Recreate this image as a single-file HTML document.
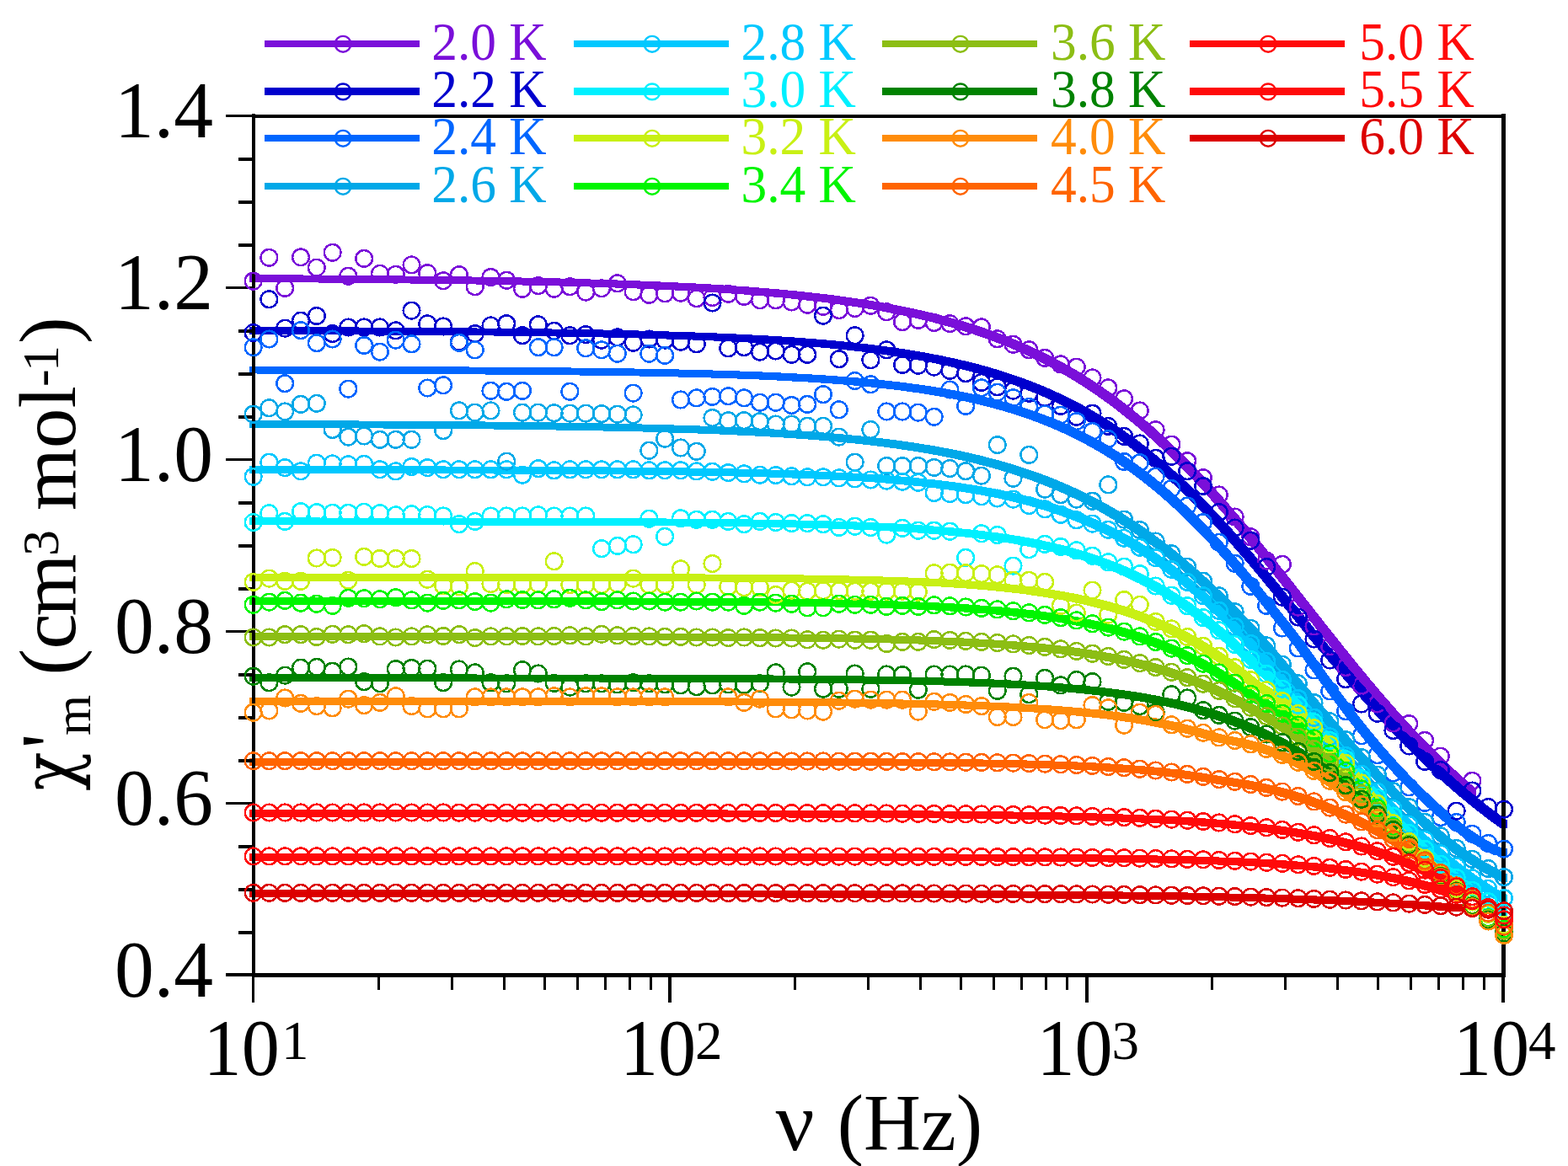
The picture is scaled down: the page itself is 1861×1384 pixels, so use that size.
<!DOCTYPE html>
<html lang="en"><head><meta charset="utf-8"><title>AC susceptibility vs frequency</title>
<style>html,body{margin:0;padding:0;background:#fff}body{width:1861px;height:1384px;overflow:hidden}svg{display:block}text{font-family:'Liberation Serif','Times New Roman',Times,serif;}</style></head><body>
<svg width="1861" height="1384" viewBox="0 0 1861 1384" role="img" aria-label="AC susceptibility versus frequency">
<rect x="0" y="0" width="1861" height="1384" fill="#ffffff"/>
<g stroke="none" shape-rendering="crispEdges">
<path d="M296.2 326.2 L305.0 326.2 L314.1 326.2 L323.2 326.3 L332.3 326.3 L341.4 326.4 L350.5 326.4 L359.6 326.5 L368.7 326.5 L377.8 326.6 L386.9 326.7 L396.0 326.7 L405.1 326.8 L414.2 326.9 L423.3 326.9 L432.4 327.0 L441.5 327.1 L450.6 327.2 L459.7 327.3 L468.8 327.4 L477.9 327.5 L487.0 327.6 L496.1 327.7 L505.2 327.8 L514.3 327.9 L523.4 328.0 L532.5 328.1 L541.6 328.2 L550.7 328.4 L559.8 328.5 L568.9 328.6 L578.0 328.8 L587.1 328.9 L596.2 329.1 L605.3 329.3 L614.4 329.4 L623.5 329.6 L632.6 329.8 L641.7 330.0 L650.8 330.2 L659.9 330.4 L669.0 330.6 L678.1 330.9 L687.2 331.1 L696.3 331.4 L705.4 331.6 L714.5 331.9 L723.6 332.2 L732.7 332.5 L741.8 332.8 L750.9 333.2 L760.0 333.5 L769.1 333.9 L778.2 334.3 L787.3 334.6 L796.4 335.1 L805.5 335.5 L814.6 335.9 L823.7 336.4 L832.8 336.9 L841.9 337.4 L851.0 338.0 L860.1 338.6 L869.2 339.2 L878.3 339.8 L887.4 340.4 L896.5 341.1 L905.6 341.9 L914.7 342.6 L923.8 343.4 L932.9 344.3 L942.0 345.1 L951.1 346.1 L960.2 347.0 L969.3 348.1 L978.4 349.1 L987.5 350.2 L996.6 351.4 L1005.7 352.7 L1014.8 354.0 L1023.9 355.3 L1033.0 356.8 L1042.1 358.3 L1051.2 359.9 L1060.3 361.6 L1069.4 363.3 L1078.5 365.2 L1087.6 367.1 L1096.7 369.2 L1105.8 371.3 L1114.9 373.6 L1124.0 376.0 L1133.1 378.5 L1142.2 381.1 L1151.3 383.8 L1160.4 386.7 L1169.5 389.8 L1178.6 393.0 L1187.7 396.3 L1196.8 399.9 L1205.9 403.5 L1215.0 407.4 L1224.1 411.5 L1233.2 415.7 L1242.3 420.2 L1251.4 424.9 L1260.5 429.8 L1269.6 434.9 L1278.7 440.2 L1287.8 445.8 L1296.9 451.6 L1306.0 457.7 L1315.1 464.0 L1324.2 470.6 L1333.3 477.4 L1342.3 484.5 L1351.4 491.9 L1360.5 499.5 L1369.6 507.4 L1378.7 515.6 L1387.8 524.1 L1396.9 532.8 L1406.0 541.8 L1415.1 551.0 L1424.2 560.5 L1433.3 570.2 L1442.4 580.2 L1451.5 590.4 L1460.6 600.8 L1469.7 611.4 L1478.8 622.2 L1487.9 633.1 L1497.0 644.2 L1506.1 655.5 L1515.2 666.8 L1524.3 678.3 L1533.4 689.8 L1542.5 701.3 L1551.6 712.9 L1560.7 724.5 L1569.8 736.1 L1578.9 747.6 L1588.0 759.1 L1597.1 770.5 L1606.2 781.8 L1615.3 792.9 L1624.4 804.0 L1633.5 814.8 L1642.6 825.5 L1651.7 836.0 L1660.8 846.3 L1669.9 856.4 L1679.0 866.2 L1688.1 875.9 L1697.2 885.2 L1706.3 894.3 L1715.4 903.2 L1724.5 911.7 L1733.6 920.1 L1742.7 928.1 L1751.8 935.9 L1751.8 944.7 L1743.0 944.7 L1733.9 936.9 L1724.8 928.9 L1715.7 920.5 L1706.6 912.0 L1697.5 903.1 L1688.4 894.0 L1679.3 884.7 L1670.2 875.0 L1661.1 865.2 L1652.0 855.1 L1642.9 844.8 L1633.8 834.3 L1624.7 823.6 L1615.6 812.8 L1606.5 801.7 L1597.4 790.6 L1588.3 779.3 L1579.2 767.9 L1570.1 756.4 L1561.0 744.9 L1551.9 733.3 L1542.8 721.7 L1533.7 710.1 L1524.6 698.6 L1515.5 687.1 L1506.4 675.6 L1497.3 664.3 L1488.2 653.0 L1479.1 641.9 L1470.0 631.0 L1460.9 620.2 L1451.8 609.6 L1442.7 599.2 L1433.6 589.0 L1424.5 579.0 L1415.4 569.3 L1406.3 559.8 L1397.2 550.6 L1388.1 541.6 L1379.0 532.9 L1369.9 524.4 L1360.8 516.2 L1351.7 508.3 L1342.6 500.7 L1333.5 493.3 L1324.5 486.2 L1315.4 479.4 L1306.3 472.8 L1297.2 466.5 L1288.1 460.4 L1279.0 454.6 L1269.9 449.0 L1260.8 443.7 L1251.7 438.6 L1242.6 433.7 L1233.5 429.0 L1224.4 424.5 L1215.3 420.3 L1206.2 416.2 L1197.1 412.3 L1188.0 408.7 L1178.9 405.1 L1169.8 401.8 L1160.7 398.6 L1151.6 395.5 L1142.5 392.6 L1133.4 389.9 L1124.3 387.3 L1115.2 384.8 L1106.1 382.4 L1097.0 380.1 L1087.9 378.0 L1078.8 375.9 L1069.7 374.0 L1060.6 372.1 L1051.5 370.4 L1042.4 368.7 L1033.3 367.1 L1024.2 365.6 L1015.1 364.1 L1006.0 362.8 L996.9 361.5 L987.8 360.2 L978.7 359.0 L969.6 357.9 L960.5 356.9 L951.4 355.8 L942.3 354.9 L933.2 353.9 L924.1 353.1 L915.0 352.2 L905.9 351.4 L896.8 350.7 L887.7 349.9 L878.6 349.2 L869.5 348.6 L860.4 348.0 L851.3 347.4 L842.2 346.8 L833.1 346.2 L824.0 345.7 L814.9 345.2 L805.8 344.7 L796.7 344.3 L787.6 343.9 L778.5 343.4 L769.4 343.1 L760.3 342.7 L751.2 342.3 L742.1 342.0 L733.0 341.6 L723.9 341.3 L714.8 341.0 L705.7 340.7 L696.6 340.4 L687.5 340.2 L678.4 339.9 L669.3 339.7 L660.2 339.4 L651.1 339.2 L642.0 339.0 L632.9 338.8 L623.8 338.6 L614.7 338.4 L605.6 338.2 L596.5 338.1 L587.4 337.9 L578.3 337.7 L569.2 337.6 L560.1 337.4 L551.0 337.3 L541.9 337.2 L532.8 337.0 L523.7 336.9 L514.6 336.8 L505.5 336.7 L496.4 336.6 L487.3 336.5 L478.2 336.4 L469.1 336.3 L460.0 336.2 L450.9 336.1 L441.8 336.0 L432.7 335.9 L423.6 335.8 L414.5 335.7 L405.4 335.7 L396.3 335.6 L387.2 335.5 L378.1 335.5 L369.0 335.4 L359.9 335.3 L350.8 335.3 L341.7 335.2 L332.6 335.2 L323.5 335.1 L314.4 335.1 L305.3 335.0 L296.2 335.0Z" fill="#7a0fd9"/>
<path d="M296.2 388.0 L305.0 388.0 L314.3 388.1 L323.7 388.1 L333.0 388.1 L342.3 388.1 L351.7 388.2 L361.0 388.2 L370.4 388.2 L379.7 388.3 L389.0 388.3 L398.4 388.4 L407.7 388.4 L417.0 388.4 L426.4 388.5 L435.7 388.5 L445.0 388.6 L454.4 388.6 L463.7 388.7 L473.0 388.7 L482.4 388.8 L491.7 388.9 L501.1 388.9 L510.4 389.0 L519.7 389.1 L529.1 389.1 L538.4 389.2 L547.7 389.3 L557.1 389.4 L566.4 389.5 L575.7 389.5 L585.1 389.6 L594.4 389.7 L603.7 389.8 L613.1 390.0 L622.4 390.1 L631.8 390.2 L641.1 390.3 L650.4 390.4 L659.8 390.6 L669.1 390.7 L678.4 390.9 L687.8 391.0 L697.1 391.2 L706.4 391.4 L715.8 391.5 L725.1 391.7 L734.5 391.9 L743.8 392.1 L753.1 392.4 L762.5 392.6 L771.8 392.8 L781.1 393.1 L790.5 393.4 L799.8 393.7 L809.1 394.0 L818.5 394.3 L827.8 394.6 L837.1 394.9 L846.5 395.3 L855.8 395.7 L865.2 396.1 L874.5 396.5 L883.8 397.0 L893.2 397.5 L902.5 398.0 L911.8 398.5 L921.2 399.1 L930.5 399.7 L939.8 400.3 L949.2 401.0 L958.5 401.7 L967.8 402.4 L977.2 403.2 L986.5 404.0 L995.9 404.9 L1005.2 405.8 L1014.5 406.8 L1023.9 407.8 L1033.2 408.9 L1042.5 410.1 L1051.9 411.3 L1061.2 412.6 L1070.5 414.0 L1079.9 415.5 L1089.2 417.0 L1098.6 418.6 L1107.9 420.4 L1117.2 422.2 L1126.6 424.2 L1135.9 426.2 L1145.2 428.4 L1154.6 430.7 L1163.9 433.1 L1173.2 435.7 L1182.6 438.5 L1191.9 441.4 L1201.2 444.4 L1210.6 447.7 L1219.9 451.1 L1229.3 454.7 L1238.6 458.5 L1247.9 462.5 L1257.3 466.8 L1266.6 471.2 L1275.9 475.9 L1285.3 480.9 L1294.6 486.1 L1303.9 491.5 L1313.3 497.3 L1322.6 503.3 L1332.0 509.6 L1341.3 516.2 L1350.6 523.0 L1360.0 530.2 L1369.3 537.7 L1378.6 545.5 L1388.0 553.6 L1397.3 561.9 L1406.6 570.6 L1416.0 579.6 L1425.3 588.9 L1434.6 598.4 L1444.0 608.3 L1453.3 618.3 L1462.7 628.7 L1472.0 639.2 L1481.3 650.0 L1490.7 660.9 L1500.0 672.0 L1509.3 683.3 L1518.7 694.7 L1528.0 706.2 L1537.3 717.7 L1546.7 729.3 L1556.0 740.9 L1565.3 752.5 L1574.7 763.4 L1584.0 774.3 L1593.4 785.2 L1602.7 796.1 L1612.0 806.8 L1621.4 817.5 L1630.7 828.0 L1640.0 838.4 L1649.4 848.5 L1658.7 858.5 L1668.0 868.3 L1677.4 877.8 L1686.7 887.1 L1696.1 896.1 L1705.4 904.9 L1714.7 913.5 L1724.1 921.9 L1733.4 930.0 L1742.7 937.9 L1752.1 945.6 L1761.4 953.1 L1770.7 960.3 L1780.1 967.3 L1789.4 973.9 L1789.4 982.7 L1780.6 982.7 L1771.3 976.1 L1761.9 969.1 L1752.6 961.9 L1743.3 954.4 L1733.9 946.7 L1724.6 938.8 L1715.3 930.7 L1705.9 922.3 L1696.6 913.7 L1687.3 904.9 L1677.9 895.9 L1668.6 886.6 L1659.2 877.1 L1649.9 867.3 L1640.6 857.3 L1631.2 847.2 L1621.9 836.8 L1612.6 826.3 L1603.2 815.6 L1593.9 804.9 L1584.6 794.0 L1575.2 783.1 L1565.9 772.2 L1556.5 761.3 L1547.2 749.7 L1537.9 738.1 L1528.5 726.5 L1519.2 715.0 L1509.9 703.5 L1500.5 692.1 L1491.2 680.8 L1481.9 669.7 L1472.5 658.8 L1463.2 648.0 L1453.9 637.5 L1444.5 627.1 L1435.2 617.1 L1425.8 607.2 L1416.5 597.7 L1407.2 588.4 L1397.8 579.4 L1388.5 570.7 L1379.2 562.4 L1369.8 554.3 L1360.5 546.5 L1351.2 539.0 L1341.8 531.8 L1332.5 525.0 L1323.2 518.4 L1313.8 512.1 L1304.5 506.1 L1295.1 500.3 L1285.8 494.9 L1276.5 489.7 L1267.1 484.7 L1257.8 480.0 L1248.5 475.6 L1239.1 471.3 L1229.8 467.3 L1220.5 463.5 L1211.1 459.9 L1201.8 456.5 L1192.4 453.2 L1183.1 450.2 L1173.8 447.3 L1164.4 444.5 L1155.1 441.9 L1145.8 439.5 L1136.4 437.2 L1127.1 435.0 L1117.8 433.0 L1108.4 431.0 L1099.1 429.2 L1089.8 427.4 L1080.4 425.8 L1071.1 424.3 L1061.7 422.8 L1052.4 421.4 L1043.1 420.1 L1033.7 418.9 L1024.4 417.7 L1015.1 416.6 L1005.7 415.6 L996.4 414.6 L987.1 413.7 L977.7 412.8 L968.4 412.0 L959.0 411.2 L949.7 410.5 L940.4 409.8 L931.0 409.1 L921.7 408.5 L912.4 407.9 L903.0 407.3 L893.7 406.8 L884.4 406.3 L875.0 405.8 L865.7 405.3 L856.4 404.9 L847.0 404.5 L837.7 404.1 L828.3 403.7 L819.0 403.4 L809.7 403.1 L800.3 402.8 L791.0 402.5 L781.7 402.2 L772.3 401.9 L763.0 401.6 L753.7 401.4 L744.3 401.2 L735.0 400.9 L725.7 400.7 L716.3 400.5 L707.0 400.3 L697.6 400.2 L688.3 400.0 L679.0 399.8 L669.6 399.7 L660.3 399.5 L651.0 399.4 L641.6 399.2 L632.3 399.1 L623.0 399.0 L613.6 398.9 L604.3 398.8 L594.9 398.6 L585.6 398.5 L576.3 398.4 L566.9 398.3 L557.6 398.3 L548.3 398.2 L538.9 398.1 L529.6 398.0 L520.3 397.9 L510.9 397.9 L501.6 397.8 L492.3 397.7 L482.9 397.7 L473.6 397.6 L464.2 397.5 L454.9 397.5 L445.6 397.4 L436.2 397.4 L426.9 397.3 L417.6 397.3 L408.2 397.2 L398.9 397.2 L389.6 397.2 L380.2 397.1 L370.9 397.1 L361.6 397.0 L352.2 397.0 L342.9 397.0 L333.5 396.9 L324.2 396.9 L314.9 396.9 L305.5 396.9 L296.2 396.8Z" fill="#0000cd"/>
<path d="M296.2 434.6 L305.0 434.6 L314.3 434.7 L323.7 434.7 L333.0 434.7 L342.3 434.7 L351.7 434.7 L361.0 434.8 L370.4 434.8 L379.7 434.8 L389.0 434.8 L398.4 434.8 L407.7 434.9 L417.0 434.9 L426.4 434.9 L435.7 435.0 L445.0 435.0 L454.4 435.0 L463.7 435.1 L473.0 435.1 L482.4 435.1 L491.7 435.2 L501.1 435.2 L510.4 435.2 L519.7 435.3 L529.1 435.3 L538.4 435.4 L547.7 435.4 L557.1 435.5 L566.4 435.5 L575.7 435.6 L585.1 435.7 L594.4 435.7 L603.7 435.8 L613.1 435.9 L622.4 435.9 L631.8 436.0 L641.1 436.1 L650.4 436.2 L659.8 436.3 L669.1 436.4 L678.4 436.5 L687.8 436.6 L697.1 436.7 L706.4 436.8 L715.8 436.9 L725.1 437.0 L734.5 437.2 L743.8 437.3 L753.1 437.5 L762.5 437.6 L771.8 437.8 L781.1 438.0 L790.5 438.2 L799.8 438.3 L809.1 438.6 L818.5 438.8 L827.8 439.0 L837.1 439.3 L846.5 439.5 L855.8 439.8 L865.2 440.1 L874.5 440.4 L883.8 440.7 L893.2 441.1 L902.5 441.4 L911.8 441.8 L921.2 442.2 L930.5 442.7 L939.8 443.2 L949.2 443.7 L958.5 444.2 L967.8 444.7 L977.2 445.3 L986.5 446.0 L995.9 446.6 L1005.2 447.4 L1014.5 448.1 L1023.9 448.9 L1033.2 449.8 L1042.5 450.7 L1051.9 451.7 L1061.2 452.7 L1070.5 453.8 L1079.9 455.0 L1089.2 456.3 L1098.6 457.6 L1107.9 459.0 L1117.2 460.6 L1126.6 462.2 L1135.9 463.9 L1145.2 465.7 L1154.6 467.7 L1163.9 469.8 L1173.2 472.0 L1182.6 474.4 L1191.9 476.9 L1201.2 479.5 L1210.6 482.4 L1219.9 485.4 L1229.3 488.6 L1238.6 492.0 L1247.9 495.6 L1257.3 499.4 L1266.6 503.5 L1275.9 507.8 L1285.3 512.4 L1294.6 517.2 L1303.9 522.3 L1313.3 527.6 L1322.6 533.3 L1332.0 539.3 L1341.3 545.6 L1350.6 552.1 L1360.0 559.1 L1369.3 566.3 L1378.6 573.9 L1388.0 581.8 L1397.3 590.1 L1406.6 598.6 L1416.0 607.6 L1425.3 616.8 L1434.6 626.4 L1444.0 636.3 L1453.3 646.4 L1462.7 656.9 L1472.0 667.6 L1481.3 678.6 L1490.7 689.8 L1500.0 701.2 L1509.3 712.8 L1518.7 724.5 L1528.0 736.3 L1537.3 748.2 L1546.7 760.5 L1556.0 773.5 L1565.3 786.5 L1574.7 799.5 L1584.0 812.3 L1593.4 824.9 L1602.7 837.3 L1612.0 849.4 L1621.4 861.2 L1630.7 872.7 L1640.0 883.9 L1649.4 894.6 L1658.7 904.9 L1668.0 914.9 L1677.4 924.6 L1686.7 934.0 L1696.1 943.0 L1705.4 951.7 L1714.7 960.1 L1724.1 968.1 L1733.4 975.9 L1742.7 983.0 L1752.1 989.5 L1761.4 995.4 L1770.7 1000.7 L1780.1 1005.6 L1789.4 1007.2 L1789.4 1016.0 L1780.6 1016.0 L1771.3 1014.4 L1761.9 1009.5 L1752.6 1004.2 L1743.3 998.3 L1733.9 991.8 L1724.6 984.7 L1715.3 976.9 L1705.9 968.9 L1696.6 960.5 L1687.3 951.8 L1677.9 942.8 L1668.6 933.4 L1659.2 923.7 L1649.9 913.7 L1640.6 903.4 L1631.2 892.7 L1621.9 881.5 L1612.6 870.0 L1603.2 858.2 L1593.9 846.1 L1584.6 833.7 L1575.2 821.1 L1565.9 808.3 L1556.5 795.3 L1547.2 782.3 L1537.9 769.3 L1528.5 757.0 L1519.2 745.1 L1509.9 733.3 L1500.5 721.6 L1491.2 710.0 L1481.9 698.6 L1472.5 687.4 L1463.2 676.4 L1453.9 665.7 L1444.5 655.2 L1435.2 645.1 L1425.8 635.2 L1416.5 625.6 L1407.2 616.4 L1397.8 607.4 L1388.5 598.9 L1379.2 590.6 L1369.8 582.7 L1360.5 575.1 L1351.2 567.9 L1341.8 560.9 L1332.5 554.4 L1323.2 548.1 L1313.8 542.1 L1304.5 536.4 L1295.1 531.1 L1285.8 526.0 L1276.5 521.2 L1267.1 516.6 L1257.8 512.3 L1248.5 508.2 L1239.1 504.4 L1229.8 500.8 L1220.5 497.4 L1211.1 494.2 L1201.8 491.2 L1192.4 488.3 L1183.1 485.7 L1173.8 483.2 L1164.4 480.8 L1155.1 478.6 L1145.8 476.5 L1136.4 474.5 L1127.1 472.7 L1117.8 471.0 L1108.4 469.4 L1099.1 467.8 L1089.8 466.4 L1080.4 465.1 L1071.1 463.8 L1061.7 462.6 L1052.4 461.5 L1043.1 460.5 L1033.7 459.5 L1024.4 458.6 L1015.1 457.7 L1005.7 456.9 L996.4 456.2 L987.1 455.4 L977.7 454.8 L968.4 454.1 L959.0 453.5 L949.7 453.0 L940.4 452.5 L931.0 452.0 L921.7 451.5 L912.4 451.0 L903.0 450.6 L893.7 450.2 L884.4 449.9 L875.0 449.5 L865.7 449.2 L856.4 448.9 L847.0 448.6 L837.7 448.3 L828.3 448.1 L819.0 447.8 L809.7 447.6 L800.3 447.4 L791.0 447.1 L781.7 447.0 L772.3 446.8 L763.0 446.6 L753.7 446.4 L744.3 446.3 L735.0 446.1 L725.7 446.0 L716.3 445.8 L707.0 445.7 L697.6 445.6 L688.3 445.5 L679.0 445.4 L669.6 445.3 L660.3 445.2 L651.0 445.1 L641.6 445.0 L632.3 444.9 L623.0 444.8 L613.6 444.7 L604.3 444.7 L594.9 444.6 L585.6 444.5 L576.3 444.5 L566.9 444.4 L557.6 444.3 L548.3 444.3 L538.9 444.2 L529.6 444.2 L520.3 444.1 L510.9 444.1 L501.6 444.0 L492.3 444.0 L482.9 444.0 L473.6 443.9 L464.2 443.9 L454.9 443.9 L445.6 443.8 L436.2 443.8 L426.9 443.8 L417.6 443.7 L408.2 443.7 L398.9 443.7 L389.6 443.6 L380.2 443.6 L370.9 443.6 L361.6 443.6 L352.2 443.6 L342.9 443.5 L333.5 443.5 L324.2 443.5 L314.9 443.5 L305.5 443.5 L296.2 443.4Z" fill="#0066ff"/>
<path d="M296.2 499.0 L305.0 499.0 L314.3 499.0 L323.7 499.1 L333.0 499.1 L342.3 499.1 L351.7 499.2 L361.0 499.2 L370.4 499.2 L379.7 499.3 L389.0 499.3 L398.4 499.3 L407.7 499.4 L417.0 499.4 L426.4 499.5 L435.7 499.5 L445.0 499.6 L454.4 499.6 L463.7 499.7 L473.0 499.7 L482.4 499.8 L491.7 499.8 L501.1 499.9 L510.4 500.0 L519.7 500.0 L529.1 500.1 L538.4 500.2 L547.7 500.3 L557.1 500.4 L566.4 500.4 L575.7 500.5 L585.1 500.6 L594.4 500.7 L603.7 500.8 L613.1 500.9 L622.4 501.0 L631.8 501.1 L641.1 501.3 L650.4 501.4 L659.8 501.5 L669.1 501.7 L678.4 501.8 L687.8 502.0 L697.1 502.1 L706.4 502.3 L715.8 502.5 L725.1 502.7 L734.5 502.8 L743.8 503.0 L753.1 503.3 L762.5 503.5 L771.8 503.7 L781.1 504.0 L790.5 504.2 L799.8 504.5 L809.1 504.8 L818.5 505.1 L827.8 505.4 L837.1 505.7 L846.5 506.1 L855.8 506.4 L865.2 506.8 L874.5 507.2 L883.8 507.7 L893.2 508.1 L902.5 508.6 L911.8 509.1 L921.2 509.6 L930.5 510.2 L939.8 510.8 L949.2 511.4 L958.5 512.0 L967.8 512.7 L977.2 513.4 L986.5 514.2 L995.9 515.0 L1005.2 515.9 L1014.5 516.8 L1023.9 517.7 L1033.2 518.8 L1042.5 519.8 L1051.9 521.0 L1061.2 522.2 L1070.5 523.4 L1079.9 524.8 L1089.2 526.2 L1098.6 527.7 L1107.9 529.2 L1117.2 530.9 L1126.6 532.7 L1135.9 534.5 L1145.2 536.5 L1154.6 538.6 L1163.9 540.8 L1173.2 543.2 L1182.6 545.6 L1191.9 548.2 L1201.2 551.0 L1210.6 553.9 L1219.9 557.0 L1229.3 560.2 L1238.6 563.6 L1247.9 567.2 L1257.3 571.0 L1266.6 575.0 L1275.9 579.2 L1285.3 583.6 L1294.6 588.2 L1303.9 593.1 L1313.3 598.2 L1322.6 603.5 L1332.0 609.1 L1341.3 615.0 L1350.6 621.1 L1360.0 627.5 L1369.3 634.1 L1378.6 641.1 L1388.0 648.3 L1397.3 655.7 L1406.6 663.5 L1416.0 671.5 L1425.3 679.8 L1434.6 688.3 L1444.0 697.1 L1453.3 706.1 L1462.7 715.4 L1472.0 724.9 L1481.3 734.5 L1490.7 744.4 L1500.0 754.4 L1509.3 765.0 L1518.7 776.1 L1528.0 787.3 L1537.3 798.6 L1546.7 809.8 L1556.0 821.1 L1565.3 832.3 L1574.7 843.4 L1584.0 854.4 L1593.4 865.3 L1602.7 876.0 L1612.0 886.5 L1621.4 896.9 L1630.7 907.2 L1640.0 917.2 L1649.4 927.1 L1658.7 936.8 L1668.0 946.2 L1677.4 955.4 L1686.7 964.3 L1696.1 973.0 L1705.4 981.4 L1714.7 989.3 L1724.1 996.8 L1733.4 1003.8 L1742.7 1010.4 L1752.1 1016.5 L1761.4 1022.3 L1770.7 1027.7 L1780.1 1032.8 L1789.4 1037.7 L1789.4 1046.5 L1780.6 1046.5 L1771.3 1041.6 L1761.9 1036.5 L1752.6 1031.1 L1743.3 1025.3 L1733.9 1019.2 L1724.6 1012.6 L1715.3 1005.6 L1705.9 998.1 L1696.6 990.2 L1687.3 981.8 L1677.9 973.1 L1668.6 964.2 L1659.2 955.0 L1649.9 945.6 L1640.6 935.9 L1631.2 926.0 L1621.9 916.0 L1612.6 905.7 L1603.2 895.3 L1593.9 884.8 L1584.6 874.1 L1575.2 863.2 L1565.9 852.2 L1556.5 841.1 L1547.2 829.9 L1537.9 818.6 L1528.5 807.4 L1519.2 796.1 L1509.9 784.9 L1500.5 773.8 L1491.2 763.2 L1481.9 753.2 L1472.5 743.3 L1463.2 733.7 L1453.9 724.2 L1444.5 714.9 L1435.2 705.9 L1425.8 697.1 L1416.5 688.6 L1407.2 680.3 L1397.8 672.3 L1388.5 664.5 L1379.2 657.1 L1369.8 649.9 L1360.5 642.9 L1351.2 636.3 L1341.8 629.9 L1332.5 623.8 L1323.2 617.9 L1313.8 612.3 L1304.5 607.0 L1295.1 601.9 L1285.8 597.0 L1276.5 592.4 L1267.1 588.0 L1257.8 583.8 L1248.5 579.8 L1239.1 576.0 L1229.8 572.4 L1220.5 569.0 L1211.1 565.8 L1201.8 562.7 L1192.4 559.8 L1183.1 557.0 L1173.8 554.4 L1164.4 552.0 L1155.1 549.6 L1145.8 547.4 L1136.4 545.3 L1127.1 543.3 L1117.8 541.5 L1108.4 539.7 L1099.1 538.0 L1089.8 536.5 L1080.4 535.0 L1071.1 533.6 L1061.7 532.2 L1052.4 531.0 L1043.1 529.8 L1033.7 528.6 L1024.4 527.6 L1015.1 526.5 L1005.7 525.6 L996.4 524.7 L987.1 523.8 L977.7 523.0 L968.4 522.2 L959.0 521.5 L949.7 520.8 L940.4 520.2 L931.0 519.6 L921.7 519.0 L912.4 518.4 L903.0 517.9 L893.7 517.4 L884.4 516.9 L875.0 516.5 L865.7 516.0 L856.4 515.6 L847.0 515.2 L837.7 514.9 L828.3 514.5 L819.0 514.2 L809.7 513.9 L800.3 513.6 L791.0 513.3 L781.7 513.0 L772.3 512.8 L763.0 512.5 L753.7 512.3 L744.3 512.1 L735.0 511.8 L725.7 511.6 L716.3 511.5 L707.0 511.3 L697.6 511.1 L688.3 510.9 L679.0 510.8 L669.6 510.6 L660.3 510.5 L651.0 510.3 L641.6 510.2 L632.3 510.1 L623.0 509.9 L613.6 509.8 L604.3 509.7 L594.9 509.6 L585.6 509.5 L576.3 509.4 L566.9 509.3 L557.6 509.2 L548.3 509.2 L538.9 509.1 L529.6 509.0 L520.3 508.9 L510.9 508.8 L501.6 508.8 L492.3 508.7 L482.9 508.6 L473.6 508.6 L464.2 508.5 L454.9 508.5 L445.6 508.4 L436.2 508.4 L426.9 508.3 L417.6 508.3 L408.2 508.2 L398.9 508.2 L389.6 508.1 L380.2 508.1 L370.9 508.1 L361.6 508.0 L352.2 508.0 L342.9 508.0 L333.5 507.9 L324.2 507.9 L314.9 507.9 L305.5 507.8 L296.2 507.8Z" fill="#00a8e8"/>
<path d="M296.2 553.1 L305.0 553.1 L314.3 553.1 L323.7 553.1 L333.0 553.1 L342.3 553.1 L351.7 553.1 L361.0 553.2 L370.4 553.2 L379.7 553.2 L389.0 553.2 L398.4 553.2 L407.7 553.2 L417.0 553.2 L426.4 553.2 L435.7 553.3 L445.0 553.3 L454.4 553.3 L463.7 553.3 L473.0 553.3 L482.4 553.4 L491.7 553.4 L501.1 553.4 L510.4 553.4 L519.7 553.4 L529.1 553.5 L538.4 553.5 L547.7 553.5 L557.1 553.6 L566.4 553.6 L575.7 553.6 L585.1 553.6 L594.4 553.7 L603.7 553.7 L613.1 553.8 L622.4 553.8 L631.8 553.9 L641.1 553.9 L650.4 553.9 L659.8 554.0 L669.1 554.1 L678.4 554.1 L687.8 554.2 L697.1 554.2 L706.4 554.3 L715.8 554.4 L725.1 554.5 L734.5 554.5 L743.8 554.6 L753.1 554.7 L762.5 554.8 L771.8 554.9 L781.1 555.0 L790.5 555.1 L799.8 555.3 L809.1 555.4 L818.5 555.5 L827.8 555.7 L837.1 555.8 L846.5 556.0 L855.8 556.2 L865.2 556.3 L874.5 556.5 L883.8 556.8 L893.2 557.0 L902.5 557.2 L911.8 557.5 L921.2 557.7 L930.5 558.0 L939.8 558.3 L949.2 558.7 L958.5 559.0 L967.8 559.4 L977.2 559.8 L986.5 560.2 L995.9 560.7 L1005.2 561.1 L1014.5 561.7 L1023.9 562.2 L1033.2 562.8 L1042.5 563.4 L1051.9 564.1 L1061.2 564.8 L1070.5 565.6 L1079.9 566.5 L1089.2 567.3 L1098.6 568.3 L1107.9 569.3 L1117.2 570.4 L1126.6 571.6 L1135.9 572.8 L1145.2 574.2 L1154.6 575.6 L1163.9 577.2 L1173.2 578.8 L1182.6 580.6 L1191.9 582.4 L1201.2 584.4 L1210.6 586.6 L1219.9 588.9 L1229.3 591.4 L1238.6 594.0 L1247.9 596.8 L1257.3 599.8 L1266.6 603.0 L1275.9 606.4 L1285.3 610.0 L1294.6 613.8 L1303.9 617.9 L1313.3 622.2 L1322.6 626.8 L1332.0 631.7 L1341.3 636.9 L1350.6 642.3 L1360.0 648.1 L1369.3 654.2 L1378.6 660.6 L1388.0 667.3 L1397.3 674.3 L1406.6 681.7 L1416.0 689.4 L1425.3 697.5 L1434.6 705.9 L1444.0 714.6 L1453.3 723.6 L1462.7 732.9 L1472.0 742.5 L1481.3 752.4 L1490.7 762.6 L1500.0 772.9 L1509.3 783.5 L1518.7 794.3 L1528.0 805.3 L1537.3 816.4 L1546.7 827.5 L1556.0 838.8 L1565.3 850.0 L1574.7 861.3 L1584.0 872.6 L1593.4 883.7 L1602.7 894.8 L1612.0 905.7 L1621.4 916.5 L1630.7 927.1 L1640.0 937.4 L1649.4 947.6 L1658.7 957.4 L1668.0 967.0 L1677.4 976.3 L1686.7 985.3 L1696.1 994.0 L1705.4 1002.3 L1714.7 1010.3 L1724.1 1018.0 L1733.4 1025.3 L1742.7 1032.4 L1752.1 1039.0 L1761.4 1045.4 L1770.7 1051.4 L1780.1 1057.2 L1789.4 1062.6 L1789.4 1071.4 L1780.6 1071.4 L1771.3 1066.0 L1761.9 1060.2 L1752.6 1054.2 L1743.3 1047.8 L1733.9 1041.2 L1724.6 1034.1 L1715.3 1026.8 L1705.9 1019.1 L1696.6 1011.1 L1687.3 1002.8 L1677.9 994.1 L1668.6 985.1 L1659.2 975.8 L1649.9 966.2 L1640.6 956.4 L1631.2 946.2 L1621.9 935.9 L1612.6 925.3 L1603.2 914.5 L1593.9 903.6 L1584.6 892.5 L1575.2 881.4 L1565.9 870.1 L1556.5 858.8 L1547.2 847.6 L1537.9 836.3 L1528.5 825.2 L1519.2 814.1 L1509.9 803.1 L1500.5 792.3 L1491.2 781.7 L1481.9 771.4 L1472.5 761.2 L1463.2 751.3 L1453.9 741.7 L1444.5 732.4 L1435.2 723.4 L1425.8 714.7 L1416.5 706.3 L1407.2 698.2 L1397.8 690.5 L1388.5 683.1 L1379.2 676.1 L1369.8 669.4 L1360.5 663.0 L1351.2 656.9 L1341.8 651.1 L1332.5 645.7 L1323.2 640.5 L1313.8 635.6 L1304.5 631.0 L1295.1 626.7 L1285.8 622.6 L1276.5 618.8 L1267.1 615.2 L1257.8 611.8 L1248.5 608.6 L1239.1 605.6 L1229.8 602.8 L1220.5 600.2 L1211.1 597.7 L1201.8 595.4 L1192.4 593.2 L1183.1 591.2 L1173.8 589.4 L1164.4 587.6 L1155.1 586.0 L1145.8 584.4 L1136.4 583.0 L1127.1 581.6 L1117.8 580.4 L1108.4 579.2 L1099.1 578.1 L1089.8 577.1 L1080.4 576.1 L1071.1 575.3 L1061.7 574.4 L1052.4 573.6 L1043.1 572.9 L1033.7 572.2 L1024.4 571.6 L1015.1 571.0 L1005.7 570.5 L996.4 569.9 L987.1 569.5 L977.7 569.0 L968.4 568.6 L959.0 568.2 L949.7 567.8 L940.4 567.5 L931.0 567.1 L921.7 566.8 L912.4 566.5 L903.0 566.3 L893.7 566.0 L884.4 565.8 L875.0 565.6 L865.7 565.3 L856.4 565.1 L847.0 565.0 L837.7 564.8 L828.3 564.6 L819.0 564.5 L809.7 564.3 L800.3 564.2 L791.0 564.1 L781.7 563.9 L772.3 563.8 L763.0 563.7 L753.7 563.6 L744.3 563.5 L735.0 563.4 L725.7 563.3 L716.3 563.3 L707.0 563.2 L697.6 563.1 L688.3 563.0 L679.0 563.0 L669.6 562.9 L660.3 562.9 L651.0 562.8 L641.6 562.7 L632.3 562.7 L623.0 562.7 L613.6 562.6 L604.3 562.6 L594.9 562.5 L585.6 562.5 L576.3 562.4 L566.9 562.4 L557.6 562.4 L548.3 562.4 L538.9 562.3 L529.6 562.3 L520.3 562.3 L510.9 562.2 L501.6 562.2 L492.3 562.2 L482.9 562.2 L473.6 562.2 L464.2 562.1 L454.9 562.1 L445.6 562.1 L436.2 562.1 L426.9 562.1 L417.6 562.0 L408.2 562.0 L398.9 562.0 L389.6 562.0 L380.2 562.0 L370.9 562.0 L361.6 562.0 L352.2 562.0 L342.9 561.9 L333.5 561.9 L324.2 561.9 L314.9 561.9 L305.5 561.9 L296.2 561.9Z" fill="#00c8ff"/>
<path d="M296.2 614.4 L305.0 614.4 L314.3 614.4 L323.7 614.4 L333.0 614.4 L342.3 614.4 L351.7 614.4 L361.0 614.4 L370.4 614.4 L379.7 614.5 L389.0 614.5 L398.4 614.5 L407.7 614.5 L417.0 614.5 L426.4 614.5 L435.7 614.5 L445.0 614.5 L454.4 614.5 L463.7 614.5 L473.0 614.5 L482.4 614.5 L491.7 614.5 L501.1 614.6 L510.4 614.6 L519.7 614.6 L529.1 614.6 L538.4 614.6 L547.7 614.6 L557.1 614.6 L566.4 614.7 L575.7 614.7 L585.1 614.7 L594.4 614.7 L603.7 614.7 L613.1 614.7 L622.4 614.8 L631.8 614.8 L641.1 614.8 L650.4 614.8 L659.8 614.9 L669.1 614.9 L678.4 614.9 L687.8 615.0 L697.1 615.0 L706.4 615.0 L715.8 615.1 L725.1 615.1 L734.5 615.2 L743.8 615.2 L753.1 615.2 L762.5 615.3 L771.8 615.4 L781.1 615.4 L790.5 615.5 L799.8 615.5 L809.1 615.6 L818.5 615.7 L827.8 615.8 L837.1 615.9 L846.5 616.0 L855.8 616.1 L865.2 616.2 L874.5 616.3 L883.8 616.4 L893.2 616.5 L902.5 616.7 L911.8 616.8 L921.2 617.0 L930.5 617.2 L939.8 617.4 L949.2 617.6 L958.5 617.8 L967.8 618.0 L977.2 618.2 L986.5 618.5 L995.9 618.8 L1005.2 619.1 L1014.5 619.4 L1023.9 619.8 L1033.2 620.2 L1042.5 620.6 L1051.9 621.0 L1061.2 621.5 L1070.5 622.0 L1079.9 622.6 L1089.2 623.1 L1098.6 623.8 L1107.9 624.5 L1117.2 625.2 L1126.6 626.0 L1135.9 626.9 L1145.2 627.8 L1154.6 628.8 L1163.9 629.8 L1173.2 631.0 L1182.6 632.2 L1191.9 633.6 L1201.2 635.0 L1210.6 636.5 L1219.9 638.2 L1229.3 640.0 L1238.6 641.9 L1247.9 643.9 L1257.3 646.2 L1266.6 648.5 L1275.9 651.1 L1285.3 653.8 L1294.6 656.7 L1303.9 659.8 L1313.3 663.2 L1322.6 666.7 L1332.0 670.5 L1341.3 674.6 L1350.6 678.9 L1360.0 683.5 L1369.3 688.4 L1378.6 693.6 L1388.0 699.1 L1397.3 704.9 L1406.6 711.0 L1416.0 717.5 L1425.3 724.3 L1434.6 731.5 L1444.0 738.9 L1453.3 746.8 L1462.7 754.9 L1472.0 763.4 L1481.3 772.2 L1490.7 781.3 L1500.0 789.9 L1509.3 798.2 L1518.7 806.9 L1528.0 815.9 L1537.3 825.3 L1546.7 835.0 L1556.0 845.1 L1565.3 855.4 L1574.7 866.1 L1584.0 876.9 L1593.4 888.0 L1602.7 899.3 L1612.0 910.7 L1621.4 922.0 L1630.7 933.3 L1640.0 944.4 L1649.4 955.4 L1658.7 966.1 L1668.0 976.4 L1677.4 986.3 L1686.7 995.9 L1696.1 1005.1 L1705.4 1014.1 L1714.7 1022.7 L1724.1 1030.9 L1733.4 1038.8 L1742.7 1046.4 L1752.1 1053.5 L1761.4 1060.4 L1770.7 1066.8 L1780.1 1072.9 L1789.4 1078.7 L1789.4 1087.5 L1780.6 1087.5 L1771.3 1081.7 L1761.9 1075.6 L1752.6 1069.2 L1743.3 1062.3 L1733.9 1055.2 L1724.6 1047.6 L1715.3 1039.7 L1705.9 1031.5 L1696.6 1022.9 L1687.3 1013.9 L1677.9 1004.7 L1668.6 995.1 L1659.2 985.2 L1649.9 974.9 L1640.6 964.2 L1631.2 953.2 L1621.9 942.1 L1612.6 930.8 L1603.2 919.5 L1593.9 908.1 L1584.6 896.8 L1575.2 885.7 L1565.9 874.9 L1556.5 864.2 L1547.2 853.9 L1537.9 843.8 L1528.5 834.1 L1519.2 824.7 L1509.9 815.7 L1500.5 807.0 L1491.2 798.7 L1481.9 790.1 L1472.5 781.0 L1463.2 772.2 L1453.9 763.7 L1444.5 755.6 L1435.2 747.7 L1425.8 740.3 L1416.5 733.1 L1407.2 726.3 L1397.8 719.8 L1388.5 713.7 L1379.2 707.9 L1369.8 702.4 L1360.5 697.2 L1351.2 692.3 L1341.8 687.7 L1332.5 683.4 L1323.2 679.3 L1313.8 675.5 L1304.5 672.0 L1295.1 668.6 L1285.8 665.5 L1276.5 662.6 L1267.1 659.9 L1257.8 657.3 L1248.5 655.0 L1239.1 652.7 L1229.8 650.7 L1220.5 648.8 L1211.1 647.0 L1201.8 645.3 L1192.4 643.8 L1183.1 642.4 L1173.8 641.0 L1164.4 639.8 L1155.1 638.6 L1145.8 637.6 L1136.4 636.6 L1127.1 635.7 L1117.8 634.8 L1108.4 634.0 L1099.1 633.3 L1089.8 632.6 L1080.4 631.9 L1071.1 631.4 L1061.7 630.8 L1052.4 630.3 L1043.1 629.8 L1033.7 629.4 L1024.4 629.0 L1015.1 628.6 L1005.7 628.2 L996.4 627.9 L987.1 627.6 L977.7 627.3 L968.4 627.0 L959.0 626.8 L949.7 626.6 L940.4 626.4 L931.0 626.2 L921.7 626.0 L912.4 625.8 L903.0 625.6 L893.7 625.5 L884.4 625.3 L875.0 625.2 L865.7 625.1 L856.4 625.0 L847.0 624.9 L837.7 624.8 L828.3 624.7 L819.0 624.6 L809.7 624.5 L800.3 624.4 L791.0 624.3 L781.7 624.3 L772.3 624.2 L763.0 624.2 L753.7 624.1 L744.3 624.0 L735.0 624.0 L725.7 624.0 L716.3 623.9 L707.0 623.9 L697.6 623.8 L688.3 623.8 L679.0 623.8 L669.6 623.7 L660.3 623.7 L651.0 623.7 L641.6 623.6 L632.3 623.6 L623.0 623.6 L613.6 623.6 L604.3 623.5 L594.9 623.5 L585.6 623.5 L576.3 623.5 L566.9 623.5 L557.6 623.5 L548.3 623.4 L538.9 623.4 L529.6 623.4 L520.3 623.4 L510.9 623.4 L501.6 623.4 L492.3 623.4 L482.9 623.3 L473.6 623.3 L464.2 623.3 L454.9 623.3 L445.6 623.3 L436.2 623.3 L426.9 623.3 L417.6 623.3 L408.2 623.3 L398.9 623.3 L389.6 623.3 L380.2 623.3 L370.9 623.3 L361.6 623.2 L352.2 623.2 L342.9 623.2 L333.5 623.2 L324.2 623.2 L314.9 623.2 L305.5 623.2 L296.2 623.2Z" fill="#00f0ff"/>
<path d="M296.2 680.7 L305.0 680.7 L314.0 680.7 L323.0 680.7 L332.1 680.7 L341.1 680.7 L350.1 680.7 L359.1 680.7 L368.1 680.7 L377.1 680.7 L386.2 680.7 L395.2 680.7 L404.2 680.7 L413.2 680.7 L422.2 680.8 L431.3 680.8 L440.3 680.8 L449.3 680.8 L458.3 680.8 L467.3 680.8 L476.3 680.8 L485.4 680.8 L494.4 680.8 L503.4 680.8 L512.4 680.8 L521.4 680.8 L530.5 680.8 L539.5 680.8 L548.5 680.8 L557.5 680.8 L566.5 680.8 L575.5 680.8 L584.6 680.8 L593.6 680.9 L602.6 680.9 L611.6 680.9 L620.6 680.9 L629.7 680.9 L638.7 680.9 L647.7 680.9 L656.7 680.9 L665.7 680.9 L674.7 681.0 L683.8 681.0 L692.8 681.0 L701.8 681.0 L710.8 681.0 L719.8 681.1 L728.9 681.1 L737.9 681.1 L746.9 681.1 L755.9 681.1 L764.9 681.2 L774.0 681.2 L783.0 681.2 L792.0 681.3 L801.0 681.3 L810.0 681.3 L819.0 681.4 L828.1 681.4 L837.1 681.5 L846.1 681.5 L855.1 681.6 L864.1 681.7 L873.2 681.7 L882.2 681.8 L891.2 681.9 L900.2 681.9 L909.2 682.0 L918.2 682.1 L927.3 682.2 L936.3 682.3 L945.3 682.4 L954.3 682.5 L963.3 682.7 L972.4 682.8 L981.4 683.0 L990.4 683.1 L999.4 683.3 L1008.4 683.5 L1017.4 683.7 L1026.5 683.9 L1035.5 684.1 L1044.5 684.4 L1053.5 684.7 L1062.5 684.9 L1071.6 685.3 L1080.6 685.6 L1089.6 686.0 L1098.6 686.4 L1107.6 686.8 L1116.6 687.2 L1125.7 687.7 L1134.7 688.3 L1143.7 688.9 L1152.7 689.5 L1161.7 690.1 L1170.8 690.9 L1179.8 691.6 L1188.8 692.5 L1197.8 693.4 L1206.8 694.4 L1215.8 695.4 L1224.9 696.5 L1233.9 697.8 L1242.9 699.1 L1251.9 700.5 L1260.9 702.0 L1270.0 703.6 L1279.0 705.4 L1288.0 707.3 L1297.0 709.3 L1306.0 711.5 L1315.0 713.8 L1324.1 716.3 L1333.1 719.0 L1342.1 721.9 L1351.1 724.9 L1360.1 728.2 L1369.2 731.7 L1378.2 735.5 L1387.2 739.4 L1396.2 743.7 L1405.2 748.2 L1414.2 752.9 L1423.3 758.0 L1432.3 763.3 L1441.3 768.9 L1450.3 774.9 L1459.3 781.1 L1468.4 787.7 L1477.4 794.6 L1486.4 801.8 L1495.4 808.9 L1504.4 814.0 L1513.4 819.6 L1522.5 825.8 L1531.5 832.5 L1540.5 839.7 L1549.5 847.5 L1558.5 855.7 L1567.6 864.5 L1576.6 873.8 L1585.6 883.6 L1594.6 894.0 L1603.6 905.0 L1612.6 916.3 L1621.7 927.9 L1630.7 939.5 L1639.7 951.2 L1648.7 962.6 L1657.7 973.7 L1666.8 984.4 L1675.8 994.5 L1684.8 1004.2 L1693.8 1013.6 L1702.8 1022.8 L1711.9 1031.6 L1720.9 1040.2 L1729.9 1048.5 L1738.9 1056.4 L1738.9 1065.2 L1730.1 1065.2 L1721.1 1057.3 L1712.1 1049.0 L1703.1 1040.4 L1694.0 1031.6 L1685.0 1022.4 L1676.0 1013.0 L1667.0 1003.3 L1658.0 993.2 L1648.9 982.5 L1639.9 971.4 L1630.9 960.0 L1621.9 948.3 L1612.9 936.7 L1603.8 925.1 L1594.8 913.8 L1585.8 902.8 L1576.8 892.4 L1567.8 882.6 L1558.8 873.3 L1549.7 864.5 L1540.7 856.3 L1531.7 848.5 L1522.7 841.3 L1513.7 834.6 L1504.6 828.4 L1495.6 822.8 L1486.6 817.7 L1477.6 810.6 L1468.6 803.4 L1459.6 796.5 L1450.5 789.9 L1441.5 783.7 L1432.5 777.7 L1423.5 772.1 L1414.5 766.8 L1405.4 761.7 L1396.4 757.0 L1387.4 752.5 L1378.4 748.2 L1369.4 744.3 L1360.4 740.5 L1351.3 737.0 L1342.3 733.7 L1333.3 730.7 L1324.3 727.8 L1315.3 725.1 L1306.2 722.6 L1297.2 720.3 L1288.2 718.1 L1279.2 716.1 L1270.2 714.2 L1261.2 712.4 L1252.1 710.8 L1243.1 709.3 L1234.1 707.9 L1225.1 706.6 L1216.1 705.3 L1207.0 704.2 L1198.0 703.2 L1189.0 702.2 L1180.0 701.3 L1171.0 700.4 L1162.0 699.7 L1152.9 698.9 L1143.9 698.3 L1134.9 697.7 L1125.9 697.1 L1116.9 696.5 L1107.8 696.0 L1098.8 695.6 L1089.8 695.2 L1080.8 694.8 L1071.8 694.4 L1062.8 694.1 L1053.7 693.7 L1044.7 693.5 L1035.7 693.2 L1026.7 692.9 L1017.7 692.7 L1008.6 692.5 L999.6 692.3 L990.6 692.1 L981.6 691.9 L972.6 691.8 L963.6 691.6 L954.5 691.5 L945.5 691.3 L936.5 691.2 L927.5 691.1 L918.5 691.0 L909.4 690.9 L900.4 690.8 L891.4 690.7 L882.4 690.7 L873.4 690.6 L864.4 690.5 L855.3 690.5 L846.3 690.4 L837.3 690.3 L828.3 690.3 L819.3 690.2 L810.2 690.2 L801.2 690.1 L792.2 690.1 L783.2 690.1 L774.2 690.0 L765.2 690.0 L756.1 690.0 L747.1 689.9 L738.1 689.9 L729.1 689.9 L720.1 689.9 L711.0 689.9 L702.0 689.8 L693.0 689.8 L684.0 689.8 L675.0 689.8 L665.9 689.8 L656.9 689.7 L647.9 689.7 L638.9 689.7 L629.9 689.7 L620.9 689.7 L611.8 689.7 L602.8 689.7 L593.8 689.7 L584.8 689.7 L575.8 689.6 L566.7 689.6 L557.7 689.6 L548.7 689.6 L539.7 689.6 L530.7 689.6 L521.7 689.6 L512.6 689.6 L503.6 689.6 L494.6 689.6 L485.6 689.6 L476.6 689.6 L467.5 689.6 L458.5 689.6 L449.5 689.6 L440.5 689.6 L431.5 689.6 L422.5 689.6 L413.4 689.6 L404.4 689.5 L395.4 689.5 L386.4 689.5 L377.4 689.5 L368.3 689.5 L359.3 689.5 L350.3 689.5 L341.3 689.5 L332.3 689.5 L323.3 689.5 L314.2 689.5 L305.2 689.5 L296.2 689.5Z" fill="#c8f014"/>
<path d="M296.2 708.9 L305.0 708.9 L314.0 708.9 L323.0 708.9 L332.1 708.9 L341.1 708.9 L350.1 708.9 L359.1 708.9 L368.1 708.9 L377.1 708.9 L386.2 708.9 L395.2 708.9 L404.2 708.9 L413.2 708.9 L422.2 709.0 L431.3 709.0 L440.3 709.0 L449.3 709.0 L458.3 709.0 L467.3 709.0 L476.3 709.0 L485.4 709.0 L494.4 709.0 L503.4 709.0 L512.4 709.0 L521.4 709.0 L530.5 709.0 L539.5 709.0 L548.5 709.0 L557.5 709.1 L566.5 709.1 L575.5 709.1 L584.6 709.1 L593.6 709.1 L602.6 709.1 L611.6 709.1 L620.6 709.1 L629.7 709.1 L638.7 709.2 L647.7 709.2 L656.7 709.2 L665.7 709.2 L674.7 709.2 L683.8 709.3 L692.8 709.3 L701.8 709.3 L710.8 709.3 L719.8 709.3 L728.9 709.4 L737.9 709.4 L746.9 709.4 L755.9 709.5 L764.9 709.5 L774.0 709.5 L783.0 709.6 L792.0 709.6 L801.0 709.6 L810.0 709.7 L819.0 709.7 L828.1 709.8 L837.1 709.8 L846.1 709.9 L855.1 710.0 L864.1 710.0 L873.2 710.1 L882.2 710.2 L891.2 710.2 L900.2 710.3 L909.2 710.4 L918.2 710.5 L927.3 710.6 L936.3 710.7 L945.3 710.8 L954.3 711.0 L963.3 711.1 L972.4 711.2 L981.4 711.4 L990.4 711.6 L999.4 711.7 L1008.4 711.9 L1017.4 712.1 L1026.5 712.3 L1035.5 712.6 L1044.5 712.8 L1053.5 713.1 L1062.5 713.4 L1071.6 713.7 L1080.6 714.0 L1089.6 714.4 L1098.6 714.8 L1107.6 715.2 L1116.6 715.6 L1125.7 716.1 L1134.7 716.6 L1143.7 717.1 L1152.7 717.7 L1161.7 718.4 L1170.8 719.0 L1179.8 719.8 L1188.8 720.5 L1197.8 721.4 L1206.8 722.3 L1215.8 723.3 L1224.9 724.3 L1233.9 725.4 L1242.9 726.6 L1251.9 727.9 L1260.9 729.3 L1270.0 730.8 L1279.0 732.4 L1288.0 734.1 L1297.0 736.0 L1306.0 737.9 L1315.0 740.0 L1324.1 742.3 L1333.1 744.7 L1342.1 747.3 L1351.1 750.0 L1360.1 753.0 L1369.2 756.1 L1378.2 759.4 L1387.2 763.0 L1396.2 766.7 L1405.2 770.8 L1414.2 775.0 L1423.3 779.5 L1432.3 784.3 L1441.3 789.3 L1450.3 794.6 L1459.3 800.2 L1468.4 806.1 L1477.4 812.2 L1486.4 818.7 L1495.4 825.1 L1504.4 829.8 L1513.4 835.0 L1522.5 840.7 L1531.5 846.8 L1540.5 853.4 L1549.5 860.6 L1558.5 868.2 L1567.6 876.3 L1576.6 884.9 L1585.6 894.0 L1594.6 903.6 L1603.6 913.7 L1612.6 924.1 L1621.7 934.8 L1630.7 945.5 L1639.7 956.4 L1648.7 967.1 L1657.7 977.6 L1666.8 987.9 L1675.8 997.7 L1684.8 1007.3 L1693.8 1016.6 L1702.8 1025.8 L1711.9 1034.7 L1720.9 1043.4 L1729.9 1051.8 L1738.9 1059.9 L1738.9 1068.7 L1730.1 1068.7 L1721.1 1060.6 L1712.1 1052.2 L1703.1 1043.5 L1694.0 1034.6 L1685.0 1025.4 L1676.0 1016.1 L1667.0 1006.5 L1658.0 996.7 L1648.9 986.4 L1639.9 975.9 L1630.9 965.2 L1621.9 954.3 L1612.9 943.6 L1603.8 932.9 L1594.8 922.5 L1585.8 912.4 L1576.8 902.8 L1567.8 893.7 L1558.8 885.1 L1549.7 877.0 L1540.7 869.4 L1531.7 862.2 L1522.7 855.6 L1513.7 849.5 L1504.6 843.8 L1495.6 838.6 L1486.6 833.9 L1477.6 827.5 L1468.6 821.0 L1459.6 814.9 L1450.5 809.0 L1441.5 803.4 L1432.5 798.1 L1423.5 793.1 L1414.5 788.3 L1405.4 783.8 L1396.4 779.6 L1387.4 775.5 L1378.4 771.8 L1369.4 768.2 L1360.4 764.9 L1351.3 761.8 L1342.3 758.8 L1333.3 756.1 L1324.3 753.5 L1315.3 751.1 L1306.2 748.8 L1297.2 746.7 L1288.2 744.8 L1279.2 742.9 L1270.2 741.2 L1261.2 739.6 L1252.1 738.1 L1243.1 736.7 L1234.1 735.4 L1225.1 734.2 L1216.1 733.1 L1207.0 732.1 L1198.0 731.1 L1189.0 730.2 L1180.0 729.3 L1171.0 728.6 L1162.0 727.8 L1152.9 727.2 L1143.9 726.5 L1134.9 725.9 L1125.9 725.4 L1116.9 724.9 L1107.8 724.4 L1098.8 724.0 L1089.8 723.6 L1080.8 723.2 L1071.8 722.8 L1062.8 722.5 L1053.7 722.2 L1044.7 721.9 L1035.7 721.6 L1026.7 721.4 L1017.7 721.1 L1008.6 720.9 L999.6 720.7 L990.6 720.5 L981.6 720.4 L972.6 720.2 L963.6 720.0 L954.5 719.9 L945.5 719.8 L936.5 719.6 L927.5 719.5 L918.5 719.4 L909.4 719.3 L900.4 719.2 L891.4 719.1 L882.4 719.0 L873.4 719.0 L864.4 718.9 L855.3 718.8 L846.3 718.8 L837.3 718.7 L828.3 718.6 L819.3 718.6 L810.2 718.5 L801.2 718.5 L792.2 718.4 L783.2 718.4 L774.2 718.4 L765.2 718.3 L756.1 718.3 L747.1 718.3 L738.1 718.2 L729.1 718.2 L720.1 718.2 L711.0 718.1 L702.0 718.1 L693.0 718.1 L684.0 718.1 L675.0 718.1 L665.9 718.0 L656.9 718.0 L647.9 718.0 L638.9 718.0 L629.9 718.0 L620.9 717.9 L611.8 717.9 L602.8 717.9 L593.8 717.9 L584.8 717.9 L575.8 717.9 L566.7 717.9 L557.7 717.9 L548.7 717.9 L539.7 717.8 L530.7 717.8 L521.7 717.8 L512.6 717.8 L503.6 717.8 L494.6 717.8 L485.6 717.8 L476.6 717.8 L467.5 717.8 L458.5 717.8 L449.5 717.8 L440.5 717.8 L431.5 717.8 L422.5 717.8 L413.4 717.8 L404.4 717.7 L395.4 717.7 L386.4 717.7 L377.4 717.7 L368.3 717.7 L359.3 717.7 L350.3 717.7 L341.3 717.7 L332.3 717.7 L323.3 717.7 L314.2 717.7 L305.2 717.7 L296.2 717.7Z" fill="#00f500"/>
<path d="M296.2 750.8 L305.0 750.8 L314.0 750.9 L323.0 750.9 L332.1 750.9 L341.1 750.9 L350.1 750.9 L359.1 750.9 L368.1 750.9 L377.1 750.9 L386.2 750.9 L395.2 750.9 L404.2 750.9 L413.2 750.9 L422.2 750.9 L431.3 750.9 L440.3 750.9 L449.3 750.9 L458.3 750.9 L467.3 750.9 L476.3 750.9 L485.4 750.9 L494.4 750.9 L503.4 750.9 L512.4 751.0 L521.4 751.0 L530.5 751.0 L539.5 751.0 L548.5 751.0 L557.5 751.0 L566.5 751.0 L575.5 751.0 L584.6 751.0 L593.6 751.0 L602.6 751.0 L611.6 751.1 L620.6 751.1 L629.7 751.1 L638.7 751.1 L647.7 751.1 L656.7 751.1 L665.7 751.1 L674.7 751.2 L683.8 751.2 L692.8 751.2 L701.8 751.2 L710.8 751.2 L719.8 751.3 L728.9 751.3 L737.9 751.3 L746.9 751.3 L755.9 751.4 L764.9 751.4 L774.0 751.4 L783.0 751.5 L792.0 751.5 L801.0 751.5 L810.0 751.6 L819.0 751.6 L828.1 751.7 L837.1 751.7 L846.1 751.8 L855.1 751.8 L864.1 751.9 L873.2 751.9 L882.2 752.0 L891.2 752.1 L900.2 752.1 L909.2 752.2 L918.2 752.3 L927.3 752.4 L936.3 752.5 L945.3 752.6 L954.3 752.7 L963.3 752.8 L972.4 752.9 L981.4 753.0 L990.4 753.2 L999.4 753.3 L1008.4 753.5 L1017.4 753.6 L1026.5 753.8 L1035.5 754.0 L1044.5 754.2 L1053.5 754.4 L1062.5 754.6 L1071.6 754.9 L1080.6 755.1 L1089.6 755.4 L1098.6 755.7 L1107.6 756.0 L1116.6 756.4 L1125.7 756.7 L1134.7 757.1 L1143.7 757.5 L1152.7 758.0 L1161.7 758.5 L1170.8 759.0 L1179.8 759.5 L1188.8 760.1 L1197.8 760.8 L1206.8 761.5 L1215.8 762.2 L1224.9 763.0 L1233.9 763.8 L1242.9 764.7 L1251.9 765.7 L1260.9 766.7 L1270.0 767.9 L1279.0 769.1 L1288.0 770.3 L1297.0 771.7 L1306.0 773.2 L1315.0 774.8 L1324.1 776.4 L1333.1 778.2 L1342.1 780.2 L1351.1 782.2 L1360.1 784.4 L1369.2 786.8 L1378.2 789.3 L1387.2 792.0 L1396.2 794.8 L1405.2 797.8 L1414.2 801.1 L1423.3 804.5 L1432.3 808.1 L1441.3 812.0 L1450.3 816.1 L1459.3 820.4 L1468.4 825.0 L1477.4 829.8 L1486.4 834.9 L1495.4 840.1 L1504.4 844.9 L1513.4 850.1 L1522.5 855.6 L1531.5 861.5 L1540.5 867.8 L1549.5 874.4 L1558.5 881.4 L1567.6 888.7 L1576.6 896.3 L1585.6 904.3 L1594.6 912.7 L1603.6 921.5 L1612.6 930.8 L1621.7 940.3 L1630.7 950.0 L1639.7 959.7 L1648.7 969.5 L1657.7 979.3 L1666.8 988.8 L1675.8 998.1 L1684.8 1007.2 L1693.8 1016.2 L1702.8 1025.2 L1711.9 1034.1 L1720.9 1042.8 L1729.9 1051.3 L1738.9 1059.6 L1738.9 1068.4 L1730.1 1068.4 L1721.1 1060.1 L1712.1 1051.6 L1703.1 1042.9 L1694.0 1034.0 L1685.0 1025.0 L1676.0 1016.0 L1667.0 1006.9 L1658.0 997.6 L1648.9 988.1 L1639.9 978.3 L1630.9 968.5 L1621.9 958.8 L1612.9 949.1 L1603.8 939.6 L1594.8 930.3 L1585.8 921.5 L1576.8 913.1 L1567.8 905.1 L1558.8 897.5 L1549.7 890.2 L1540.7 883.2 L1531.7 876.6 L1522.7 870.3 L1513.7 864.4 L1504.6 858.9 L1495.6 853.7 L1486.6 848.9 L1477.6 843.7 L1468.6 838.6 L1459.6 833.8 L1450.5 829.2 L1441.5 824.9 L1432.5 820.8 L1423.5 816.9 L1414.5 813.3 L1405.4 809.9 L1396.4 806.6 L1387.4 803.6 L1378.4 800.8 L1369.4 798.1 L1360.4 795.6 L1351.3 793.2 L1342.3 791.0 L1333.3 789.0 L1324.3 787.0 L1315.3 785.2 L1306.2 783.6 L1297.2 782.0 L1288.2 780.5 L1279.2 779.1 L1270.2 777.9 L1261.2 776.7 L1252.1 775.5 L1243.1 774.5 L1234.1 773.5 L1225.1 772.6 L1216.1 771.8 L1207.0 771.0 L1198.0 770.3 L1189.0 769.6 L1180.0 768.9 L1171.0 768.3 L1162.0 767.8 L1152.9 767.3 L1143.9 766.8 L1134.9 766.3 L1125.9 765.9 L1116.9 765.5 L1107.8 765.2 L1098.8 764.8 L1089.8 764.5 L1080.8 764.2 L1071.8 763.9 L1062.8 763.7 L1053.7 763.4 L1044.7 763.2 L1035.7 763.0 L1026.7 762.8 L1017.7 762.6 L1008.6 762.4 L999.6 762.3 L990.6 762.1 L981.6 762.0 L972.6 761.8 L963.6 761.7 L954.5 761.6 L945.5 761.5 L936.5 761.4 L927.5 761.3 L918.5 761.2 L909.4 761.1 L900.4 761.0 L891.4 760.9 L882.4 760.9 L873.4 760.8 L864.4 760.7 L855.3 760.7 L846.3 760.6 L837.3 760.6 L828.3 760.5 L819.3 760.5 L810.2 760.4 L801.2 760.4 L792.2 760.3 L783.2 760.3 L774.2 760.3 L765.2 760.2 L756.1 760.2 L747.1 760.2 L738.1 760.1 L729.1 760.1 L720.1 760.1 L711.0 760.1 L702.0 760.0 L693.0 760.0 L684.0 760.0 L675.0 760.0 L665.9 760.0 L656.9 759.9 L647.9 759.9 L638.9 759.9 L629.9 759.9 L620.9 759.9 L611.8 759.9 L602.8 759.9 L593.8 759.8 L584.8 759.8 L575.8 759.8 L566.7 759.8 L557.7 759.8 L548.7 759.8 L539.7 759.8 L530.7 759.8 L521.7 759.8 L512.6 759.8 L503.6 759.8 L494.6 759.7 L485.6 759.7 L476.6 759.7 L467.5 759.7 L458.5 759.7 L449.5 759.7 L440.5 759.7 L431.5 759.7 L422.5 759.7 L413.4 759.7 L404.4 759.7 L395.4 759.7 L386.4 759.7 L377.4 759.7 L368.3 759.7 L359.3 759.7 L350.3 759.7 L341.3 759.7 L332.3 759.7 L323.3 759.7 L314.2 759.7 L305.2 759.7 L296.2 759.6Z" fill="#8cbe14"/>
<path d="M296.2 800.3 L305.0 800.3 L314.0 800.3 L323.0 800.3 L332.1 800.3 L341.1 800.3 L350.1 800.3 L359.1 800.3 L368.1 800.3 L377.1 800.3 L386.2 800.3 L395.2 800.3 L404.2 800.3 L413.2 800.4 L422.2 800.4 L431.3 800.4 L440.3 800.4 L449.3 800.4 L458.3 800.4 L467.3 800.4 L476.3 800.4 L485.4 800.4 L494.4 800.4 L503.4 800.4 L512.4 800.4 L521.4 800.4 L530.5 800.4 L539.5 800.4 L548.5 800.4 L557.5 800.4 L566.5 800.5 L575.5 800.5 L584.6 800.5 L593.6 800.5 L602.6 800.5 L611.6 800.5 L620.6 800.5 L629.7 800.5 L638.7 800.5 L647.7 800.5 L656.7 800.6 L665.7 800.6 L674.7 800.6 L683.8 800.6 L692.8 800.6 L701.8 800.6 L710.8 800.6 L719.8 800.7 L728.9 800.7 L737.9 800.7 L746.9 800.7 L755.9 800.8 L764.9 800.8 L774.0 800.8 L783.0 800.8 L792.0 800.9 L801.0 800.9 L810.0 800.9 L819.0 800.9 L828.1 801.0 L837.1 801.0 L846.1 801.1 L855.1 801.1 L864.1 801.1 L873.2 801.2 L882.2 801.2 L891.2 801.3 L900.2 801.3 L909.2 801.4 L918.2 801.5 L927.3 801.5 L936.3 801.6 L945.3 801.7 L954.3 801.7 L963.3 801.8 L972.4 801.9 L981.4 802.0 L990.4 802.1 L999.4 802.2 L1008.4 802.3 L1017.4 802.4 L1026.5 802.5 L1035.5 802.7 L1044.5 802.8 L1053.5 803.0 L1062.5 803.1 L1071.6 803.3 L1080.6 803.5 L1089.6 803.7 L1098.6 803.9 L1107.6 804.1 L1116.6 804.4 L1125.7 804.6 L1134.7 804.9 L1143.7 805.2 L1152.7 805.5 L1161.7 805.8 L1170.8 806.2 L1179.8 806.5 L1188.8 807.0 L1197.8 807.4 L1206.8 807.9 L1215.8 808.4 L1224.9 808.9 L1233.9 809.5 L1242.9 810.1 L1251.9 810.7 L1260.9 811.4 L1270.0 812.2 L1279.0 813.0 L1288.0 813.9 L1297.0 814.8 L1306.0 815.8 L1315.0 816.8 L1324.1 818.0 L1333.1 819.2 L1342.1 820.5 L1351.1 821.9 L1360.1 823.4 L1369.2 825.0 L1378.2 826.7 L1387.2 828.5 L1396.2 830.5 L1405.2 832.6 L1414.2 834.8 L1423.3 837.2 L1432.3 839.7 L1441.3 842.4 L1450.3 845.2 L1459.3 848.3 L1468.4 851.5 L1477.4 855.0 L1486.4 858.7 L1495.4 862.5 L1504.4 866.6 L1513.4 871.0 L1522.5 875.7 L1531.5 880.6 L1540.5 885.8 L1549.5 891.2 L1558.5 897.0 L1567.6 903.0 L1576.6 909.3 L1585.6 915.9 L1594.6 922.9 L1603.6 930.5 L1612.6 938.4 L1621.7 946.6 L1630.7 955.1 L1639.7 963.8 L1648.7 972.6 L1657.7 981.5 L1666.8 990.4 L1675.8 999.2 L1684.8 1007.9 L1693.8 1016.7 L1702.8 1025.5 L1711.9 1034.2 L1720.9 1042.9 L1729.9 1051.6 L1738.9 1060.1 L1738.9 1068.9 L1730.1 1068.9 L1721.1 1060.4 L1712.1 1051.7 L1703.1 1043.0 L1694.0 1034.3 L1685.0 1025.5 L1676.0 1016.7 L1667.0 1008.0 L1658.0 999.2 L1648.9 990.3 L1639.9 981.4 L1630.9 972.6 L1621.9 963.9 L1612.9 955.4 L1603.8 947.2 L1594.8 939.3 L1585.8 931.7 L1576.8 924.7 L1567.8 918.1 L1558.8 911.8 L1549.7 905.8 L1540.7 900.0 L1531.7 894.6 L1522.7 889.4 L1513.7 884.5 L1504.6 879.8 L1495.6 875.4 L1486.6 871.3 L1477.6 867.5 L1468.6 863.8 L1459.6 860.3 L1450.5 857.1 L1441.5 854.0 L1432.5 851.2 L1423.5 848.5 L1414.5 846.0 L1405.4 843.6 L1396.4 841.4 L1387.4 839.3 L1378.4 837.3 L1369.4 835.5 L1360.4 833.8 L1351.3 832.2 L1342.3 830.7 L1333.3 829.3 L1324.3 828.0 L1315.3 826.8 L1306.2 825.6 L1297.2 824.6 L1288.2 823.6 L1279.2 822.7 L1270.2 821.8 L1261.2 821.0 L1252.1 820.2 L1243.1 819.5 L1234.1 818.9 L1225.1 818.3 L1216.1 817.7 L1207.0 817.2 L1198.0 816.7 L1189.0 816.2 L1180.0 815.8 L1171.0 815.3 L1162.0 815.0 L1152.9 814.6 L1143.9 814.3 L1134.9 814.0 L1125.9 813.7 L1116.9 813.4 L1107.8 813.2 L1098.8 812.9 L1089.8 812.7 L1080.8 812.5 L1071.8 812.3 L1062.8 812.1 L1053.7 811.9 L1044.7 811.8 L1035.7 811.6 L1026.7 811.5 L1017.7 811.3 L1008.6 811.2 L999.6 811.1 L990.6 811.0 L981.6 810.9 L972.6 810.8 L963.6 810.7 L954.5 810.6 L945.5 810.5 L936.5 810.5 L927.5 810.4 L918.5 810.3 L909.4 810.3 L900.4 810.2 L891.4 810.1 L882.4 810.1 L873.4 810.0 L864.4 810.0 L855.3 809.9 L846.3 809.9 L837.3 809.9 L828.3 809.8 L819.3 809.8 L810.2 809.7 L801.2 809.7 L792.2 809.7 L783.2 809.7 L774.2 809.6 L765.2 809.6 L756.1 809.6 L747.1 809.6 L738.1 809.5 L729.1 809.5 L720.1 809.5 L711.0 809.5 L702.0 809.4 L693.0 809.4 L684.0 809.4 L675.0 809.4 L665.9 809.4 L656.9 809.4 L647.9 809.4 L638.9 809.3 L629.9 809.3 L620.9 809.3 L611.8 809.3 L602.8 809.3 L593.8 809.3 L584.8 809.3 L575.8 809.3 L566.7 809.3 L557.7 809.3 L548.7 809.2 L539.7 809.2 L530.7 809.2 L521.7 809.2 L512.6 809.2 L503.6 809.2 L494.6 809.2 L485.6 809.2 L476.6 809.2 L467.5 809.2 L458.5 809.2 L449.5 809.2 L440.5 809.2 L431.5 809.2 L422.5 809.2 L413.4 809.2 L404.4 809.2 L395.4 809.1 L386.4 809.1 L377.4 809.1 L368.3 809.1 L359.3 809.1 L350.3 809.1 L341.3 809.1 L332.3 809.1 L323.3 809.1 L314.2 809.1 L305.2 809.1 L296.2 809.1Z" fill="#008200"/>
<path d="M296.2 827.7 L305.0 827.7 L314.0 827.7 L323.0 827.7 L332.1 827.7 L341.1 827.7 L350.1 827.7 L359.1 827.7 L368.1 827.7 L377.1 827.7 L386.2 827.7 L395.2 827.7 L404.2 827.7 L413.2 827.7 L422.2 827.7 L431.3 827.7 L440.3 827.7 L449.3 827.7 L458.3 827.7 L467.3 827.7 L476.3 827.7 L485.4 827.7 L494.4 827.8 L503.4 827.8 L512.4 827.8 L521.4 827.8 L530.5 827.8 L539.5 827.8 L548.5 827.8 L557.5 827.8 L566.5 827.8 L575.5 827.8 L584.6 827.8 L593.6 827.8 L602.6 827.8 L611.6 827.8 L620.6 827.9 L629.7 827.9 L638.7 827.9 L647.7 827.9 L656.7 827.9 L665.7 827.9 L674.7 827.9 L683.8 827.9 L692.8 828.0 L701.8 828.0 L710.8 828.0 L719.8 828.0 L728.9 828.0 L737.9 828.0 L746.9 828.1 L755.9 828.1 L764.9 828.1 L774.0 828.1 L783.0 828.2 L792.0 828.2 L801.0 828.2 L810.0 828.2 L819.0 828.3 L828.1 828.3 L837.1 828.3 L846.1 828.4 L855.1 828.4 L864.1 828.4 L873.2 828.5 L882.2 828.5 L891.2 828.6 L900.2 828.6 L909.2 828.7 L918.2 828.7 L927.3 828.8 L936.3 828.9 L945.3 828.9 L954.3 829.0 L963.3 829.1 L972.4 829.2 L981.4 829.3 L990.4 829.4 L999.4 829.5 L1008.4 829.6 L1017.4 829.7 L1026.5 829.8 L1035.5 829.9 L1044.5 830.1 L1053.5 830.2 L1062.5 830.4 L1071.6 830.5 L1080.6 830.7 L1089.6 830.9 L1098.6 831.1 L1107.6 831.3 L1116.6 831.6 L1125.7 831.8 L1134.7 832.1 L1143.7 832.4 L1152.7 832.7 L1161.7 833.0 L1170.8 833.3 L1179.8 833.7 L1188.8 834.1 L1197.8 834.5 L1206.8 835.0 L1215.8 835.5 L1224.9 836.0 L1233.9 836.6 L1242.9 837.2 L1251.9 837.8 L1260.9 838.5 L1270.0 839.2 L1279.0 840.0 L1288.0 840.9 L1297.0 841.8 L1306.0 842.8 L1315.0 843.8 L1324.1 844.9 L1333.1 846.1 L1342.1 847.4 L1351.1 848.8 L1360.1 850.3 L1369.2 851.8 L1378.2 853.5 L1387.2 855.3 L1396.2 857.2 L1405.2 859.3 L1414.2 861.5 L1423.3 863.8 L1432.3 866.3 L1441.3 868.9 L1450.3 871.7 L1459.3 873.7 L1468.4 875.3 L1477.4 877.1 L1486.4 879.3 L1495.4 881.7 L1504.4 884.5 L1513.4 887.6 L1522.5 891.1 L1531.5 894.9 L1540.5 899.0 L1549.5 903.5 L1558.5 908.4 L1567.6 913.7 L1576.6 919.3 L1585.6 925.3 L1594.6 931.7 L1603.6 938.5 L1612.6 945.5 L1621.7 952.9 L1630.7 960.6 L1639.7 968.4 L1648.7 976.5 L1657.7 984.7 L1666.8 992.9 L1675.8 1001.3 L1684.8 1009.7 L1693.8 1018.2 L1702.8 1026.7 L1711.9 1035.3 L1720.9 1043.8 L1729.9 1052.4 L1738.9 1060.9 L1738.9 1069.7 L1730.1 1069.7 L1721.1 1061.2 L1712.1 1052.6 L1703.1 1044.1 L1694.0 1035.5 L1685.0 1027.0 L1676.0 1018.5 L1667.0 1010.1 L1658.0 1001.7 L1648.9 993.5 L1639.9 985.3 L1630.9 977.2 L1621.9 969.4 L1612.9 961.7 L1603.8 954.3 L1594.8 947.3 L1585.8 940.5 L1576.8 934.1 L1567.8 928.1 L1558.8 922.5 L1549.7 917.2 L1540.7 912.3 L1531.7 907.8 L1522.7 903.7 L1513.7 899.9 L1504.6 896.4 L1495.6 893.3 L1486.6 890.5 L1477.6 888.1 L1468.6 885.9 L1459.6 884.1 L1450.5 882.5 L1441.5 880.5 L1432.5 877.7 L1423.5 875.1 L1414.5 872.6 L1405.4 870.3 L1396.4 868.1 L1387.4 866.0 L1378.4 864.1 L1369.4 862.3 L1360.4 860.6 L1351.3 859.1 L1342.3 857.6 L1333.3 856.2 L1324.3 854.9 L1315.3 853.7 L1306.2 852.6 L1297.2 851.6 L1288.2 850.6 L1279.2 849.7 L1270.2 848.8 L1261.2 848.0 L1252.1 847.3 L1243.1 846.6 L1234.1 846.0 L1225.1 845.4 L1216.1 844.8 L1207.0 844.3 L1198.0 843.8 L1189.0 843.3 L1180.0 842.9 L1171.0 842.5 L1162.0 842.1 L1152.9 841.8 L1143.9 841.5 L1134.9 841.2 L1125.9 840.9 L1116.9 840.6 L1107.8 840.4 L1098.8 840.1 L1089.8 839.9 L1080.8 839.7 L1071.8 839.5 L1062.8 839.3 L1053.7 839.2 L1044.7 839.0 L1035.7 838.9 L1026.7 838.7 L1017.7 838.6 L1008.6 838.5 L999.6 838.4 L990.6 838.3 L981.6 838.2 L972.6 838.1 L963.6 838.0 L954.5 837.9 L945.5 837.8 L936.5 837.7 L927.5 837.7 L918.5 837.6 L909.4 837.5 L900.4 837.5 L891.4 837.4 L882.4 837.4 L873.4 837.3 L864.4 837.3 L855.3 837.2 L846.3 837.2 L837.3 837.2 L828.3 837.1 L819.3 837.1 L810.2 837.1 L801.2 837.0 L792.2 837.0 L783.2 837.0 L774.2 837.0 L765.2 836.9 L756.1 836.9 L747.1 836.9 L738.1 836.9 L729.1 836.8 L720.1 836.8 L711.0 836.8 L702.0 836.8 L693.0 836.8 L684.0 836.8 L675.0 836.7 L665.9 836.7 L656.9 836.7 L647.9 836.7 L638.9 836.7 L629.9 836.7 L620.9 836.7 L611.8 836.7 L602.8 836.6 L593.8 836.6 L584.8 836.6 L575.8 836.6 L566.7 836.6 L557.7 836.6 L548.7 836.6 L539.7 836.6 L530.7 836.6 L521.7 836.6 L512.6 836.6 L503.6 836.6 L494.6 836.6 L485.6 836.6 L476.6 836.5 L467.5 836.5 L458.5 836.5 L449.5 836.5 L440.5 836.5 L431.5 836.5 L422.5 836.5 L413.4 836.5 L404.4 836.5 L395.4 836.5 L386.4 836.5 L377.4 836.5 L368.3 836.5 L359.3 836.5 L350.3 836.5 L341.3 836.5 L332.3 836.5 L323.3 836.5 L314.2 836.5 L305.2 836.5 L296.2 836.5Z" fill="#ff8c0a"/>
<path d="M296.2 899.8 L305.0 899.8 L314.0 899.8 L323.0 899.8 L332.1 899.8 L341.1 899.8 L350.1 899.8 L359.1 899.8 L368.1 899.8 L377.1 899.8 L386.2 899.8 L395.2 899.8 L404.2 899.8 L413.2 899.8 L422.2 899.8 L431.3 899.8 L440.3 899.8 L449.3 899.8 L458.3 899.8 L467.3 899.8 L476.3 899.8 L485.4 899.8 L494.4 899.8 L503.4 899.8 L512.4 899.8 L521.4 899.8 L530.5 899.8 L539.5 899.8 L548.5 899.9 L557.5 899.9 L566.5 899.9 L575.5 899.9 L584.6 899.9 L593.6 899.9 L602.6 899.9 L611.6 899.9 L620.6 899.9 L629.7 899.9 L638.7 899.9 L647.7 899.9 L656.7 899.9 L665.7 899.9 L674.7 899.9 L683.8 899.9 L692.8 899.9 L701.8 899.9 L710.8 899.9 L719.8 899.9 L728.9 899.9 L737.9 899.9 L746.9 899.9 L755.9 899.9 L764.9 899.9 L774.0 899.9 L783.0 899.9 L792.0 899.9 L801.0 899.9 L810.0 899.9 L819.0 899.9 L828.1 899.9 L837.1 899.9 L846.1 899.9 L855.1 899.9 L864.1 899.9 L873.2 900.0 L882.2 900.0 L891.2 900.0 L900.2 900.0 L909.2 900.0 L918.2 900.0 L927.3 900.0 L936.3 900.0 L945.3 900.1 L954.3 900.1 L963.3 900.1 L972.4 900.1 L981.4 900.1 L990.4 900.2 L999.4 900.2 L1008.4 900.2 L1017.4 900.3 L1026.5 900.3 L1035.5 900.3 L1044.5 900.4 L1053.5 900.4 L1062.5 900.5 L1071.6 900.5 L1080.6 900.6 L1089.6 900.7 L1098.6 900.7 L1107.6 900.8 L1116.6 900.9 L1125.7 901.0 L1134.7 901.1 L1143.7 901.2 L1152.7 901.3 L1161.7 901.4 L1170.8 901.6 L1179.8 901.7 L1188.8 901.9 L1197.8 902.0 L1206.8 902.2 L1215.8 902.4 L1224.9 902.7 L1233.9 902.9 L1242.9 903.2 L1251.9 903.5 L1260.9 903.8 L1270.0 904.1 L1279.0 904.5 L1288.0 904.9 L1297.0 905.3 L1306.0 905.8 L1315.0 906.3 L1324.1 906.9 L1333.1 907.5 L1342.1 908.1 L1351.1 908.8 L1360.1 909.6 L1369.2 910.4 L1378.2 911.3 L1387.2 912.3 L1396.2 913.3 L1405.2 914.4 L1414.2 915.6 L1423.3 916.9 L1432.3 918.4 L1441.3 919.9 L1450.3 921.5 L1459.3 922.9 L1468.4 924.2 L1477.4 925.6 L1486.4 927.2 L1495.4 928.9 L1504.4 930.8 L1513.4 932.9 L1522.5 935.1 L1531.5 937.6 L1540.5 940.2 L1549.5 943.0 L1558.5 946.1 L1567.6 949.3 L1576.6 952.8 L1585.6 956.4 L1594.6 960.2 L1603.6 964.2 L1612.6 968.4 L1621.7 972.7 L1630.7 977.3 L1639.7 982.1 L1648.7 987.2 L1657.7 992.6 L1666.8 998.2 L1675.8 1004.2 L1684.8 1010.4 L1693.8 1016.9 L1702.8 1023.7 L1711.9 1030.7 L1720.9 1038.0 L1729.9 1045.4 L1738.9 1052.9 L1738.9 1061.7 L1730.1 1061.7 L1721.1 1054.2 L1712.1 1046.8 L1703.1 1039.5 L1694.0 1032.5 L1685.0 1025.7 L1676.0 1019.2 L1667.0 1013.0 L1658.0 1007.0 L1648.9 1001.4 L1639.9 996.0 L1630.9 990.9 L1621.9 986.1 L1612.9 981.5 L1603.8 977.2 L1594.8 973.0 L1585.8 969.0 L1576.8 965.2 L1567.8 961.6 L1558.8 958.1 L1549.7 954.9 L1540.7 951.8 L1531.7 949.0 L1522.7 946.4 L1513.7 943.9 L1504.6 941.7 L1495.6 939.6 L1486.6 937.7 L1477.6 936.0 L1468.6 934.4 L1459.6 933.0 L1450.5 931.7 L1441.5 930.3 L1432.5 928.7 L1423.5 927.2 L1414.5 925.7 L1405.4 924.4 L1396.4 923.2 L1387.4 922.1 L1378.4 921.1 L1369.4 920.1 L1360.4 919.2 L1351.3 918.4 L1342.3 917.6 L1333.3 916.9 L1324.3 916.3 L1315.3 915.7 L1306.2 915.1 L1297.2 914.6 L1288.2 914.1 L1279.2 913.7 L1270.2 913.3 L1261.2 912.9 L1252.1 912.6 L1243.1 912.3 L1234.1 912.0 L1225.1 911.7 L1216.1 911.5 L1207.0 911.2 L1198.0 911.0 L1189.0 910.8 L1180.0 910.7 L1171.0 910.5 L1162.0 910.4 L1152.9 910.2 L1143.9 910.1 L1134.9 910.0 L1125.9 909.9 L1116.9 909.8 L1107.8 909.7 L1098.8 909.6 L1089.8 909.5 L1080.8 909.5 L1071.8 909.4 L1062.8 909.3 L1053.7 909.3 L1044.7 909.2 L1035.7 909.2 L1026.7 909.1 L1017.7 909.1 L1008.6 909.1 L999.6 909.0 L990.6 909.0 L981.6 909.0 L972.6 908.9 L963.6 908.9 L954.5 908.9 L945.5 908.9 L936.5 908.9 L927.5 908.8 L918.5 908.8 L909.4 908.8 L900.4 908.8 L891.4 908.8 L882.4 908.8 L873.4 908.8 L864.4 908.8 L855.3 908.7 L846.3 908.7 L837.3 908.7 L828.3 908.7 L819.3 908.7 L810.2 908.7 L801.2 908.7 L792.2 908.7 L783.2 908.7 L774.2 908.7 L765.2 908.7 L756.1 908.7 L747.1 908.7 L738.1 908.7 L729.1 908.7 L720.1 908.7 L711.0 908.7 L702.0 908.7 L693.0 908.7 L684.0 908.7 L675.0 908.7 L665.9 908.7 L656.9 908.7 L647.9 908.7 L638.9 908.7 L629.9 908.7 L620.9 908.7 L611.8 908.7 L602.8 908.7 L593.8 908.7 L584.8 908.7 L575.8 908.7 L566.7 908.7 L557.7 908.7 L548.7 908.7 L539.7 908.7 L530.7 908.6 L521.7 908.6 L512.6 908.6 L503.6 908.6 L494.6 908.6 L485.6 908.6 L476.6 908.6 L467.5 908.6 L458.5 908.6 L449.5 908.6 L440.5 908.6 L431.5 908.6 L422.5 908.6 L413.4 908.6 L404.4 908.6 L395.4 908.6 L386.4 908.6 L377.4 908.6 L368.3 908.6 L359.3 908.6 L350.3 908.6 L341.3 908.6 L332.3 908.6 L323.3 908.6 L314.2 908.6 L305.2 908.6 L296.2 908.6Z" fill="#ff6400"/>
<path d="M296.2 961.1 L305.0 961.1 L314.0 961.1 L323.0 961.1 L332.1 961.1 L341.1 961.1 L350.1 961.1 L359.1 961.1 L368.1 961.1 L377.1 961.1 L386.2 961.1 L395.2 961.1 L404.2 961.1 L413.2 961.1 L422.2 961.1 L431.3 961.1 L440.3 961.1 L449.3 961.1 L458.3 961.1 L467.3 961.1 L476.3 961.1 L485.4 961.1 L494.4 961.1 L503.4 961.1 L512.4 961.1 L521.4 961.1 L530.5 961.1 L539.5 961.2 L548.5 961.2 L557.5 961.2 L566.5 961.2 L575.5 961.2 L584.6 961.2 L593.6 961.2 L602.6 961.2 L611.6 961.2 L620.6 961.2 L629.7 961.2 L638.7 961.2 L647.7 961.2 L656.7 961.2 L665.7 961.2 L674.7 961.2 L683.8 961.2 L692.8 961.2 L701.8 961.2 L710.8 961.3 L719.8 961.3 L728.9 961.3 L737.9 961.3 L746.9 961.3 L755.9 961.3 L764.9 961.3 L774.0 961.3 L783.0 961.3 L792.0 961.3 L801.0 961.4 L810.0 961.4 L819.0 961.4 L828.1 961.4 L837.1 961.4 L846.1 961.4 L855.1 961.4 L864.1 961.5 L873.2 961.5 L882.2 961.5 L891.2 961.5 L900.2 961.5 L909.2 961.6 L918.2 961.6 L927.3 961.6 L936.3 961.6 L945.3 961.7 L954.3 961.7 L963.3 961.7 L972.4 961.8 L981.4 961.8 L990.4 961.8 L999.4 961.9 L1008.4 961.9 L1017.4 961.9 L1026.5 962.0 L1035.5 962.0 L1044.5 962.1 L1053.5 962.1 L1062.5 962.2 L1071.6 962.2 L1080.6 962.3 L1089.6 962.3 L1098.6 962.4 L1107.6 962.5 L1116.6 962.5 L1125.7 962.6 L1134.7 962.7 L1143.7 962.8 L1152.7 962.9 L1161.7 963.0 L1170.8 963.1 L1179.8 963.2 L1188.8 963.3 L1197.8 963.4 L1206.8 963.6 L1215.8 963.7 L1224.9 963.8 L1233.9 964.0 L1242.9 964.2 L1251.9 964.3 L1260.9 964.5 L1270.0 964.7 L1279.0 964.9 L1288.0 965.1 L1297.0 965.4 L1306.0 965.6 L1315.0 965.9 L1324.1 966.2 L1333.1 966.5 L1342.1 966.8 L1351.1 967.2 L1360.1 967.6 L1369.2 968.0 L1378.2 968.4 L1387.2 968.8 L1396.2 969.3 L1405.2 969.8 L1414.2 970.4 L1423.3 971.0 L1432.3 971.6 L1441.3 972.3 L1450.3 973.0 L1459.3 973.8 L1468.4 974.6 L1477.4 975.5 L1486.4 976.4 L1495.4 977.4 L1504.4 978.5 L1513.4 979.7 L1522.5 980.9 L1531.5 982.2 L1540.5 983.6 L1549.5 985.1 L1558.5 986.7 L1567.6 988.5 L1576.6 990.3 L1585.6 992.2 L1594.6 994.3 L1603.6 996.6 L1612.6 998.9 L1621.7 1001.5 L1630.7 1004.2 L1639.7 1007.0 L1648.7 1010.1 L1657.7 1013.3 L1666.8 1016.8 L1675.8 1020.4 L1684.8 1024.3 L1693.8 1028.4 L1702.8 1032.7 L1711.9 1037.3 L1720.9 1042.2 L1729.9 1047.3 L1738.9 1052.6 L1738.9 1061.4 L1730.1 1061.4 L1721.1 1056.1 L1712.1 1051.0 L1703.1 1046.1 L1694.0 1041.5 L1685.0 1037.2 L1676.0 1033.1 L1667.0 1029.2 L1658.0 1025.6 L1648.9 1022.1 L1639.9 1018.9 L1630.9 1015.8 L1621.9 1013.0 L1612.9 1010.3 L1603.8 1007.7 L1594.8 1005.4 L1585.8 1003.1 L1576.8 1001.0 L1567.8 999.1 L1558.8 997.3 L1549.7 995.5 L1540.7 993.9 L1531.7 992.4 L1522.7 991.0 L1513.7 989.7 L1504.6 988.5 L1495.6 987.3 L1486.6 986.2 L1477.6 985.2 L1468.6 984.3 L1459.6 983.4 L1450.5 982.6 L1441.5 981.8 L1432.5 981.1 L1423.5 980.4 L1414.5 979.8 L1405.4 979.2 L1396.4 978.6 L1387.4 978.1 L1378.4 977.6 L1369.4 977.2 L1360.4 976.8 L1351.3 976.4 L1342.3 976.0 L1333.3 975.6 L1324.3 975.3 L1315.3 975.0 L1306.2 974.7 L1297.2 974.4 L1288.2 974.2 L1279.2 973.9 L1270.2 973.7 L1261.2 973.5 L1252.1 973.3 L1243.1 973.1 L1234.1 973.0 L1225.1 972.8 L1216.1 972.6 L1207.0 972.5 L1198.0 972.4 L1189.0 972.2 L1180.0 972.1 L1171.0 972.0 L1162.0 971.9 L1152.9 971.8 L1143.9 971.7 L1134.9 971.6 L1125.9 971.5 L1116.9 971.4 L1107.8 971.3 L1098.8 971.3 L1089.8 971.2 L1080.8 971.1 L1071.8 971.1 L1062.8 971.0 L1053.7 971.0 L1044.7 970.9 L1035.7 970.9 L1026.7 970.8 L1017.7 970.8 L1008.6 970.7 L999.6 970.7 L990.6 970.7 L981.6 970.6 L972.6 970.6 L963.6 970.6 L954.5 970.5 L945.5 970.5 L936.5 970.5 L927.5 970.4 L918.5 970.4 L909.4 970.4 L900.4 970.4 L891.4 970.3 L882.4 970.3 L873.4 970.3 L864.4 970.3 L855.3 970.3 L846.3 970.2 L837.3 970.2 L828.3 970.2 L819.3 970.2 L810.2 970.2 L801.2 970.2 L792.2 970.2 L783.2 970.1 L774.2 970.1 L765.2 970.1 L756.1 970.1 L747.1 970.1 L738.1 970.1 L729.1 970.1 L720.1 970.1 L711.0 970.1 L702.0 970.1 L693.0 970.0 L684.0 970.0 L675.0 970.0 L665.9 970.0 L656.9 970.0 L647.9 970.0 L638.9 970.0 L629.9 970.0 L620.9 970.0 L611.8 970.0 L602.8 970.0 L593.8 970.0 L584.8 970.0 L575.8 970.0 L566.7 970.0 L557.7 970.0 L548.7 970.0 L539.7 970.0 L530.7 970.0 L521.7 969.9 L512.6 969.9 L503.6 969.9 L494.6 969.9 L485.6 969.9 L476.6 969.9 L467.5 969.9 L458.5 969.9 L449.5 969.9 L440.5 969.9 L431.5 969.9 L422.5 969.9 L413.4 969.9 L404.4 969.9 L395.4 969.9 L386.4 969.9 L377.4 969.9 L368.3 969.9 L359.3 969.9 L350.3 969.9 L341.3 969.9 L332.3 969.9 L323.3 969.9 L314.2 969.9 L305.2 969.9 L296.2 969.9Z" fill="#ff0a0a"/>
<path d="M296.2 1013.0 L305.0 1013.0 L314.0 1013.0 L323.0 1013.0 L332.1 1013.0 L341.1 1013.0 L350.1 1013.0 L359.1 1013.0 L368.1 1013.0 L377.1 1013.0 L386.2 1013.0 L395.2 1013.0 L404.2 1013.0 L413.2 1013.0 L422.2 1013.0 L431.3 1013.0 L440.3 1013.0 L449.3 1013.0 L458.3 1013.0 L467.3 1013.0 L476.3 1013.0 L485.4 1013.0 L494.4 1013.0 L503.4 1013.0 L512.4 1013.0 L521.4 1013.0 L530.5 1013.0 L539.5 1013.0 L548.5 1013.0 L557.5 1013.0 L566.5 1013.0 L575.5 1013.0 L584.6 1013.0 L593.6 1013.0 L602.6 1013.0 L611.6 1013.0 L620.6 1013.0 L629.7 1013.0 L638.7 1013.0 L647.7 1013.0 L656.7 1013.0 L665.7 1013.0 L674.7 1013.0 L683.8 1013.0 L692.8 1013.0 L701.8 1013.0 L710.8 1013.0 L719.8 1013.0 L728.9 1013.0 L737.9 1013.0 L746.9 1013.0 L755.9 1013.0 L764.9 1013.0 L774.0 1013.0 L783.0 1013.1 L792.0 1013.1 L801.0 1013.1 L810.0 1013.1 L819.0 1013.1 L828.1 1013.1 L837.1 1013.1 L846.1 1013.1 L855.1 1013.1 L864.1 1013.1 L873.2 1013.1 L882.2 1013.1 L891.2 1013.1 L900.2 1013.1 L909.2 1013.1 L918.2 1013.1 L927.3 1013.1 L936.3 1013.1 L945.3 1013.1 L954.3 1013.1 L963.3 1013.2 L972.4 1013.2 L981.4 1013.2 L990.4 1013.2 L999.4 1013.2 L1008.4 1013.2 L1017.4 1013.2 L1026.5 1013.2 L1035.5 1013.2 L1044.5 1013.3 L1053.5 1013.3 L1062.5 1013.3 L1071.6 1013.3 L1080.6 1013.3 L1089.6 1013.3 L1098.6 1013.4 L1107.6 1013.4 L1116.6 1013.4 L1125.7 1013.4 L1134.7 1013.5 L1143.7 1013.5 L1152.7 1013.5 L1161.7 1013.5 L1170.8 1013.6 L1179.8 1013.6 L1188.8 1013.7 L1197.8 1013.7 L1206.8 1013.7 L1215.8 1013.8 L1224.9 1013.8 L1233.9 1013.9 L1242.9 1014.0 L1251.9 1014.0 L1260.9 1014.1 L1270.0 1014.2 L1279.0 1014.2 L1288.0 1014.3 L1297.0 1014.4 L1306.0 1014.5 L1315.0 1014.6 L1324.1 1014.7 L1333.1 1014.9 L1342.1 1015.0 L1351.1 1015.1 L1360.1 1015.3 L1369.2 1015.4 L1378.2 1015.6 L1387.2 1015.8 L1396.2 1016.0 L1405.2 1016.2 L1414.2 1016.4 L1423.3 1016.7 L1432.3 1017.0 L1441.3 1017.3 L1450.3 1017.6 L1459.3 1017.9 L1468.4 1018.3 L1477.4 1018.7 L1486.4 1019.1 L1495.4 1019.6 L1504.4 1020.1 L1513.4 1020.6 L1522.5 1021.2 L1531.5 1021.8 L1540.5 1022.5 L1549.5 1023.2 L1558.5 1024.0 L1567.6 1024.8 L1576.6 1025.7 L1585.6 1026.7 L1594.6 1027.8 L1603.6 1028.9 L1612.6 1030.1 L1621.7 1031.4 L1630.7 1032.8 L1639.7 1034.4 L1648.7 1036.0 L1657.7 1037.7 L1666.8 1039.6 L1675.8 1041.7 L1684.8 1043.8 L1693.8 1046.2 L1702.8 1048.7 L1711.9 1051.3 L1720.9 1054.2 L1729.9 1057.3 L1738.9 1060.5 L1738.9 1069.3 L1730.1 1069.3 L1721.1 1066.1 L1712.1 1063.0 L1703.1 1060.1 L1694.0 1057.5 L1685.0 1055.0 L1676.0 1052.6 L1667.0 1050.5 L1658.0 1048.4 L1648.9 1046.5 L1639.9 1044.8 L1630.9 1043.2 L1621.9 1041.6 L1612.9 1040.2 L1603.8 1038.9 L1594.8 1037.7 L1585.8 1036.6 L1576.8 1035.5 L1567.8 1034.5 L1558.8 1033.6 L1549.7 1032.8 L1540.7 1032.0 L1531.7 1031.3 L1522.7 1030.6 L1513.7 1030.0 L1504.6 1029.4 L1495.6 1028.9 L1486.6 1028.4 L1477.6 1027.9 L1468.6 1027.5 L1459.6 1027.1 L1450.5 1026.7 L1441.5 1026.4 L1432.5 1026.1 L1423.5 1025.8 L1414.5 1025.5 L1405.4 1025.2 L1396.4 1025.0 L1387.4 1024.8 L1378.4 1024.6 L1369.4 1024.4 L1360.4 1024.2 L1351.3 1024.1 L1342.3 1023.9 L1333.3 1023.8 L1324.3 1023.7 L1315.3 1023.5 L1306.2 1023.4 L1297.2 1023.3 L1288.2 1023.2 L1279.2 1023.1 L1270.2 1023.0 L1261.2 1023.0 L1252.1 1022.9 L1243.1 1022.8 L1234.1 1022.8 L1225.1 1022.7 L1216.1 1022.6 L1207.0 1022.6 L1198.0 1022.5 L1189.0 1022.5 L1180.0 1022.5 L1171.0 1022.4 L1162.0 1022.4 L1152.9 1022.3 L1143.9 1022.3 L1134.9 1022.3 L1125.9 1022.3 L1116.9 1022.2 L1107.8 1022.2 L1098.8 1022.2 L1089.8 1022.2 L1080.8 1022.1 L1071.8 1022.1 L1062.8 1022.1 L1053.7 1022.1 L1044.7 1022.1 L1035.7 1022.1 L1026.7 1022.0 L1017.7 1022.0 L1008.6 1022.0 L999.6 1022.0 L990.6 1022.0 L981.6 1022.0 L972.6 1022.0 L963.6 1022.0 L954.5 1022.0 L945.5 1021.9 L936.5 1021.9 L927.5 1021.9 L918.5 1021.9 L909.4 1021.9 L900.4 1021.9 L891.4 1021.9 L882.4 1021.9 L873.4 1021.9 L864.4 1021.9 L855.3 1021.9 L846.3 1021.9 L837.3 1021.9 L828.3 1021.9 L819.3 1021.9 L810.2 1021.9 L801.2 1021.9 L792.2 1021.9 L783.2 1021.9 L774.2 1021.9 L765.2 1021.8 L756.1 1021.8 L747.1 1021.8 L738.1 1021.8 L729.1 1021.8 L720.1 1021.8 L711.0 1021.8 L702.0 1021.8 L693.0 1021.8 L684.0 1021.8 L675.0 1021.8 L665.9 1021.8 L656.9 1021.8 L647.9 1021.8 L638.9 1021.8 L629.9 1021.8 L620.9 1021.8 L611.8 1021.8 L602.8 1021.8 L593.8 1021.8 L584.8 1021.8 L575.8 1021.8 L566.7 1021.8 L557.7 1021.8 L548.7 1021.8 L539.7 1021.8 L530.7 1021.8 L521.7 1021.8 L512.6 1021.8 L503.6 1021.8 L494.6 1021.8 L485.6 1021.8 L476.6 1021.8 L467.5 1021.8 L458.5 1021.8 L449.5 1021.8 L440.5 1021.8 L431.5 1021.8 L422.5 1021.8 L413.4 1021.8 L404.4 1021.8 L395.4 1021.8 L386.4 1021.8 L377.4 1021.8 L368.3 1021.8 L359.3 1021.8 L350.3 1021.8 L341.3 1021.8 L332.3 1021.8 L323.3 1021.8 L314.2 1021.8 L305.2 1021.8 L296.2 1021.8Z" fill="#ff0a0a"/>
<path d="M296.2 1056.4 L305.0 1056.4 L314.0 1056.4 L323.0 1056.4 L332.1 1056.4 L341.1 1056.4 L350.1 1056.4 L359.1 1056.4 L368.1 1056.4 L377.1 1056.4 L386.2 1056.4 L395.2 1056.4 L404.2 1056.4 L413.2 1056.4 L422.2 1056.4 L431.3 1056.4 L440.3 1056.4 L449.3 1056.4 L458.3 1056.4 L467.3 1056.4 L476.3 1056.4 L485.4 1056.4 L494.4 1056.4 L503.4 1056.4 L512.4 1056.4 L521.4 1056.4 L530.5 1056.4 L539.5 1056.4 L548.5 1056.4 L557.5 1056.4 L566.5 1056.4 L575.5 1056.4 L584.6 1056.4 L593.6 1056.4 L602.6 1056.4 L611.6 1056.4 L620.6 1056.4 L629.7 1056.4 L638.7 1056.4 L647.7 1056.4 L656.7 1056.4 L665.7 1056.4 L674.7 1056.4 L683.8 1056.4 L692.8 1056.5 L701.8 1056.5 L710.8 1056.5 L719.8 1056.5 L728.9 1056.5 L737.9 1056.5 L746.9 1056.5 L755.9 1056.5 L764.9 1056.5 L774.0 1056.5 L783.0 1056.5 L792.0 1056.5 L801.0 1056.5 L810.0 1056.5 L819.0 1056.5 L828.1 1056.5 L837.1 1056.6 L846.1 1056.6 L855.1 1056.6 L864.1 1056.6 L873.2 1056.6 L882.2 1056.6 L891.2 1056.6 L900.2 1056.6 L909.2 1056.6 L918.2 1056.6 L927.3 1056.7 L936.3 1056.7 L945.3 1056.7 L954.3 1056.7 L963.3 1056.7 L972.4 1056.7 L981.4 1056.7 L990.4 1056.8 L999.4 1056.8 L1008.4 1056.8 L1017.4 1056.8 L1026.5 1056.8 L1035.5 1056.9 L1044.5 1056.9 L1053.5 1056.9 L1062.5 1056.9 L1071.6 1056.9 L1080.6 1057.0 L1089.6 1057.0 L1098.6 1057.0 L1107.6 1057.1 L1116.6 1057.1 L1125.7 1057.1 L1134.7 1057.1 L1143.7 1057.2 L1152.7 1057.2 L1161.7 1057.3 L1170.8 1057.3 L1179.8 1057.3 L1188.8 1057.4 L1197.8 1057.4 L1206.8 1057.5 L1215.8 1057.5 L1224.9 1057.6 L1233.9 1057.6 L1242.9 1057.7 L1251.9 1057.8 L1260.9 1057.8 L1270.0 1057.9 L1279.0 1058.0 L1288.0 1058.0 L1297.0 1058.1 L1306.0 1058.2 L1315.0 1058.3 L1324.1 1058.4 L1333.1 1058.5 L1342.1 1058.6 L1351.1 1058.7 L1360.1 1058.8 L1369.2 1058.9 L1378.2 1059.0 L1387.2 1059.2 L1396.2 1059.3 L1405.2 1059.4 L1414.2 1059.6 L1423.3 1059.7 L1432.3 1059.9 L1441.3 1060.1 L1450.3 1060.3 L1459.3 1060.5 L1468.4 1060.7 L1477.4 1060.9 L1486.4 1061.1 L1495.4 1061.3 L1504.4 1061.6 L1513.4 1061.8 L1522.5 1062.1 L1531.5 1062.4 L1540.5 1062.7 L1549.5 1063.0 L1558.5 1063.3 L1567.6 1063.7 L1576.6 1064.0 L1585.6 1064.4 L1594.6 1064.8 L1603.6 1065.2 L1612.6 1065.6 L1621.7 1066.1 L1630.7 1066.5 L1639.7 1067.0 L1648.7 1067.5 L1657.7 1068.0 L1666.8 1068.6 L1675.8 1069.1 L1684.8 1069.7 L1693.8 1070.3 L1702.8 1070.9 L1711.9 1071.6 L1720.9 1072.2 L1729.9 1072.9 L1738.9 1073.6 L1738.9 1082.4 L1730.1 1082.4 L1721.1 1081.7 L1712.1 1081.0 L1703.1 1080.4 L1694.0 1079.7 L1685.0 1079.1 L1676.0 1078.5 L1667.0 1077.9 L1658.0 1077.4 L1648.9 1076.8 L1639.9 1076.3 L1630.9 1075.8 L1621.9 1075.3 L1612.9 1074.9 L1603.8 1074.4 L1594.8 1074.0 L1585.8 1073.6 L1576.8 1073.2 L1567.8 1072.8 L1558.8 1072.5 L1549.7 1072.1 L1540.7 1071.8 L1531.7 1071.5 L1522.7 1071.2 L1513.7 1070.9 L1504.6 1070.6 L1495.6 1070.4 L1486.6 1070.1 L1477.6 1069.9 L1468.6 1069.7 L1459.6 1069.5 L1450.5 1069.3 L1441.5 1069.1 L1432.5 1068.9 L1423.5 1068.7 L1414.5 1068.5 L1405.4 1068.4 L1396.4 1068.2 L1387.4 1068.1 L1378.4 1068.0 L1369.4 1067.8 L1360.4 1067.7 L1351.3 1067.6 L1342.3 1067.5 L1333.3 1067.4 L1324.3 1067.3 L1315.3 1067.2 L1306.2 1067.1 L1297.2 1067.0 L1288.2 1066.9 L1279.2 1066.8 L1270.2 1066.8 L1261.2 1066.7 L1252.1 1066.6 L1243.1 1066.6 L1234.1 1066.5 L1225.1 1066.4 L1216.1 1066.4 L1207.0 1066.3 L1198.0 1066.3 L1189.0 1066.2 L1180.0 1066.2 L1171.0 1066.1 L1162.0 1066.1 L1152.9 1066.1 L1143.9 1066.0 L1134.9 1066.0 L1125.9 1065.9 L1116.9 1065.9 L1107.8 1065.9 L1098.8 1065.9 L1089.8 1065.8 L1080.8 1065.8 L1071.8 1065.8 L1062.8 1065.7 L1053.7 1065.7 L1044.7 1065.7 L1035.7 1065.7 L1026.7 1065.7 L1017.7 1065.6 L1008.6 1065.6 L999.6 1065.6 L990.6 1065.6 L981.6 1065.6 L972.6 1065.5 L963.6 1065.5 L954.5 1065.5 L945.5 1065.5 L936.5 1065.5 L927.5 1065.5 L918.5 1065.5 L909.4 1065.4 L900.4 1065.4 L891.4 1065.4 L882.4 1065.4 L873.4 1065.4 L864.4 1065.4 L855.3 1065.4 L846.3 1065.4 L837.3 1065.4 L828.3 1065.4 L819.3 1065.3 L810.2 1065.3 L801.2 1065.3 L792.2 1065.3 L783.2 1065.3 L774.2 1065.3 L765.2 1065.3 L756.1 1065.3 L747.1 1065.3 L738.1 1065.3 L729.1 1065.3 L720.1 1065.3 L711.0 1065.3 L702.0 1065.3 L693.0 1065.3 L684.0 1065.3 L675.0 1065.2 L665.9 1065.2 L656.9 1065.2 L647.9 1065.2 L638.9 1065.2 L629.9 1065.2 L620.9 1065.2 L611.8 1065.2 L602.8 1065.2 L593.8 1065.2 L584.8 1065.2 L575.8 1065.2 L566.7 1065.2 L557.7 1065.2 L548.7 1065.2 L539.7 1065.2 L530.7 1065.2 L521.7 1065.2 L512.6 1065.2 L503.6 1065.2 L494.6 1065.2 L485.6 1065.2 L476.6 1065.2 L467.5 1065.2 L458.5 1065.2 L449.5 1065.2 L440.5 1065.2 L431.5 1065.2 L422.5 1065.2 L413.4 1065.2 L404.4 1065.2 L395.4 1065.2 L386.4 1065.2 L377.4 1065.2 L368.3 1065.2 L359.3 1065.2 L350.3 1065.2 L341.3 1065.2 L332.3 1065.2 L323.3 1065.2 L314.2 1065.2 L305.2 1065.2 L296.2 1065.2Z" fill="#dc0000"/>
</g>
<g fill="#000" shape-rendering="crispEdges">
<rect x="299" y="135" width="4" height="1025"/>
<rect x="1782" y="135" width="5" height="1025"/>
<rect x="299" y="136" width="1488" height="4"/>
<rect x="299" y="1155" width="1488" height="5"/>
<rect x="268" y="1155" width="32" height="4"/>
<rect x="283" y="1105" width="17" height="4"/>
<rect x="283" y="1054" width="17" height="4"/>
<rect x="283" y="1003" width="17" height="4"/>
<rect x="268" y="952" width="32" height="3"/>
<rect x="283" y="901" width="17" height="4"/>
<rect x="283" y="850" width="17" height="4"/>
<rect x="283" y="799" width="17" height="4"/>
<rect x="268" y="748" width="32" height="3"/>
<rect x="283" y="697" width="17" height="4"/>
<rect x="283" y="646" width="17" height="4"/>
<rect x="283" y="595" width="17" height="4"/>
<rect x="268" y="544" width="32" height="3"/>
<rect x="283" y="493" width="17" height="4"/>
<rect x="283" y="442" width="17" height="4"/>
<rect x="283" y="391" width="17" height="4"/>
<rect x="268" y="340" width="32" height="3"/>
<rect x="283" y="289" width="17" height="4"/>
<rect x="283" y="238" width="17" height="4"/>
<rect x="283" y="187" width="17" height="4"/>
<rect x="268" y="136" width="32" height="3"/>
<rect x="299" y="1158" width="3" height="32"/>
<rect x="448" y="1158" width="3" height="17"/>
<rect x="535" y="1158" width="3" height="17"/>
<rect x="597" y="1158" width="3" height="17"/>
<rect x="645" y="1158" width="3" height="17"/>
<rect x="684" y="1158" width="3" height="17"/>
<rect x="717" y="1158" width="3" height="17"/>
<rect x="746" y="1158" width="3" height="17"/>
<rect x="771" y="1158" width="3" height="17"/>
<rect x="793" y="1158" width="4" height="32"/>
<rect x="942" y="1158" width="3" height="17"/>
<rect x="1029" y="1158" width="3" height="17"/>
<rect x="1091" y="1158" width="3" height="17"/>
<rect x="1139" y="1158" width="3" height="17"/>
<rect x="1178" y="1158" width="3" height="17"/>
<rect x="1211" y="1158" width="3" height="17"/>
<rect x="1240" y="1158" width="3" height="17"/>
<rect x="1265" y="1158" width="3" height="17"/>
<rect x="1288" y="1158" width="4" height="32"/>
<rect x="1437" y="1158" width="3" height="17"/>
<rect x="1524" y="1158" width="3" height="17"/>
<rect x="1586" y="1158" width="3" height="17"/>
<rect x="1634" y="1158" width="3" height="17"/>
<rect x="1673" y="1158" width="3" height="17"/>
<rect x="1706" y="1158" width="3" height="17"/>
<rect x="1735" y="1158" width="3" height="17"/>
<rect x="1760" y="1158" width="3" height="17"/>
<rect x="1782" y="1158" width="4" height="32"/>
</g>
<g fill="none" stroke-width="2.5" shape-rendering="crispEdges">
<g stroke="#7a0fd9">
<circle cx="300.6" cy="333.7" r="9.8"/>
<circle cx="319.4" cy="305.8" r="9.8"/>
<circle cx="338.2" cy="341.9" r="9.8"/>
<circle cx="357.0" cy="305.4" r="9.8"/>
<circle cx="375.8" cy="317.6" r="9.8"/>
<circle cx="394.6" cy="299.8" r="9.8"/>
<circle cx="413.3" cy="327.7" r="9.8"/>
<circle cx="432.1" cy="306.9" r="9.8"/>
<circle cx="450.9" cy="324.7" r="9.8"/>
<circle cx="469.7" cy="325.8" r="9.8"/>
<circle cx="488.5" cy="314.4" r="9.8"/>
<circle cx="507.3" cy="324.1" r="9.8"/>
<circle cx="526.1" cy="333.3" r="9.8"/>
<circle cx="544.9" cy="326.2" r="9.8"/>
<circle cx="563.7" cy="340.2" r="9.8"/>
<circle cx="582.5" cy="329.0" r="9.8"/>
<circle cx="601.2" cy="332.7" r="9.8"/>
<circle cx="620.0" cy="342.8" r="9.8"/>
<circle cx="638.8" cy="339.1" r="9.8"/>
<circle cx="657.6" cy="342.8" r="9.8"/>
<circle cx="676.4" cy="340.2" r="9.8"/>
<circle cx="695.2" cy="346.6" r="9.8"/>
<circle cx="714.0" cy="342.3" r="9.8"/>
<circle cx="732.8" cy="336.3" r="9.8"/>
<circle cx="751.6" cy="346.2" r="9.8"/>
<circle cx="770.4" cy="349.9" r="9.8"/>
<circle cx="789.1" cy="348.4" r="9.8"/>
<circle cx="807.9" cy="347.7" r="9.8"/>
<circle cx="826.7" cy="354.2" r="9.8"/>
<circle cx="845.5" cy="353.1" r="9.8"/>
<circle cx="864.3" cy="348.8" r="9.8"/>
<circle cx="883.1" cy="352.0" r="9.8"/>
<circle cx="901.9" cy="356.3" r="9.8"/>
<circle cx="920.7" cy="356.3" r="9.8"/>
<circle cx="939.5" cy="358.5" r="9.8"/>
<circle cx="958.2" cy="361.7" r="9.8"/>
<circle cx="977.0" cy="363.8" r="9.8"/>
<circle cx="995.8" cy="368.1" r="9.8"/>
<circle cx="1014.6" cy="366.0" r="9.8"/>
<circle cx="1033.4" cy="362.8" r="9.8"/>
<circle cx="1052.2" cy="370.3" r="9.8"/>
<circle cx="1071.0" cy="382.1" r="9.8"/>
<circle cx="1089.8" cy="379.9" r="9.8"/>
<circle cx="1108.6" cy="383.0" r="9.8"/>
<circle cx="1127.4" cy="384.1" r="9.8"/>
<circle cx="1146.2" cy="387.3" r="9.8"/>
<circle cx="1164.9" cy="388.4" r="9.8"/>
<circle cx="1183.7" cy="402.3" r="9.8"/>
<circle cx="1202.5" cy="408.8" r="9.8"/>
<circle cx="1221.3" cy="415.2" r="9.8"/>
<circle cx="1240.1" cy="424.9" r="9.8"/>
<circle cx="1258.9" cy="432.4" r="9.8"/>
<circle cx="1277.7" cy="435.6" r="9.8"/>
<circle cx="1296.5" cy="448.4" r="9.8"/>
<circle cx="1315.3" cy="460.4" r="9.8"/>
<circle cx="1334.1" cy="473.3" r="9.8"/>
<circle cx="1352.8" cy="487.5" r="9.8"/>
<circle cx="1371.6" cy="510.2" r="9.8"/>
<circle cx="1390.4" cy="527.6" r="9.8"/>
<circle cx="1409.2" cy="547.2" r="9.8"/>
<circle cx="1428.0" cy="567.2" r="9.8"/>
<circle cx="1446.8" cy="587.5" r="9.8"/>
<circle cx="1465.6" cy="613.5" r="9.8"/>
<circle cx="1484.4" cy="637.3" r="9.8"/>
<circle cx="1503.2" cy="665.6" r="9.8"/>
<circle cx="1521.9" cy="669.8" r="9.8"/>
<circle cx="1540.7" cy="720.6" r="9.8"/>
<circle cx="1559.5" cy="743.4" r="9.8"/>
<circle cx="1578.3" cy="767.2" r="9.8"/>
<circle cx="1597.1" cy="792.1" r="9.8"/>
<circle cx="1615.9" cy="813.8" r="9.8"/>
<circle cx="1634.7" cy="835.5" r="9.8"/>
<circle cx="1653.5" cy="858.4" r="9.8"/>
<circle cx="1672.3" cy="859.1" r="9.8"/>
<circle cx="1691.1" cy="878.8" r="9.8"/>
<circle cx="1709.8" cy="897.6" r="9.8"/>
<circle cx="1747.4" cy="926.8" r="9.8"/>
</g>
<g stroke="#0000cd">
<circle cx="300.6" cy="395.0" r="9.8"/>
<circle cx="319.4" cy="355.2" r="9.8"/>
<circle cx="338.2" cy="389.6" r="9.8"/>
<circle cx="357.0" cy="380.6" r="9.8"/>
<circle cx="375.8" cy="375.0" r="9.8"/>
<circle cx="394.6" cy="396.1" r="9.8"/>
<circle cx="413.3" cy="388.5" r="9.8"/>
<circle cx="432.1" cy="388.5" r="9.8"/>
<circle cx="450.9" cy="388.5" r="9.8"/>
<circle cx="469.7" cy="392.4" r="9.8"/>
<circle cx="488.5" cy="368.6" r="9.8"/>
<circle cx="507.3" cy="384.2" r="9.8"/>
<circle cx="526.1" cy="387.5" r="9.8"/>
<circle cx="544.9" cy="405.7" r="9.8"/>
<circle cx="563.7" cy="396.1" r="9.8"/>
<circle cx="582.5" cy="386.4" r="9.8"/>
<circle cx="601.2" cy="384.2" r="9.8"/>
<circle cx="620.0" cy="398.2" r="9.8"/>
<circle cx="638.8" cy="385.3" r="9.8"/>
<circle cx="657.6" cy="392.8" r="9.8"/>
<circle cx="676.4" cy="398.2" r="9.8"/>
<circle cx="695.2" cy="397.1" r="9.8"/>
<circle cx="714.0" cy="403.6" r="9.8"/>
<circle cx="732.8" cy="400.4" r="9.8"/>
<circle cx="751.6" cy="406.8" r="9.8"/>
<circle cx="770.4" cy="402.5" r="9.8"/>
<circle cx="789.1" cy="403.6" r="9.8"/>
<circle cx="807.9" cy="405.7" r="9.8"/>
<circle cx="826.7" cy="408.3" r="9.8"/>
<circle cx="845.5" cy="359.5" r="9.8"/>
<circle cx="864.3" cy="413.3" r="9.8"/>
<circle cx="883.1" cy="412.2" r="9.8"/>
<circle cx="901.9" cy="417.6" r="9.8"/>
<circle cx="920.7" cy="416.5" r="9.8"/>
<circle cx="939.5" cy="420.8" r="9.8"/>
<circle cx="958.2" cy="420.8" r="9.8"/>
<circle cx="977.0" cy="374.6" r="9.8"/>
<circle cx="995.8" cy="426.2" r="9.8"/>
<circle cx="1014.6" cy="398.2" r="9.8"/>
<circle cx="1033.4" cy="427.2" r="9.8"/>
<circle cx="1052.2" cy="415.4" r="9.8"/>
<circle cx="1071.0" cy="433.0" r="9.8"/>
<circle cx="1089.8" cy="433.7" r="9.8"/>
<circle cx="1108.6" cy="435.6" r="9.8"/>
<circle cx="1127.4" cy="439.9" r="9.8"/>
<circle cx="1146.2" cy="443.2" r="9.8"/>
<circle cx="1164.9" cy="453.9" r="9.8"/>
<circle cx="1183.7" cy="459.3" r="9.8"/>
<circle cx="1202.5" cy="463.6" r="9.8"/>
<circle cx="1221.3" cy="466.8" r="9.8"/>
<circle cx="1240.1" cy="472.2" r="9.8"/>
<circle cx="1258.9" cy="481.9" r="9.8"/>
<circle cx="1277.7" cy="494.8" r="9.8"/>
<circle cx="1296.5" cy="490.7" r="9.8"/>
<circle cx="1315.3" cy="505.9" r="9.8"/>
<circle cx="1334.1" cy="517.8" r="9.8"/>
<circle cx="1352.8" cy="526.5" r="9.8"/>
<circle cx="1371.6" cy="543.8" r="9.8"/>
<circle cx="1390.4" cy="541.7" r="9.8"/>
<circle cx="1409.2" cy="559.2" r="9.8"/>
<circle cx="1428.0" cy="577.0" r="9.8"/>
<circle cx="1446.8" cy="608.0" r="9.8"/>
<circle cx="1465.6" cy="626.5" r="9.8"/>
<circle cx="1484.4" cy="641.7" r="9.8"/>
<circle cx="1503.2" cy="673.0" r="9.8"/>
<circle cx="1521.9" cy="708.7" r="9.8"/>
<circle cx="1540.7" cy="732.5" r="9.8"/>
<circle cx="1559.5" cy="758.5" r="9.8"/>
<circle cx="1578.3" cy="783.5" r="9.8"/>
<circle cx="1597.1" cy="806.2" r="9.8"/>
<circle cx="1615.9" cy="835.5" r="9.8"/>
<circle cx="1634.7" cy="846.7" r="9.8"/>
<circle cx="1653.5" cy="867.0" r="9.8"/>
<circle cx="1672.3" cy="885.5" r="9.8"/>
<circle cx="1691.1" cy="903.9" r="9.8"/>
<circle cx="1709.8" cy="914.0" r="9.8"/>
<circle cx="1728.6" cy="962.6" r="9.8"/>
<circle cx="1747.4" cy="938.5" r="9.8"/>
<circle cx="1766.2" cy="958.0" r="9.8"/>
<circle cx="1785.0" cy="960.6" r="9.8"/>
</g>
<g stroke="#0066ff">
<circle cx="300.6" cy="412.2" r="9.8"/>
<circle cx="319.4" cy="402.5" r="9.8"/>
<circle cx="338.2" cy="455.2" r="9.8"/>
<circle cx="357.0" cy="392.2" r="9.8"/>
<circle cx="375.8" cy="407.2" r="9.8"/>
<circle cx="394.6" cy="402.5" r="9.8"/>
<circle cx="413.3" cy="461.6" r="9.8"/>
<circle cx="432.1" cy="410.0" r="9.8"/>
<circle cx="450.9" cy="417.6" r="9.8"/>
<circle cx="469.7" cy="403.6" r="9.8"/>
<circle cx="488.5" cy="408.3" r="9.8"/>
<circle cx="507.3" cy="460.5" r="9.8"/>
<circle cx="526.1" cy="457.3" r="9.8"/>
<circle cx="544.9" cy="406.8" r="9.8"/>
<circle cx="563.7" cy="415.4" r="9.8"/>
<circle cx="582.5" cy="463.8" r="9.8"/>
<circle cx="601.2" cy="464.8" r="9.8"/>
<circle cx="620.0" cy="463.8" r="9.8"/>
<circle cx="638.8" cy="412.2" r="9.8"/>
<circle cx="657.6" cy="412.2" r="9.8"/>
<circle cx="676.4" cy="464.8" r="9.8"/>
<circle cx="695.2" cy="413.3" r="9.8"/>
<circle cx="714.0" cy="415.4" r="9.8"/>
<circle cx="732.8" cy="419.7" r="9.8"/>
<circle cx="751.6" cy="466.6" r="9.8"/>
<circle cx="770.4" cy="419.7" r="9.8"/>
<circle cx="789.1" cy="421.9" r="9.8"/>
<circle cx="807.9" cy="474.5" r="9.8"/>
<circle cx="826.7" cy="472.4" r="9.8"/>
<circle cx="845.5" cy="470.9" r="9.8"/>
<circle cx="864.3" cy="470.2" r="9.8"/>
<circle cx="883.1" cy="472.4" r="9.8"/>
<circle cx="901.9" cy="477.7" r="9.8"/>
<circle cx="920.7" cy="477.7" r="9.8"/>
<circle cx="939.5" cy="481.0" r="9.8"/>
<circle cx="958.2" cy="479.9" r="9.8"/>
<circle cx="977.0" cy="468.1" r="9.8"/>
<circle cx="995.8" cy="486.3" r="9.8"/>
<circle cx="1014.6" cy="452.0" r="9.8"/>
<circle cx="1033.4" cy="456.2" r="9.8"/>
<circle cx="1052.2" cy="488.5" r="9.8"/>
<circle cx="1071.0" cy="488.5" r="9.8"/>
<circle cx="1089.8" cy="489.6" r="9.8"/>
<circle cx="1108.6" cy="494.8" r="9.8"/>
<circle cx="1127.4" cy="462.5" r="9.8"/>
<circle cx="1146.2" cy="481.9" r="9.8"/>
<circle cx="1164.9" cy="460.4" r="9.8"/>
<circle cx="1183.7" cy="465.7" r="9.8"/>
<circle cx="1202.5" cy="472.2" r="9.8"/>
<circle cx="1221.3" cy="482.9" r="9.8"/>
<circle cx="1240.1" cy="491.5" r="9.8"/>
<circle cx="1258.9" cy="492.6" r="9.8"/>
<circle cx="1277.7" cy="500.1" r="9.8"/>
<circle cx="1296.5" cy="512.0" r="9.8"/>
<circle cx="1315.3" cy="521.0" r="9.8"/>
<circle cx="1334.1" cy="548.0" r="9.8"/>
<circle cx="1352.8" cy="549.2" r="9.8"/>
<circle cx="1371.6" cy="565.5" r="9.8"/>
<circle cx="1390.4" cy="580.0" r="9.8"/>
<circle cx="1409.2" cy="600.5" r="9.8"/>
<circle cx="1428.0" cy="620.0" r="9.8"/>
<circle cx="1446.8" cy="643.8" r="9.8"/>
<circle cx="1465.6" cy="668.8" r="9.8"/>
<circle cx="1484.4" cy="695.9" r="9.8"/>
<circle cx="1503.2" cy="718.9" r="9.8"/>
<circle cx="1521.9" cy="745.5" r="9.8"/>
<circle cx="1540.7" cy="769.4" r="9.8"/>
<circle cx="1559.5" cy="795.4" r="9.8"/>
<circle cx="1578.3" cy="820.3" r="9.8"/>
<circle cx="1597.1" cy="844.2" r="9.8"/>
<circle cx="1615.9" cy="873.3" r="9.8"/>
<circle cx="1634.7" cy="896.2" r="9.8"/>
<circle cx="1653.5" cy="917.4" r="9.8"/>
<circle cx="1672.3" cy="934.3" r="9.8"/>
<circle cx="1691.1" cy="952.8" r="9.8"/>
<circle cx="1709.8" cy="970.1" r="9.8"/>
<circle cx="1728.6" cy="976.0" r="9.8"/>
<circle cx="1747.4" cy="989.8" r="9.8"/>
<circle cx="1766.2" cy="1001.0" r="9.8"/>
<circle cx="1785.0" cy="1007.6" r="9.8"/>
</g>
<g stroke="#00a8e8">
<circle cx="300.6" cy="491.7" r="9.8"/>
<circle cx="319.4" cy="484.2" r="9.8"/>
<circle cx="338.2" cy="488.5" r="9.8"/>
<circle cx="357.0" cy="479.9" r="9.8"/>
<circle cx="375.8" cy="478.8" r="9.8"/>
<circle cx="394.6" cy="510.0" r="9.8"/>
<circle cx="413.3" cy="518.6" r="9.8"/>
<circle cx="432.1" cy="517.5" r="9.8"/>
<circle cx="450.9" cy="521.8" r="9.8"/>
<circle cx="469.7" cy="521.8" r="9.8"/>
<circle cx="488.5" cy="521.8" r="9.8"/>
<circle cx="526.1" cy="511.1" r="9.8"/>
<circle cx="544.9" cy="487.4" r="9.8"/>
<circle cx="563.7" cy="489.6" r="9.8"/>
<circle cx="582.5" cy="487.4" r="9.8"/>
<circle cx="601.2" cy="547.6" r="9.8"/>
<circle cx="620.0" cy="489.6" r="9.8"/>
<circle cx="638.8" cy="489.6" r="9.8"/>
<circle cx="657.6" cy="490.2" r="9.8"/>
<circle cx="676.4" cy="490.6" r="9.8"/>
<circle cx="695.2" cy="490.6" r="9.8"/>
<circle cx="714.0" cy="491.1" r="9.8"/>
<circle cx="732.8" cy="491.7" r="9.8"/>
<circle cx="751.6" cy="492.4" r="9.8"/>
<circle cx="770.4" cy="534.7" r="9.8"/>
<circle cx="789.1" cy="520.7" r="9.8"/>
<circle cx="807.9" cy="531.5" r="9.8"/>
<circle cx="826.7" cy="535.8" r="9.8"/>
<circle cx="845.5" cy="496.0" r="9.8"/>
<circle cx="864.3" cy="499.2" r="9.8"/>
<circle cx="883.1" cy="499.2" r="9.8"/>
<circle cx="901.9" cy="500.3" r="9.8"/>
<circle cx="920.7" cy="503.5" r="9.8"/>
<circle cx="939.5" cy="503.5" r="9.8"/>
<circle cx="958.2" cy="505.7" r="9.8"/>
<circle cx="977.0" cy="505.7" r="9.8"/>
<circle cx="995.8" cy="518.6" r="9.8"/>
<circle cx="1014.6" cy="548.7" r="9.8"/>
<circle cx="1033.4" cy="510.0" r="9.8"/>
<circle cx="1052.2" cy="553.0" r="9.8"/>
<circle cx="1071.0" cy="553.0" r="9.8"/>
<circle cx="1089.8" cy="553.0" r="9.8"/>
<circle cx="1108.6" cy="554.9" r="9.8"/>
<circle cx="1127.4" cy="556.0" r="9.8"/>
<circle cx="1146.2" cy="559.2" r="9.8"/>
<circle cx="1164.9" cy="564.6" r="9.8"/>
<circle cx="1183.7" cy="528.1" r="9.8"/>
<circle cx="1202.5" cy="567.8" r="9.8"/>
<circle cx="1221.3" cy="539.9" r="9.8"/>
<circle cx="1240.1" cy="580.7" r="9.8"/>
<circle cx="1258.9" cy="587.2" r="9.8"/>
<circle cx="1277.7" cy="592.6" r="9.8"/>
<circle cx="1296.5" cy="594.7" r="9.8"/>
<circle cx="1315.3" cy="575.4" r="9.8"/>
<circle cx="1334.1" cy="616.6" r="9.8"/>
<circle cx="1352.8" cy="629.0" r="9.8"/>
<circle cx="1371.6" cy="642.5" r="9.8"/>
<circle cx="1390.4" cy="657.1" r="9.8"/>
<circle cx="1409.2" cy="672.8" r="9.8"/>
<circle cx="1428.0" cy="689.6" r="9.8"/>
<circle cx="1446.8" cy="707.4" r="9.8"/>
<circle cx="1465.6" cy="726.2" r="9.8"/>
<circle cx="1484.4" cy="745.8" r="9.8"/>
<circle cx="1503.2" cy="766.4" r="9.8"/>
<circle cx="1521.9" cy="788.7" r="9.8"/>
<circle cx="1540.7" cy="811.4" r="9.8"/>
<circle cx="1559.5" cy="834.0" r="9.8"/>
<circle cx="1578.3" cy="856.3" r="9.8"/>
<circle cx="1597.1" cy="878.1" r="9.8"/>
<circle cx="1615.9" cy="899.1" r="9.8"/>
<circle cx="1634.7" cy="919.6" r="9.8"/>
<circle cx="1653.5" cy="939.3" r="9.8"/>
<circle cx="1672.3" cy="958.1" r="9.8"/>
<circle cx="1691.1" cy="975.8" r="9.8"/>
<circle cx="1709.8" cy="992.3" r="9.8"/>
<circle cx="1728.6" cy="1007.0" r="9.8"/>
<circle cx="1747.4" cy="1019.8" r="9.8"/>
<circle cx="1766.2" cy="1031.0" r="9.8"/>
<circle cx="1785.0" cy="1041.1" r="9.8"/>
</g>
<g stroke="#00c8ff">
<circle cx="300.6" cy="565.9" r="9.8"/>
<circle cx="319.4" cy="548.7" r="9.8"/>
<circle cx="338.2" cy="555.1" r="9.8"/>
<circle cx="357.0" cy="559.4" r="9.8"/>
<circle cx="375.8" cy="549.7" r="9.8"/>
<circle cx="394.6" cy="550.4" r="9.8"/>
<circle cx="413.3" cy="551.3" r="9.8"/>
<circle cx="432.1" cy="550.8" r="9.8"/>
<circle cx="450.9" cy="557.3" r="9.8"/>
<circle cx="469.7" cy="559.4" r="9.8"/>
<circle cx="488.5" cy="554.0" r="9.8"/>
<circle cx="507.3" cy="555.1" r="9.8"/>
<circle cx="526.1" cy="557.3" r="9.8"/>
<circle cx="544.9" cy="557.3" r="9.8"/>
<circle cx="563.7" cy="557.3" r="9.8"/>
<circle cx="582.5" cy="557.3" r="9.8"/>
<circle cx="601.2" cy="557.3" r="9.8"/>
<circle cx="620.0" cy="563.7" r="9.8"/>
<circle cx="638.8" cy="556.2" r="9.8"/>
<circle cx="657.6" cy="558.3" r="9.8"/>
<circle cx="676.4" cy="557.3" r="9.8"/>
<circle cx="695.2" cy="557.3" r="9.8"/>
<circle cx="714.0" cy="557.3" r="9.8"/>
<circle cx="732.8" cy="557.3" r="9.8"/>
<circle cx="751.6" cy="557.3" r="9.8"/>
<circle cx="770.4" cy="558.3" r="9.8"/>
<circle cx="789.1" cy="558.3" r="9.8"/>
<circle cx="807.9" cy="558.3" r="9.8"/>
<circle cx="826.7" cy="559.4" r="9.8"/>
<circle cx="845.5" cy="559.8" r="9.8"/>
<circle cx="864.3" cy="561.1" r="9.8"/>
<circle cx="883.1" cy="562.4" r="9.8"/>
<circle cx="901.9" cy="563.7" r="9.8"/>
<circle cx="920.7" cy="564.1" r="9.8"/>
<circle cx="939.5" cy="565.2" r="9.8"/>
<circle cx="958.2" cy="566.3" r="9.8"/>
<circle cx="977.0" cy="566.3" r="9.8"/>
<circle cx="995.8" cy="567.4" r="9.8"/>
<circle cx="1014.6" cy="568.4" r="9.8"/>
<circle cx="1033.4" cy="569.5" r="9.8"/>
<circle cx="1052.2" cy="570.6" r="9.8"/>
<circle cx="1071.0" cy="571.7" r="9.8"/>
<circle cx="1089.8" cy="572.7" r="9.8"/>
<circle cx="1108.6" cy="585.0" r="9.8"/>
<circle cx="1127.4" cy="586.1" r="9.8"/>
<circle cx="1146.2" cy="587.2" r="9.8"/>
<circle cx="1164.9" cy="589.3" r="9.8"/>
<circle cx="1183.7" cy="591.5" r="9.8"/>
<circle cx="1202.5" cy="592.6" r="9.8"/>
<circle cx="1221.3" cy="600.1" r="9.8"/>
<circle cx="1240.1" cy="604.4" r="9.8"/>
<circle cx="1258.9" cy="610.8" r="9.8"/>
<circle cx="1277.7" cy="617.3" r="9.8"/>
<circle cx="1296.5" cy="621.6" r="9.8"/>
<circle cx="1315.3" cy="628.8" r="9.8"/>
<circle cx="1334.1" cy="638.7" r="9.8"/>
<circle cx="1352.8" cy="649.8" r="9.8"/>
<circle cx="1371.6" cy="662.2" r="9.8"/>
<circle cx="1390.4" cy="675.8" r="9.8"/>
<circle cx="1409.2" cy="690.8" r="9.8"/>
<circle cx="1428.0" cy="707.2" r="9.8"/>
<circle cx="1446.8" cy="724.9" r="9.8"/>
<circle cx="1465.6" cy="743.8" r="9.8"/>
<circle cx="1484.4" cy="763.9" r="9.8"/>
<circle cx="1503.2" cy="784.9" r="9.8"/>
<circle cx="1521.9" cy="806.7" r="9.8"/>
<circle cx="1540.7" cy="829.1" r="9.8"/>
<circle cx="1559.5" cy="851.7" r="9.8"/>
<circle cx="1578.3" cy="874.4" r="9.8"/>
<circle cx="1597.1" cy="896.8" r="9.8"/>
<circle cx="1615.9" cy="918.7" r="9.8"/>
<circle cx="1634.7" cy="939.8" r="9.8"/>
<circle cx="1653.5" cy="960.0" r="9.8"/>
<circle cx="1672.3" cy="979.0" r="9.8"/>
<circle cx="1691.1" cy="996.8" r="9.8"/>
<circle cx="1709.8" cy="1013.3" r="9.8"/>
<circle cx="1728.6" cy="1028.5" r="9.8"/>
<circle cx="1747.4" cy="1042.3" r="9.8"/>
<circle cx="1766.2" cy="1054.8" r="9.8"/>
<circle cx="1785.0" cy="1066.0" r="9.8"/>
</g>
<g stroke="#00f0ff">
<circle cx="300.6" cy="620.0" r="9.8"/>
<circle cx="319.4" cy="609.2" r="9.8"/>
<circle cx="338.2" cy="618.9" r="9.8"/>
<circle cx="357.0" cy="607.1" r="9.8"/>
<circle cx="375.8" cy="608.2" r="9.8"/>
<circle cx="394.6" cy="608.8" r="9.8"/>
<circle cx="413.3" cy="608.8" r="9.8"/>
<circle cx="432.1" cy="607.7" r="9.8"/>
<circle cx="450.9" cy="609.2" r="9.8"/>
<circle cx="469.7" cy="611.4" r="9.8"/>
<circle cx="488.5" cy="610.3" r="9.8"/>
<circle cx="507.3" cy="611.0" r="9.8"/>
<circle cx="526.1" cy="612.5" r="9.8"/>
<circle cx="544.9" cy="622.1" r="9.8"/>
<circle cx="563.7" cy="618.9" r="9.8"/>
<circle cx="582.5" cy="612.5" r="9.8"/>
<circle cx="601.2" cy="612.5" r="9.8"/>
<circle cx="620.0" cy="612.5" r="9.8"/>
<circle cx="638.8" cy="611.4" r="9.8"/>
<circle cx="657.6" cy="612.5" r="9.8"/>
<circle cx="676.4" cy="612.5" r="9.8"/>
<circle cx="695.2" cy="612.5" r="9.8"/>
<circle cx="714.0" cy="651.2" r="9.8"/>
<circle cx="732.8" cy="647.9" r="9.8"/>
<circle cx="751.6" cy="646.2" r="9.8"/>
<circle cx="770.4" cy="615.7" r="9.8"/>
<circle cx="789.1" cy="636.8" r="9.8"/>
<circle cx="807.9" cy="615.3" r="9.8"/>
<circle cx="826.7" cy="616.8" r="9.8"/>
<circle cx="845.5" cy="616.8" r="9.8"/>
<circle cx="864.3" cy="618.9" r="9.8"/>
<circle cx="883.1" cy="622.1" r="9.8"/>
<circle cx="901.9" cy="618.9" r="9.8"/>
<circle cx="920.7" cy="620.0" r="9.8"/>
<circle cx="939.5" cy="621.1" r="9.8"/>
<circle cx="958.2" cy="621.1" r="9.8"/>
<circle cx="977.0" cy="622.1" r="9.8"/>
<circle cx="995.8" cy="626.0" r="9.8"/>
<circle cx="1014.6" cy="624.7" r="9.8"/>
<circle cx="1033.4" cy="626.0" r="9.8"/>
<circle cx="1052.2" cy="634.6" r="9.8"/>
<circle cx="1071.0" cy="626.9" r="9.8"/>
<circle cx="1089.8" cy="629.7" r="9.8"/>
<circle cx="1108.6" cy="629.7" r="9.8"/>
<circle cx="1127.4" cy="630.7" r="9.8"/>
<circle cx="1146.2" cy="661.9" r="9.8"/>
<circle cx="1164.9" cy="633.3" r="9.8"/>
<circle cx="1183.7" cy="635.0" r="9.8"/>
<circle cx="1202.5" cy="671.6" r="9.8"/>
<circle cx="1221.3" cy="652.2" r="9.8"/>
<circle cx="1240.1" cy="645.8" r="9.8"/>
<circle cx="1258.9" cy="649.0" r="9.8"/>
<circle cx="1277.7" cy="653.3" r="9.8"/>
<circle cx="1296.5" cy="659.8" r="9.8"/>
<circle cx="1315.3" cy="667.3" r="9.8"/>
<circle cx="1334.1" cy="672.6" r="9.8"/>
<circle cx="1352.8" cy="681.2" r="9.8"/>
<circle cx="1371.6" cy="695.5" r="9.8"/>
<circle cx="1390.4" cy="706.7" r="9.8"/>
<circle cx="1409.2" cy="719.2" r="9.8"/>
<circle cx="1428.0" cy="733.1" r="9.8"/>
<circle cx="1446.8" cy="748.3" r="9.8"/>
<circle cx="1465.6" cy="765.0" r="9.8"/>
<circle cx="1484.4" cy="782.9" r="9.8"/>
<circle cx="1503.2" cy="800.0" r="9.8"/>
<circle cx="1521.9" cy="817.7" r="9.8"/>
<circle cx="1540.7" cy="836.8" r="9.8"/>
<circle cx="1559.5" cy="857.2" r="9.8"/>
<circle cx="1578.3" cy="878.8" r="9.8"/>
<circle cx="1597.1" cy="901.3" r="9.8"/>
<circle cx="1615.9" cy="924.1" r="9.8"/>
<circle cx="1634.7" cy="946.7" r="9.8"/>
<circle cx="1653.5" cy="968.5" r="9.8"/>
<circle cx="1672.3" cy="989.0" r="9.8"/>
<circle cx="1691.1" cy="1008.0" r="9.8"/>
<circle cx="1709.8" cy="1025.7" r="9.8"/>
<circle cx="1728.6" cy="1041.9" r="9.8"/>
<circle cx="1747.4" cy="1056.8" r="9.8"/>
<circle cx="1766.2" cy="1070.1" r="9.8"/>
<circle cx="1785.0" cy="1082.1" r="9.8"/>
</g>
<g stroke="#c8f014">
<circle cx="300.6" cy="690.9" r="9.8"/>
<circle cx="319.4" cy="686.6" r="9.8"/>
<circle cx="338.2" cy="689.8" r="9.8"/>
<circle cx="357.0" cy="689.8" r="9.8"/>
<circle cx="375.8" cy="662.5" r="9.8"/>
<circle cx="394.6" cy="661.9" r="9.8"/>
<circle cx="413.3" cy="688.8" r="9.8"/>
<circle cx="432.1" cy="660.8" r="9.8"/>
<circle cx="450.9" cy="663.0" r="9.8"/>
<circle cx="469.7" cy="663.0" r="9.8"/>
<circle cx="488.5" cy="663.0" r="9.8"/>
<circle cx="507.3" cy="687.7" r="9.8"/>
<circle cx="526.1" cy="695.2" r="9.8"/>
<circle cx="544.9" cy="696.3" r="9.8"/>
<circle cx="563.7" cy="678.0" r="9.8"/>
<circle cx="582.5" cy="693.1" r="9.8"/>
<circle cx="601.2" cy="694.1" r="9.8"/>
<circle cx="620.0" cy="694.1" r="9.8"/>
<circle cx="638.8" cy="693.1" r="9.8"/>
<circle cx="657.6" cy="666.2" r="9.8"/>
<circle cx="676.4" cy="694.1" r="9.8"/>
<circle cx="695.2" cy="694.1" r="9.8"/>
<circle cx="714.0" cy="694.1" r="9.8"/>
<circle cx="732.8" cy="693.1" r="9.8"/>
<circle cx="751.6" cy="686.6" r="9.8"/>
<circle cx="770.4" cy="694.1" r="9.8"/>
<circle cx="789.1" cy="694.1" r="9.8"/>
<circle cx="807.9" cy="675.4" r="9.8"/>
<circle cx="826.7" cy="694.1" r="9.8"/>
<circle cx="845.5" cy="669.0" r="9.8"/>
<circle cx="864.3" cy="696.3" r="9.8"/>
<circle cx="883.1" cy="697.4" r="9.8"/>
<circle cx="901.9" cy="697.4" r="9.8"/>
<circle cx="920.7" cy="706.0" r="9.8"/>
<circle cx="939.5" cy="700.6" r="9.8"/>
<circle cx="958.2" cy="701.7" r="9.8"/>
<circle cx="977.0" cy="701.2" r="9.8"/>
<circle cx="995.8" cy="701.2" r="9.8"/>
<circle cx="1014.6" cy="701.7" r="9.8"/>
<circle cx="1033.4" cy="701.7" r="9.8"/>
<circle cx="1052.2" cy="701.7" r="9.8"/>
<circle cx="1071.0" cy="701.7" r="9.8"/>
<circle cx="1089.8" cy="702.7" r="9.8"/>
<circle cx="1108.6" cy="680.2" r="9.8"/>
<circle cx="1127.4" cy="679.7" r="9.8"/>
<circle cx="1146.2" cy="680.2" r="9.8"/>
<circle cx="1164.9" cy="681.2" r="9.8"/>
<circle cx="1183.7" cy="682.3" r="9.8"/>
<circle cx="1202.5" cy="688.8" r="9.8"/>
<circle cx="1221.3" cy="688.8" r="9.8"/>
<circle cx="1240.1" cy="690.9" r="9.8"/>
<circle cx="1258.9" cy="718.9" r="9.8"/>
<circle cx="1277.7" cy="727.5" r="9.8"/>
<circle cx="1296.5" cy="700.6" r="9.8"/>
<circle cx="1315.3" cy="729.6" r="9.8"/>
<circle cx="1334.1" cy="712.0" r="9.8"/>
<circle cx="1352.8" cy="717.8" r="9.8"/>
<circle cx="1371.6" cy="737.9" r="9.8"/>
<circle cx="1390.4" cy="746.4" r="9.8"/>
<circle cx="1409.2" cy="756.0" r="9.8"/>
<circle cx="1428.0" cy="766.8" r="9.8"/>
<circle cx="1446.8" cy="778.9" r="9.8"/>
<circle cx="1465.6" cy="792.3" r="9.8"/>
<circle cx="1484.4" cy="807.1" r="9.8"/>
<circle cx="1503.2" cy="819.3" r="9.8"/>
<circle cx="1521.9" cy="832.0" r="9.8"/>
<circle cx="1540.7" cy="847.0" r="9.8"/>
<circle cx="1559.5" cy="864.3" r="9.8"/>
<circle cx="1578.3" cy="883.8" r="9.8"/>
<circle cx="1597.1" cy="905.8" r="9.8"/>
<circle cx="1615.9" cy="929.5" r="9.8"/>
<circle cx="1634.7" cy="953.8" r="9.8"/>
<circle cx="1653.5" cy="977.3" r="9.8"/>
<circle cx="1672.3" cy="998.9" r="9.8"/>
<circle cx="1691.1" cy="1018.7" r="9.8"/>
<circle cx="1709.8" cy="1037.3" r="9.8"/>
<circle cx="1728.6" cy="1054.7" r="9.8"/>
<circle cx="1747.4" cy="1070.5" r="9.8"/>
<circle cx="1766.2" cy="1084.9" r="9.8"/>
<circle cx="1785.0" cy="1097.7" r="9.8"/>
</g>
<g stroke="#00f500">
<circle cx="300.6" cy="717.8" r="9.8"/>
<circle cx="319.4" cy="714.6" r="9.8"/>
<circle cx="338.2" cy="712.8" r="9.8"/>
<circle cx="357.0" cy="715.6" r="9.8"/>
<circle cx="375.8" cy="716.7" r="9.8"/>
<circle cx="394.6" cy="718.9" r="9.8"/>
<circle cx="413.3" cy="709.8" r="9.8"/>
<circle cx="432.1" cy="710.3" r="9.8"/>
<circle cx="450.9" cy="711.3" r="9.8"/>
<circle cx="469.7" cy="709.2" r="9.8"/>
<circle cx="488.5" cy="712.4" r="9.8"/>
<circle cx="507.3" cy="715.6" r="9.8"/>
<circle cx="526.1" cy="712.8" r="9.8"/>
<circle cx="544.9" cy="712.4" r="9.8"/>
<circle cx="563.7" cy="714.1" r="9.8"/>
<circle cx="582.5" cy="715.6" r="9.8"/>
<circle cx="601.2" cy="711.3" r="9.8"/>
<circle cx="620.0" cy="712.0" r="9.8"/>
<circle cx="638.8" cy="712.4" r="9.8"/>
<circle cx="657.6" cy="711.3" r="9.8"/>
<circle cx="676.4" cy="709.8" r="9.8"/>
<circle cx="695.2" cy="712.4" r="9.8"/>
<circle cx="714.0" cy="714.1" r="9.8"/>
<circle cx="732.8" cy="712.4" r="9.8"/>
<circle cx="751.6" cy="713.5" r="9.8"/>
<circle cx="770.4" cy="713.5" r="9.8"/>
<circle cx="789.1" cy="714.6" r="9.8"/>
<circle cx="807.9" cy="714.6" r="9.8"/>
<circle cx="826.7" cy="713.5" r="9.8"/>
<circle cx="845.5" cy="714.6" r="9.8"/>
<circle cx="864.3" cy="714.6" r="9.8"/>
<circle cx="883.1" cy="718.9" r="9.8"/>
<circle cx="901.9" cy="714.6" r="9.8"/>
<circle cx="920.7" cy="715.6" r="9.8"/>
<circle cx="939.5" cy="716.7" r="9.8"/>
<circle cx="958.2" cy="721.4" r="9.8"/>
<circle cx="977.0" cy="721.4" r="9.8"/>
<circle cx="995.8" cy="716.7" r="9.8"/>
<circle cx="1014.6" cy="717.8" r="9.8"/>
<circle cx="1033.4" cy="717.8" r="9.8"/>
<circle cx="1052.2" cy="719.9" r="9.8"/>
<circle cx="1071.0" cy="718.9" r="9.8"/>
<circle cx="1089.8" cy="719.9" r="9.8"/>
<circle cx="1108.6" cy="718.3" r="9.8"/>
<circle cx="1127.4" cy="719.3" r="9.8"/>
<circle cx="1146.2" cy="720.5" r="9.8"/>
<circle cx="1164.9" cy="721.8" r="9.8"/>
<circle cx="1183.7" cy="723.4" r="9.8"/>
<circle cx="1202.5" cy="725.2" r="9.8"/>
<circle cx="1221.3" cy="727.3" r="9.8"/>
<circle cx="1240.1" cy="729.8" r="9.8"/>
<circle cx="1258.9" cy="733.1" r="9.8"/>
<circle cx="1277.7" cy="736.4" r="9.8"/>
<circle cx="1296.5" cy="740.2" r="9.8"/>
<circle cx="1315.3" cy="744.6" r="9.8"/>
<circle cx="1334.1" cy="749.6" r="9.8"/>
<circle cx="1352.8" cy="755.4" r="9.8"/>
<circle cx="1371.6" cy="762.0" r="9.8"/>
<circle cx="1390.4" cy="769.6" r="9.8"/>
<circle cx="1409.2" cy="778.1" r="9.8"/>
<circle cx="1428.0" cy="787.7" r="9.8"/>
<circle cx="1446.8" cy="798.5" r="9.8"/>
<circle cx="1465.6" cy="810.6" r="9.8"/>
<circle cx="1484.4" cy="823.8" r="9.8"/>
<circle cx="1503.2" cy="835.0" r="9.8"/>
<circle cx="1521.9" cy="846.7" r="9.8"/>
<circle cx="1540.7" cy="860.5" r="9.8"/>
<circle cx="1559.5" cy="876.4" r="9.8"/>
<circle cx="1578.3" cy="894.4" r="9.8"/>
<circle cx="1597.1" cy="914.7" r="9.8"/>
<circle cx="1615.9" cy="936.5" r="9.8"/>
<circle cx="1634.7" cy="959.0" r="9.8"/>
<circle cx="1653.5" cy="981.2" r="9.8"/>
<circle cx="1672.3" cy="1002.1" r="9.8"/>
<circle cx="1691.1" cy="1021.7" r="9.8"/>
<circle cx="1709.8" cy="1040.4" r="9.8"/>
<circle cx="1728.6" cy="1058.0" r="9.8"/>
<circle cx="1747.4" cy="1074.3" r="9.8"/>
<circle cx="1766.2" cy="1089.3" r="9.8"/>
<circle cx="1785.0" cy="1102.7" r="9.8"/>
</g>
<g stroke="#8cbe14">
<circle cx="300.6" cy="756.5" r="9.8"/>
<circle cx="319.4" cy="756.5" r="9.8"/>
<circle cx="338.2" cy="753.2" r="9.8"/>
<circle cx="357.0" cy="753.2" r="9.8"/>
<circle cx="375.8" cy="756.0" r="9.8"/>
<circle cx="394.6" cy="752.8" r="9.8"/>
<circle cx="413.3" cy="753.2" r="9.8"/>
<circle cx="432.1" cy="752.2" r="9.8"/>
<circle cx="450.9" cy="755.4" r="9.8"/>
<circle cx="469.7" cy="756.5" r="9.8"/>
<circle cx="488.5" cy="755.4" r="9.8"/>
<circle cx="507.3" cy="753.2" r="9.8"/>
<circle cx="526.1" cy="755.0" r="9.8"/>
<circle cx="544.9" cy="753.2" r="9.8"/>
<circle cx="563.7" cy="757.1" r="9.8"/>
<circle cx="582.5" cy="755.4" r="9.8"/>
<circle cx="601.2" cy="755.4" r="9.8"/>
<circle cx="620.0" cy="755.0" r="9.8"/>
<circle cx="638.8" cy="755.4" r="9.8"/>
<circle cx="657.6" cy="755.0" r="9.8"/>
<circle cx="676.4" cy="754.3" r="9.8"/>
<circle cx="695.2" cy="755.4" r="9.8"/>
<circle cx="714.0" cy="752.8" r="9.8"/>
<circle cx="732.8" cy="754.3" r="9.8"/>
<circle cx="751.6" cy="755.0" r="9.8"/>
<circle cx="770.4" cy="755.4" r="9.8"/>
<circle cx="789.1" cy="755.8" r="9.8"/>
<circle cx="807.9" cy="755.8" r="9.8"/>
<circle cx="826.7" cy="756.5" r="9.8"/>
<circle cx="845.5" cy="756.5" r="9.8"/>
<circle cx="864.3" cy="757.1" r="9.8"/>
<circle cx="883.1" cy="756.5" r="9.8"/>
<circle cx="901.9" cy="757.1" r="9.8"/>
<circle cx="920.7" cy="757.5" r="9.8"/>
<circle cx="939.5" cy="757.5" r="9.8"/>
<circle cx="958.2" cy="759.3" r="9.8"/>
<circle cx="977.0" cy="759.7" r="9.8"/>
<circle cx="995.8" cy="758.6" r="9.8"/>
<circle cx="1014.6" cy="759.7" r="9.8"/>
<circle cx="1033.4" cy="759.7" r="9.8"/>
<circle cx="1052.2" cy="764.0" r="9.8"/>
<circle cx="1071.0" cy="761.8" r="9.8"/>
<circle cx="1089.8" cy="761.8" r="9.8"/>
<circle cx="1108.6" cy="759.1" r="9.8"/>
<circle cx="1127.4" cy="759.9" r="9.8"/>
<circle cx="1146.2" cy="760.8" r="9.8"/>
<circle cx="1164.9" cy="761.8" r="9.8"/>
<circle cx="1183.7" cy="763.0" r="9.8"/>
<circle cx="1202.5" cy="764.4" r="9.8"/>
<circle cx="1221.3" cy="766.0" r="9.8"/>
<circle cx="1240.1" cy="767.8" r="9.8"/>
<circle cx="1258.9" cy="770.4" r="9.8"/>
<circle cx="1277.7" cy="772.9" r="9.8"/>
<circle cx="1296.5" cy="775.7" r="9.8"/>
<circle cx="1315.3" cy="779.0" r="9.8"/>
<circle cx="1334.1" cy="782.8" r="9.8"/>
<circle cx="1352.8" cy="787.1" r="9.8"/>
<circle cx="1371.6" cy="792.1" r="9.8"/>
<circle cx="1390.4" cy="797.8" r="9.8"/>
<circle cx="1409.2" cy="804.2" r="9.8"/>
<circle cx="1428.0" cy="811.6" r="9.8"/>
<circle cx="1446.8" cy="819.9" r="9.8"/>
<circle cx="1465.6" cy="829.2" r="9.8"/>
<circle cx="1484.4" cy="839.7" r="9.8"/>
<circle cx="1503.2" cy="850.1" r="9.8"/>
<circle cx="1521.9" cy="861.5" r="9.8"/>
<circle cx="1540.7" cy="874.6" r="9.8"/>
<circle cx="1559.5" cy="889.1" r="9.8"/>
<circle cx="1578.3" cy="905.1" r="9.8"/>
<circle cx="1597.1" cy="922.8" r="9.8"/>
<circle cx="1615.9" cy="942.2" r="9.8"/>
<circle cx="1634.7" cy="962.5" r="9.8"/>
<circle cx="1653.5" cy="982.8" r="9.8"/>
<circle cx="1672.3" cy="1002.4" r="9.8"/>
<circle cx="1691.1" cy="1021.3" r="9.8"/>
<circle cx="1709.8" cy="1039.8" r="9.8"/>
<circle cx="1728.6" cy="1057.6" r="9.8"/>
<circle cx="1747.4" cy="1074.5" r="9.8"/>
<circle cx="1766.2" cy="1090.3" r="9.8"/>
<circle cx="1785.0" cy="1104.8" r="9.8"/>
</g>
<g stroke="#008200">
<circle cx="300.6" cy="802.7" r="9.8"/>
<circle cx="319.4" cy="810.2" r="9.8"/>
<circle cx="338.2" cy="801.6" r="9.8"/>
<circle cx="357.0" cy="792.6" r="9.8"/>
<circle cx="375.8" cy="791.9" r="9.8"/>
<circle cx="394.6" cy="796.7" r="9.8"/>
<circle cx="413.3" cy="791.5" r="9.8"/>
<circle cx="432.1" cy="809.1" r="9.8"/>
<circle cx="450.9" cy="811.3" r="9.8"/>
<circle cx="469.7" cy="794.1" r="9.8"/>
<circle cx="488.5" cy="793.0" r="9.8"/>
<circle cx="507.3" cy="793.7" r="9.8"/>
<circle cx="526.1" cy="810.2" r="9.8"/>
<circle cx="544.9" cy="794.5" r="9.8"/>
<circle cx="563.7" cy="798.4" r="9.8"/>
<circle cx="582.5" cy="810.2" r="9.8"/>
<circle cx="601.2" cy="811.3" r="9.8"/>
<circle cx="620.0" cy="795.2" r="9.8"/>
<circle cx="638.8" cy="799.5" r="9.8"/>
<circle cx="657.6" cy="810.9" r="9.8"/>
<circle cx="676.4" cy="815.6" r="9.8"/>
<circle cx="695.2" cy="811.3" r="9.8"/>
<circle cx="714.0" cy="811.3" r="9.8"/>
<circle cx="732.8" cy="812.4" r="9.8"/>
<circle cx="751.6" cy="810.2" r="9.8"/>
<circle cx="770.4" cy="811.3" r="9.8"/>
<circle cx="789.1" cy="812.4" r="9.8"/>
<circle cx="807.9" cy="813.4" r="9.8"/>
<circle cx="826.7" cy="815.2" r="9.8"/>
<circle cx="845.5" cy="813.4" r="9.8"/>
<circle cx="864.3" cy="812.4" r="9.8"/>
<circle cx="883.1" cy="813.0" r="9.8"/>
<circle cx="901.9" cy="811.3" r="9.8"/>
<circle cx="920.7" cy="798.4" r="9.8"/>
<circle cx="939.5" cy="815.6" r="9.8"/>
<circle cx="958.2" cy="797.3" r="9.8"/>
<circle cx="977.0" cy="817.7" r="9.8"/>
<circle cx="995.8" cy="817.7" r="9.8"/>
<circle cx="1014.6" cy="799.5" r="9.8"/>
<circle cx="1033.4" cy="817.7" r="9.8"/>
<circle cx="1052.2" cy="800.5" r="9.8"/>
<circle cx="1071.0" cy="801.0" r="9.8"/>
<circle cx="1089.8" cy="818.8" r="9.8"/>
<circle cx="1108.6" cy="800.5" r="9.8"/>
<circle cx="1127.4" cy="800.5" r="9.8"/>
<circle cx="1146.2" cy="800.5" r="9.8"/>
<circle cx="1164.9" cy="801.6" r="9.8"/>
<circle cx="1183.7" cy="819.9" r="9.8"/>
<circle cx="1202.5" cy="802.7" r="9.8"/>
<circle cx="1221.3" cy="824.2" r="9.8"/>
<circle cx="1240.1" cy="804.8" r="9.8"/>
<circle cx="1258.9" cy="813.4" r="9.8"/>
<circle cx="1277.7" cy="807.0" r="9.8"/>
<circle cx="1296.5" cy="809.1" r="9.8"/>
<circle cx="1315.3" cy="832.8" r="9.8"/>
<circle cx="1334.1" cy="833.9" r="9.8"/>
<circle cx="1352.8" cy="838.1" r="9.8"/>
<circle cx="1371.6" cy="845.7" r="9.8"/>
<circle cx="1390.4" cy="824.2" r="9.8"/>
<circle cx="1409.2" cy="828.5" r="9.8"/>
<circle cx="1428.0" cy="843.1" r="9.8"/>
<circle cx="1446.8" cy="848.9" r="9.8"/>
<circle cx="1465.6" cy="855.6" r="9.8"/>
<circle cx="1484.4" cy="863.1" r="9.8"/>
<circle cx="1503.2" cy="871.5" r="9.8"/>
<circle cx="1521.9" cy="881.2" r="9.8"/>
<circle cx="1540.7" cy="891.9" r="9.8"/>
<circle cx="1559.5" cy="903.9" r="9.8"/>
<circle cx="1578.3" cy="917.1" r="9.8"/>
<circle cx="1597.1" cy="932.1" r="9.8"/>
<circle cx="1615.9" cy="948.7" r="9.8"/>
<circle cx="1634.7" cy="966.6" r="9.8"/>
<circle cx="1653.5" cy="985.1" r="9.8"/>
<circle cx="1672.3" cy="1003.4" r="9.8"/>
<circle cx="1691.1" cy="1021.7" r="9.8"/>
<circle cx="1709.8" cy="1040.0" r="9.8"/>
<circle cx="1728.6" cy="1058.0" r="9.8"/>
<circle cx="1747.4" cy="1075.4" r="9.8"/>
<circle cx="1766.2" cy="1092.1" r="9.8"/>
<circle cx="1785.0" cy="1107.9" r="9.8"/>
</g>
<g stroke="#ff8c0a">
<circle cx="300.6" cy="845.7" r="9.8"/>
<circle cx="319.4" cy="843.5" r="9.8"/>
<circle cx="338.2" cy="828.5" r="9.8"/>
<circle cx="357.0" cy="834.9" r="9.8"/>
<circle cx="375.8" cy="838.1" r="9.8"/>
<circle cx="394.6" cy="840.3" r="9.8"/>
<circle cx="413.3" cy="829.6" r="9.8"/>
<circle cx="432.1" cy="837.1" r="9.8"/>
<circle cx="450.9" cy="833.9" r="9.8"/>
<circle cx="469.7" cy="826.3" r="9.8"/>
<circle cx="488.5" cy="838.1" r="9.8"/>
<circle cx="507.3" cy="841.4" r="9.8"/>
<circle cx="526.1" cy="841.4" r="9.8"/>
<circle cx="544.9" cy="841.4" r="9.8"/>
<circle cx="563.7" cy="827.4" r="9.8"/>
<circle cx="582.5" cy="827.4" r="9.8"/>
<circle cx="601.2" cy="827.4" r="9.8"/>
<circle cx="620.0" cy="827.4" r="9.8"/>
<circle cx="638.8" cy="827.4" r="9.8"/>
<circle cx="657.6" cy="826.3" r="9.8"/>
<circle cx="676.4" cy="827.4" r="9.8"/>
<circle cx="695.2" cy="826.3" r="9.8"/>
<circle cx="714.0" cy="826.3" r="9.8"/>
<circle cx="732.8" cy="827.4" r="9.8"/>
<circle cx="751.6" cy="827.4" r="9.8"/>
<circle cx="770.4" cy="827.4" r="9.8"/>
<circle cx="789.1" cy="827.4" r="9.8"/>
<circle cx="864.3" cy="827.4" r="9.8"/>
<circle cx="883.1" cy="833.9" r="9.8"/>
<circle cx="901.9" cy="829.6" r="9.8"/>
<circle cx="920.7" cy="841.4" r="9.8"/>
<circle cx="939.5" cy="842.4" r="9.8"/>
<circle cx="958.2" cy="843.5" r="9.8"/>
<circle cx="977.0" cy="844.6" r="9.8"/>
<circle cx="995.8" cy="831.7" r="9.8"/>
<circle cx="1014.6" cy="829.6" r="9.8"/>
<circle cx="1033.4" cy="830.6" r="9.8"/>
<circle cx="1052.2" cy="830.6" r="9.8"/>
<circle cx="1071.0" cy="830.6" r="9.8"/>
<circle cx="1089.8" cy="844.6" r="9.8"/>
<circle cx="1108.6" cy="832.8" r="9.8"/>
<circle cx="1127.4" cy="833.9" r="9.8"/>
<circle cx="1146.2" cy="836.0" r="9.8"/>
<circle cx="1164.9" cy="838.1" r="9.8"/>
<circle cx="1183.7" cy="851.0" r="9.8"/>
<circle cx="1202.5" cy="851.0" r="9.8"/>
<circle cx="1221.3" cy="833.9" r="9.8"/>
<circle cx="1240.1" cy="854.3" r="9.8"/>
<circle cx="1258.9" cy="855.3" r="9.8"/>
<circle cx="1277.7" cy="854.3" r="9.8"/>
<circle cx="1296.5" cy="837.1" r="9.8"/>
<circle cx="1315.3" cy="840.3" r="9.8"/>
<circle cx="1334.1" cy="860.7" r="9.8"/>
<circle cx="1352.8" cy="845.7" r="9.8"/>
<circle cx="1371.6" cy="847.8" r="9.8"/>
<circle cx="1390.4" cy="860.3" r="9.8"/>
<circle cx="1409.2" cy="864.7" r="9.8"/>
<circle cx="1428.0" cy="869.7" r="9.8"/>
<circle cx="1446.8" cy="875.4" r="9.8"/>
<circle cx="1465.6" cy="879.0" r="9.8"/>
<circle cx="1484.4" cy="883.3" r="9.8"/>
<circle cx="1503.2" cy="888.9" r="9.8"/>
<circle cx="1521.9" cy="896.0" r="9.8"/>
<circle cx="1540.7" cy="904.7" r="9.8"/>
<circle cx="1559.5" cy="914.9" r="9.8"/>
<circle cx="1578.3" cy="926.8" r="9.8"/>
<circle cx="1597.1" cy="940.2" r="9.8"/>
<circle cx="1615.9" cy="955.2" r="9.8"/>
<circle cx="1634.7" cy="971.3" r="9.8"/>
<circle cx="1653.5" cy="988.2" r="9.8"/>
<circle cx="1672.3" cy="1005.5" r="9.8"/>
<circle cx="1691.1" cy="1023.1" r="9.8"/>
<circle cx="1709.8" cy="1041.0" r="9.8"/>
<circle cx="1728.6" cy="1058.8" r="9.8"/>
<circle cx="1747.4" cy="1076.4" r="9.8"/>
<circle cx="1766.2" cy="1093.5" r="9.8"/>
<circle cx="1785.0" cy="1110.0" r="9.8"/>
</g>
<g stroke="#ff6400">
<circle cx="300.6" cy="903.2" r="9.8"/>
<circle cx="319.4" cy="903.2" r="9.8"/>
<circle cx="338.2" cy="903.2" r="9.8"/>
<circle cx="357.0" cy="903.2" r="9.8"/>
<circle cx="375.8" cy="903.2" r="9.8"/>
<circle cx="394.6" cy="903.2" r="9.8"/>
<circle cx="413.3" cy="903.2" r="9.8"/>
<circle cx="432.1" cy="903.2" r="9.8"/>
<circle cx="450.9" cy="903.2" r="9.8"/>
<circle cx="469.7" cy="903.2" r="9.8"/>
<circle cx="488.5" cy="903.2" r="9.8"/>
<circle cx="507.3" cy="903.2" r="9.8"/>
<circle cx="526.1" cy="903.2" r="9.8"/>
<circle cx="544.9" cy="903.3" r="9.8"/>
<circle cx="563.7" cy="903.3" r="9.8"/>
<circle cx="582.5" cy="903.3" r="9.8"/>
<circle cx="601.2" cy="903.3" r="9.8"/>
<circle cx="620.0" cy="903.3" r="9.8"/>
<circle cx="638.8" cy="903.3" r="9.8"/>
<circle cx="657.6" cy="903.3" r="9.8"/>
<circle cx="676.4" cy="903.3" r="9.8"/>
<circle cx="695.2" cy="903.3" r="9.8"/>
<circle cx="714.0" cy="903.3" r="9.8"/>
<circle cx="732.8" cy="903.3" r="9.8"/>
<circle cx="751.6" cy="903.3" r="9.8"/>
<circle cx="770.4" cy="903.3" r="9.8"/>
<circle cx="789.1" cy="903.3" r="9.8"/>
<circle cx="807.9" cy="903.3" r="9.8"/>
<circle cx="826.7" cy="903.3" r="9.8"/>
<circle cx="845.5" cy="903.3" r="9.8"/>
<circle cx="864.3" cy="903.3" r="9.8"/>
<circle cx="883.1" cy="903.4" r="9.8"/>
<circle cx="901.9" cy="903.4" r="9.8"/>
<circle cx="920.7" cy="903.4" r="9.8"/>
<circle cx="939.5" cy="903.5" r="9.8"/>
<circle cx="958.2" cy="903.5" r="9.8"/>
<circle cx="977.0" cy="903.5" r="9.8"/>
<circle cx="995.8" cy="903.6" r="9.8"/>
<circle cx="1014.6" cy="903.7" r="9.8"/>
<circle cx="1033.4" cy="903.7" r="9.8"/>
<circle cx="1052.2" cy="903.8" r="9.8"/>
<circle cx="1071.0" cy="904.0" r="9.8"/>
<circle cx="1089.8" cy="904.1" r="9.8"/>
<circle cx="1108.6" cy="904.2" r="9.8"/>
<circle cx="1127.4" cy="904.4" r="9.8"/>
<circle cx="1146.2" cy="904.7" r="9.8"/>
<circle cx="1164.9" cy="904.9" r="9.8"/>
<circle cx="1183.7" cy="905.3" r="9.8"/>
<circle cx="1202.5" cy="905.6" r="9.8"/>
<circle cx="1221.3" cy="906.1" r="9.8"/>
<circle cx="1240.1" cy="906.6" r="9.8"/>
<circle cx="1258.9" cy="907.3" r="9.8"/>
<circle cx="1277.7" cy="908.0" r="9.8"/>
<circle cx="1296.5" cy="908.9" r="9.8"/>
<circle cx="1315.3" cy="910.0" r="9.8"/>
<circle cx="1334.1" cy="911.2" r="9.8"/>
<circle cx="1352.8" cy="912.7" r="9.8"/>
<circle cx="1371.6" cy="914.5" r="9.8"/>
<circle cx="1390.4" cy="916.5" r="9.8"/>
<circle cx="1409.2" cy="918.9" r="9.8"/>
<circle cx="1428.0" cy="921.8" r="9.8"/>
<circle cx="1446.8" cy="925.1" r="9.8"/>
<circle cx="1465.6" cy="927.8" r="9.8"/>
<circle cx="1484.4" cy="931.0" r="9.8"/>
<circle cx="1503.2" cy="934.9" r="9.8"/>
<circle cx="1521.9" cy="939.6" r="9.8"/>
<circle cx="1540.7" cy="945.0" r="9.8"/>
<circle cx="1559.5" cy="951.4" r="9.8"/>
<circle cx="1578.3" cy="958.6" r="9.8"/>
<circle cx="1597.1" cy="966.6" r="9.8"/>
<circle cx="1615.9" cy="975.4" r="9.8"/>
<circle cx="1634.7" cy="985.2" r="9.8"/>
<circle cx="1653.5" cy="996.1" r="9.8"/>
<circle cx="1672.3" cy="1008.2" r="9.8"/>
<circle cx="1691.1" cy="1021.5" r="9.8"/>
<circle cx="1709.8" cy="1036.0" r="9.8"/>
<circle cx="1728.6" cy="1051.4" r="9.8"/>
<circle cx="1747.4" cy="1067.3" r="9.8"/>
<circle cx="1766.2" cy="1083.6" r="9.8"/>
<circle cx="1785.0" cy="1099.6" r="9.8"/>
</g>
<g stroke="#ff0a0a">
<circle cx="300.6" cy="964.5" r="9.8"/>
<circle cx="319.4" cy="964.5" r="9.8"/>
<circle cx="338.2" cy="964.5" r="9.8"/>
<circle cx="357.0" cy="964.5" r="9.8"/>
<circle cx="375.8" cy="964.5" r="9.8"/>
<circle cx="394.6" cy="964.5" r="9.8"/>
<circle cx="413.3" cy="964.5" r="9.8"/>
<circle cx="432.1" cy="964.5" r="9.8"/>
<circle cx="450.9" cy="964.5" r="9.8"/>
<circle cx="469.7" cy="964.5" r="9.8"/>
<circle cx="488.5" cy="964.5" r="9.8"/>
<circle cx="507.3" cy="964.5" r="9.8"/>
<circle cx="526.1" cy="964.5" r="9.8"/>
<circle cx="544.9" cy="964.6" r="9.8"/>
<circle cx="563.7" cy="964.6" r="9.8"/>
<circle cx="582.5" cy="964.6" r="9.8"/>
<circle cx="601.2" cy="964.6" r="9.8"/>
<circle cx="620.0" cy="964.6" r="9.8"/>
<circle cx="638.8" cy="964.6" r="9.8"/>
<circle cx="657.6" cy="964.6" r="9.8"/>
<circle cx="676.4" cy="964.6" r="9.8"/>
<circle cx="695.2" cy="964.6" r="9.8"/>
<circle cx="714.0" cy="964.7" r="9.8"/>
<circle cx="732.8" cy="964.7" r="9.8"/>
<circle cx="751.6" cy="964.7" r="9.8"/>
<circle cx="770.4" cy="964.7" r="9.8"/>
<circle cx="789.1" cy="964.7" r="9.8"/>
<circle cx="807.9" cy="964.8" r="9.8"/>
<circle cx="826.7" cy="964.8" r="9.8"/>
<circle cx="845.5" cy="964.8" r="9.8"/>
<circle cx="864.3" cy="964.9" r="9.8"/>
<circle cx="883.1" cy="964.9" r="9.8"/>
<circle cx="901.9" cy="965.0" r="9.8"/>
<circle cx="920.7" cy="965.0" r="9.8"/>
<circle cx="939.5" cy="965.1" r="9.8"/>
<circle cx="958.2" cy="965.1" r="9.8"/>
<circle cx="977.0" cy="965.2" r="9.8"/>
<circle cx="995.8" cy="965.3" r="9.8"/>
<circle cx="1014.6" cy="965.3" r="9.8"/>
<circle cx="1033.4" cy="965.4" r="9.8"/>
<circle cx="1052.2" cy="965.5" r="9.8"/>
<circle cx="1071.0" cy="965.6" r="9.8"/>
<circle cx="1089.8" cy="965.8" r="9.8"/>
<circle cx="1108.6" cy="965.9" r="9.8"/>
<circle cx="1127.4" cy="966.1" r="9.8"/>
<circle cx="1146.2" cy="966.3" r="9.8"/>
<circle cx="1164.9" cy="966.5" r="9.8"/>
<circle cx="1183.7" cy="966.7" r="9.8"/>
<circle cx="1202.5" cy="967.0" r="9.8"/>
<circle cx="1221.3" cy="967.2" r="9.8"/>
<circle cx="1240.1" cy="967.6" r="9.8"/>
<circle cx="1258.9" cy="968.0" r="9.8"/>
<circle cx="1277.7" cy="968.4" r="9.8"/>
<circle cx="1296.5" cy="968.9" r="9.8"/>
<circle cx="1315.3" cy="969.5" r="9.8"/>
<circle cx="1334.1" cy="970.1" r="9.8"/>
<circle cx="1352.8" cy="970.8" r="9.8"/>
<circle cx="1371.6" cy="971.7" r="9.8"/>
<circle cx="1390.4" cy="972.6" r="9.8"/>
<circle cx="1409.2" cy="973.7" r="9.8"/>
<circle cx="1428.0" cy="975.0" r="9.8"/>
<circle cx="1446.8" cy="976.5" r="9.8"/>
<circle cx="1465.6" cy="978.2" r="9.8"/>
<circle cx="1484.4" cy="980.1" r="9.8"/>
<circle cx="1503.2" cy="982.3" r="9.8"/>
<circle cx="1521.9" cy="984.9" r="9.8"/>
<circle cx="1540.7" cy="987.8" r="9.8"/>
<circle cx="1559.5" cy="991.2" r="9.8"/>
<circle cx="1578.3" cy="995.0" r="9.8"/>
<circle cx="1597.1" cy="999.4" r="9.8"/>
<circle cx="1615.9" cy="1004.5" r="9.8"/>
<circle cx="1634.7" cy="1010.2" r="9.8"/>
<circle cx="1653.5" cy="1016.8" r="9.8"/>
<circle cx="1672.3" cy="1024.2" r="9.8"/>
<circle cx="1691.1" cy="1032.6" r="9.8"/>
<circle cx="1709.8" cy="1042.0" r="9.8"/>
<circle cx="1728.6" cy="1052.5" r="9.8"/>
<circle cx="1747.4" cy="1064.2" r="9.8"/>
<circle cx="1766.2" cy="1077.1" r="9.8"/>
<circle cx="1785.0" cy="1091.3" r="9.8"/>
</g>
<g stroke="#ff0a0a">
<circle cx="300.6" cy="1016.4" r="9.8"/>
<circle cx="319.4" cy="1016.4" r="9.8"/>
<circle cx="338.2" cy="1016.4" r="9.8"/>
<circle cx="357.0" cy="1016.4" r="9.8"/>
<circle cx="375.8" cy="1016.4" r="9.8"/>
<circle cx="394.6" cy="1016.4" r="9.8"/>
<circle cx="413.3" cy="1016.4" r="9.8"/>
<circle cx="432.1" cy="1016.4" r="9.8"/>
<circle cx="450.9" cy="1016.4" r="9.8"/>
<circle cx="469.7" cy="1016.4" r="9.8"/>
<circle cx="488.5" cy="1016.4" r="9.8"/>
<circle cx="507.3" cy="1016.4" r="9.8"/>
<circle cx="526.1" cy="1016.4" r="9.8"/>
<circle cx="544.9" cy="1016.4" r="9.8"/>
<circle cx="563.7" cy="1016.4" r="9.8"/>
<circle cx="582.5" cy="1016.4" r="9.8"/>
<circle cx="601.2" cy="1016.4" r="9.8"/>
<circle cx="620.0" cy="1016.4" r="9.8"/>
<circle cx="638.8" cy="1016.4" r="9.8"/>
<circle cx="657.6" cy="1016.4" r="9.8"/>
<circle cx="676.4" cy="1016.4" r="9.8"/>
<circle cx="695.2" cy="1016.4" r="9.8"/>
<circle cx="714.0" cy="1016.4" r="9.8"/>
<circle cx="732.8" cy="1016.4" r="9.8"/>
<circle cx="751.6" cy="1016.4" r="9.8"/>
<circle cx="770.4" cy="1016.4" r="9.8"/>
<circle cx="789.1" cy="1016.5" r="9.8"/>
<circle cx="807.9" cy="1016.5" r="9.8"/>
<circle cx="826.7" cy="1016.5" r="9.8"/>
<circle cx="845.5" cy="1016.5" r="9.8"/>
<circle cx="864.3" cy="1016.5" r="9.8"/>
<circle cx="883.1" cy="1016.5" r="9.8"/>
<circle cx="901.9" cy="1016.5" r="9.8"/>
<circle cx="920.7" cy="1016.5" r="9.8"/>
<circle cx="939.5" cy="1016.5" r="9.8"/>
<circle cx="958.2" cy="1016.6" r="9.8"/>
<circle cx="977.0" cy="1016.6" r="9.8"/>
<circle cx="995.8" cy="1016.6" r="9.8"/>
<circle cx="1014.6" cy="1016.6" r="9.8"/>
<circle cx="1033.4" cy="1016.6" r="9.8"/>
<circle cx="1052.2" cy="1016.7" r="9.8"/>
<circle cx="1071.0" cy="1016.7" r="9.8"/>
<circle cx="1089.8" cy="1016.8" r="9.8"/>
<circle cx="1108.6" cy="1016.8" r="9.8"/>
<circle cx="1127.4" cy="1016.8" r="9.8"/>
<circle cx="1146.2" cy="1016.9" r="9.8"/>
<circle cx="1164.9" cy="1017.0" r="9.8"/>
<circle cx="1183.7" cy="1017.1" r="9.8"/>
<circle cx="1202.5" cy="1017.1" r="9.8"/>
<circle cx="1221.3" cy="1017.2" r="9.8"/>
<circle cx="1240.1" cy="1017.4" r="9.8"/>
<circle cx="1258.9" cy="1017.5" r="9.8"/>
<circle cx="1277.7" cy="1017.7" r="9.8"/>
<circle cx="1296.5" cy="1017.9" r="9.8"/>
<circle cx="1315.3" cy="1018.1" r="9.8"/>
<circle cx="1334.1" cy="1018.3" r="9.8"/>
<circle cx="1352.8" cy="1018.6" r="9.8"/>
<circle cx="1371.6" cy="1019.0" r="9.8"/>
<circle cx="1390.4" cy="1019.4" r="9.8"/>
<circle cx="1409.2" cy="1019.8" r="9.8"/>
<circle cx="1428.0" cy="1020.4" r="9.8"/>
<circle cx="1446.8" cy="1021.0" r="9.8"/>
<circle cx="1465.6" cy="1021.8" r="9.8"/>
<circle cx="1484.4" cy="1022.6" r="9.8"/>
<circle cx="1503.2" cy="1023.7" r="9.8"/>
<circle cx="1521.9" cy="1024.8" r="9.8"/>
<circle cx="1540.7" cy="1026.2" r="9.8"/>
<circle cx="1559.5" cy="1027.9" r="9.8"/>
<circle cx="1578.3" cy="1029.8" r="9.8"/>
<circle cx="1597.1" cy="1032.0" r="9.8"/>
<circle cx="1615.9" cy="1034.6" r="9.8"/>
<circle cx="1634.7" cy="1037.6" r="9.8"/>
<circle cx="1653.5" cy="1041.2" r="9.8"/>
<circle cx="1672.3" cy="1045.3" r="9.8"/>
<circle cx="1691.1" cy="1050.0" r="9.8"/>
<circle cx="1709.8" cy="1055.5" r="9.8"/>
<circle cx="1728.6" cy="1061.8" r="9.8"/>
<circle cx="1747.4" cy="1069.0" r="9.8"/>
<circle cx="1766.2" cy="1077.2" r="9.8"/>
<circle cx="1785.0" cy="1086.5" r="9.8"/>
</g>
<g stroke="#dc0000">
<circle cx="300.6" cy="1059.8" r="9.8"/>
<circle cx="319.4" cy="1059.8" r="9.8"/>
<circle cx="338.2" cy="1059.8" r="9.8"/>
<circle cx="357.0" cy="1059.8" r="9.8"/>
<circle cx="375.8" cy="1059.8" r="9.8"/>
<circle cx="394.6" cy="1059.8" r="9.8"/>
<circle cx="413.3" cy="1059.8" r="9.8"/>
<circle cx="432.1" cy="1059.8" r="9.8"/>
<circle cx="450.9" cy="1059.8" r="9.8"/>
<circle cx="469.7" cy="1059.8" r="9.8"/>
<circle cx="488.5" cy="1059.8" r="9.8"/>
<circle cx="507.3" cy="1059.8" r="9.8"/>
<circle cx="526.1" cy="1059.8" r="9.8"/>
<circle cx="544.9" cy="1059.8" r="9.8"/>
<circle cx="563.7" cy="1059.8" r="9.8"/>
<circle cx="582.5" cy="1059.8" r="9.8"/>
<circle cx="601.2" cy="1059.8" r="9.8"/>
<circle cx="620.0" cy="1059.8" r="9.8"/>
<circle cx="638.8" cy="1059.8" r="9.8"/>
<circle cx="657.6" cy="1059.8" r="9.8"/>
<circle cx="676.4" cy="1059.8" r="9.8"/>
<circle cx="695.2" cy="1059.9" r="9.8"/>
<circle cx="714.0" cy="1059.9" r="9.8"/>
<circle cx="732.8" cy="1059.9" r="9.8"/>
<circle cx="751.6" cy="1059.9" r="9.8"/>
<circle cx="770.4" cy="1059.9" r="9.8"/>
<circle cx="789.1" cy="1059.9" r="9.8"/>
<circle cx="807.9" cy="1059.9" r="9.8"/>
<circle cx="826.7" cy="1059.9" r="9.8"/>
<circle cx="845.5" cy="1060.0" r="9.8"/>
<circle cx="864.3" cy="1060.0" r="9.8"/>
<circle cx="883.1" cy="1060.0" r="9.8"/>
<circle cx="901.9" cy="1060.0" r="9.8"/>
<circle cx="920.7" cy="1060.1" r="9.8"/>
<circle cx="939.5" cy="1060.1" r="9.8"/>
<circle cx="958.2" cy="1060.1" r="9.8"/>
<circle cx="977.0" cy="1060.1" r="9.8"/>
<circle cx="995.8" cy="1060.2" r="9.8"/>
<circle cx="1014.6" cy="1060.2" r="9.8"/>
<circle cx="1033.4" cy="1060.3" r="9.8"/>
<circle cx="1052.2" cy="1060.3" r="9.8"/>
<circle cx="1071.0" cy="1060.4" r="9.8"/>
<circle cx="1089.8" cy="1060.4" r="9.8"/>
<circle cx="1108.6" cy="1060.5" r="9.8"/>
<circle cx="1127.4" cy="1060.5" r="9.8"/>
<circle cx="1146.2" cy="1060.6" r="9.8"/>
<circle cx="1164.9" cy="1060.7" r="9.8"/>
<circle cx="1183.7" cy="1060.8" r="9.8"/>
<circle cx="1202.5" cy="1060.9" r="9.8"/>
<circle cx="1221.3" cy="1061.0" r="9.8"/>
<circle cx="1240.1" cy="1061.1" r="9.8"/>
<circle cx="1258.9" cy="1061.2" r="9.8"/>
<circle cx="1277.7" cy="1061.4" r="9.8"/>
<circle cx="1296.5" cy="1061.5" r="9.8"/>
<circle cx="1315.3" cy="1061.7" r="9.8"/>
<circle cx="1334.1" cy="1061.9" r="9.8"/>
<circle cx="1352.8" cy="1062.2" r="9.8"/>
<circle cx="1371.6" cy="1062.4" r="9.8"/>
<circle cx="1390.4" cy="1062.7" r="9.8"/>
<circle cx="1409.2" cy="1063.0" r="9.8"/>
<circle cx="1428.0" cy="1063.3" r="9.8"/>
<circle cx="1446.8" cy="1063.7" r="9.8"/>
<circle cx="1465.6" cy="1064.1" r="9.8"/>
<circle cx="1484.4" cy="1064.6" r="9.8"/>
<circle cx="1503.2" cy="1065.1" r="9.8"/>
<circle cx="1521.9" cy="1065.6" r="9.8"/>
<circle cx="1540.7" cy="1066.2" r="9.8"/>
<circle cx="1559.5" cy="1066.9" r="9.8"/>
<circle cx="1578.3" cy="1067.7" r="9.8"/>
<circle cx="1597.1" cy="1068.5" r="9.8"/>
<circle cx="1615.9" cy="1069.4" r="9.8"/>
<circle cx="1634.7" cy="1070.4" r="9.8"/>
<circle cx="1653.5" cy="1071.4" r="9.8"/>
<circle cx="1672.3" cy="1072.6" r="9.8"/>
<circle cx="1691.1" cy="1073.8" r="9.8"/>
<circle cx="1709.8" cy="1075.2" r="9.8"/>
<circle cx="1728.6" cy="1076.6" r="9.8"/>
<circle cx="1747.4" cy="1078.0" r="9.8"/>
<circle cx="1766.2" cy="1079.6" r="9.8"/>
<circle cx="1785.0" cy="1081.2" r="9.8"/>
</g>
</g>
<g>
<rect x="313.9" y="47.7" width="184" height="8.6" fill="#7a0fd9" shape-rendering="crispEdges"/>
<circle cx="407.1" cy="52.3" r="9.4" fill="none" stroke="#7a0fd9" stroke-width="2.4"/>
<text transform="translate(512.2 70.7) scale(0.967 1)" font-size="63.5" fill="#7a0fd9">2.0 K</text>
</g>
<g>
<rect x="313.9" y="104.3" width="184" height="8.6" fill="#0000cd" shape-rendering="crispEdges"/>
<circle cx="407.1" cy="108.9" r="9.4" fill="none" stroke="#0000cd" stroke-width="2.4"/>
<text transform="translate(512.2 127.3) scale(0.967 1)" font-size="63.5" fill="#0000cd">2.2 K</text>
</g>
<g>
<rect x="313.9" y="159.7" width="184" height="8.6" fill="#0066ff" shape-rendering="crispEdges"/>
<circle cx="407.1" cy="164.3" r="9.4" fill="none" stroke="#0066ff" stroke-width="2.4"/>
<text transform="translate(512.2 182.7) scale(0.967 1)" font-size="63.5" fill="#0066ff">2.4 K</text>
</g>
<g>
<rect x="313.9" y="216.7" width="184" height="8.6" fill="#00a8e8" shape-rendering="crispEdges"/>
<circle cx="407.1" cy="221.3" r="9.4" fill="none" stroke="#00a8e8" stroke-width="2.4"/>
<text transform="translate(512.2 239.7) scale(0.967 1)" font-size="63.5" fill="#00a8e8">2.6 K</text>
</g>
<g>
<rect x="680.8" y="47.7" width="184" height="8.6" fill="#00c8ff" shape-rendering="crispEdges"/>
<circle cx="774.0" cy="52.3" r="9.4" fill="none" stroke="#00c8ff" stroke-width="2.4"/>
<text transform="translate(879.5 70.7) scale(0.967 1)" font-size="63.5" fill="#00c8ff">2.8 K</text>
</g>
<g>
<rect x="680.8" y="104.3" width="184" height="8.6" fill="#00f0ff" shape-rendering="crispEdges"/>
<circle cx="774.0" cy="108.9" r="9.4" fill="none" stroke="#00f0ff" stroke-width="2.4"/>
<text transform="translate(879.5 127.3) scale(0.967 1)" font-size="63.5" fill="#00f0ff">3.0 K</text>
</g>
<g>
<rect x="680.8" y="159.7" width="184" height="8.6" fill="#c8f014" shape-rendering="crispEdges"/>
<circle cx="774.0" cy="164.3" r="9.4" fill="none" stroke="#c8f014" stroke-width="2.4"/>
<text transform="translate(879.5 182.7) scale(0.967 1)" font-size="63.5" fill="#c8f014">3.2 K</text>
</g>
<g>
<rect x="680.8" y="216.7" width="184" height="8.6" fill="#00f500" shape-rendering="crispEdges"/>
<circle cx="774.0" cy="221.3" r="9.4" fill="none" stroke="#00f500" stroke-width="2.4"/>
<text transform="translate(879.5 239.7) scale(0.967 1)" font-size="63.5" fill="#00f500">3.4 K</text>
</g>
<g>
<rect x="1046.7" y="47.7" width="184" height="8.6" fill="#8cbe14" shape-rendering="crispEdges"/>
<circle cx="1139.9" cy="52.3" r="9.4" fill="none" stroke="#8cbe14" stroke-width="2.4"/>
<text transform="translate(1247.0 70.7) scale(0.967 1)" font-size="63.5" fill="#8cbe14">3.6 K</text>
</g>
<g>
<rect x="1046.7" y="104.3" width="184" height="8.6" fill="#008200" shape-rendering="crispEdges"/>
<circle cx="1139.9" cy="108.9" r="9.4" fill="none" stroke="#008200" stroke-width="2.4"/>
<text transform="translate(1247.0 127.3) scale(0.967 1)" font-size="63.5" fill="#008200">3.8 K</text>
</g>
<g>
<rect x="1046.7" y="159.7" width="184" height="8.6" fill="#ff8c0a" shape-rendering="crispEdges"/>
<circle cx="1139.9" cy="164.3" r="9.4" fill="none" stroke="#ff8c0a" stroke-width="2.4"/>
<text transform="translate(1247.0 182.7) scale(0.967 1)" font-size="63.5" fill="#ff8c0a">4.0 K</text>
</g>
<g>
<rect x="1046.7" y="216.7" width="184" height="8.6" fill="#ff6400" shape-rendering="crispEdges"/>
<circle cx="1139.9" cy="221.3" r="9.4" fill="none" stroke="#ff6400" stroke-width="2.4"/>
<text transform="translate(1247.0 239.7) scale(0.967 1)" font-size="63.5" fill="#ff6400">4.5 K</text>
</g>
<g>
<rect x="1411.9" y="47.7" width="184" height="8.6" fill="#ff0a0a" shape-rendering="crispEdges"/>
<circle cx="1505.1" cy="52.3" r="9.4" fill="none" stroke="#ff0a0a" stroke-width="2.4"/>
<text transform="translate(1613.3 70.7) scale(0.967 1)" font-size="63.5" fill="#ff0a0a">5.0 K</text>
</g>
<g>
<rect x="1411.9" y="104.3" width="184" height="8.6" fill="#ff0a0a" shape-rendering="crispEdges"/>
<circle cx="1505.1" cy="108.9" r="9.4" fill="none" stroke="#ff0a0a" stroke-width="2.4"/>
<text transform="translate(1613.3 127.3) scale(0.967 1)" font-size="63.5" fill="#ff0a0a">5.5 K</text>
</g>
<g>
<rect x="1411.9" y="159.7" width="184" height="8.6" fill="#dc0000" shape-rendering="crispEdges"/>
<circle cx="1505.1" cy="164.3" r="9.4" fill="none" stroke="#dc0000" stroke-width="2.4"/>
<text transform="translate(1613.3 182.7) scale(0.967 1)" font-size="63.5" fill="#dc0000">6.0 K</text>
</g>
<text transform="translate(253.0 1182.6) scale(0.985 1)" font-size="95.0" text-anchor="end" fill="#000">0.4</text>
<text transform="translate(253.0 978.7) scale(0.985 1)" font-size="95.0" text-anchor="end" fill="#000">0.6</text>
<text transform="translate(253.0 774.7) scale(0.985 1)" font-size="95.0" text-anchor="end" fill="#000">0.8</text>
<text transform="translate(253.0 570.8) scale(0.985 1)" font-size="95.0" text-anchor="end" fill="#000">1.0</text>
<text transform="translate(253.0 366.8) scale(0.985 1)" font-size="95.0" text-anchor="end" fill="#000">1.2</text>
<text transform="translate(253.0 162.9) scale(0.985 1)" font-size="95.0" text-anchor="end" fill="#000">1.4</text>
<text transform="translate(241.6 1276.3) scale(0.950 1)" font-size="95.0" fill="#000">10</text>
<text transform="translate(334.1 1257.2) scale(1.000 1)" font-size="65.0" fill="#000">1</text>
<text transform="translate(736.0 1276.3) scale(0.950 1)" font-size="95.0" fill="#000">10</text>
<text transform="translate(825.0 1257.2) scale(1.000 1)" font-size="65.0" fill="#000">2</text>
<text transform="translate(1230.5 1276.3) scale(0.950 1)" font-size="95.0" fill="#000">10</text>
<text transform="translate(1319.5 1257.2) scale(1.000 1)" font-size="65.0" fill="#000">3</text>
<text transform="translate(1724.9 1276.3) scale(0.950 1)" font-size="95.0" fill="#000">10</text>
<text transform="translate(1813.9 1257.2) scale(1.000 1)" font-size="65.0" fill="#000">4</text>
<text transform="translate(920.5 1364.6) scale(1.02 1)" font-size="100" fill="#000">ν</text>
<text transform="translate(993.7 1364.6) scale(0.99 1)" font-size="95.0" fill="#000">(Hz)</text>
<g transform="translate(88.5 941) rotate(-90)" fill="#000">
<text transform="translate(2.2 0) scale(0.76 0.88)" font-size="100" style="font-family:'DejaVu Serif','Liberation Serif',serif">χ</text>
<text x="52.5" y="4" font-size="100">'</text>
<text x="68" y="18.5" font-size="62.0">m</text>
<text x="139.5" y="0" font-size="95.0">(</text>
<text x="170.5" y="0" font-size="95.0">c</text>
<text x="209.5" y="0" font-size="95.0">m</text>
<text x="281" y="-19.5" font-size="62.0">3</text>
<text x="335" y="0" font-size="95.0">mol</text>
<text x="482" y="-19.5" font-size="62.0">-</text>
<text x="500" y="-19.5" font-size="62.0">1</text>
<text x="533" y="0" font-size="95.0">)</text>
</g>
</svg></body></html>
